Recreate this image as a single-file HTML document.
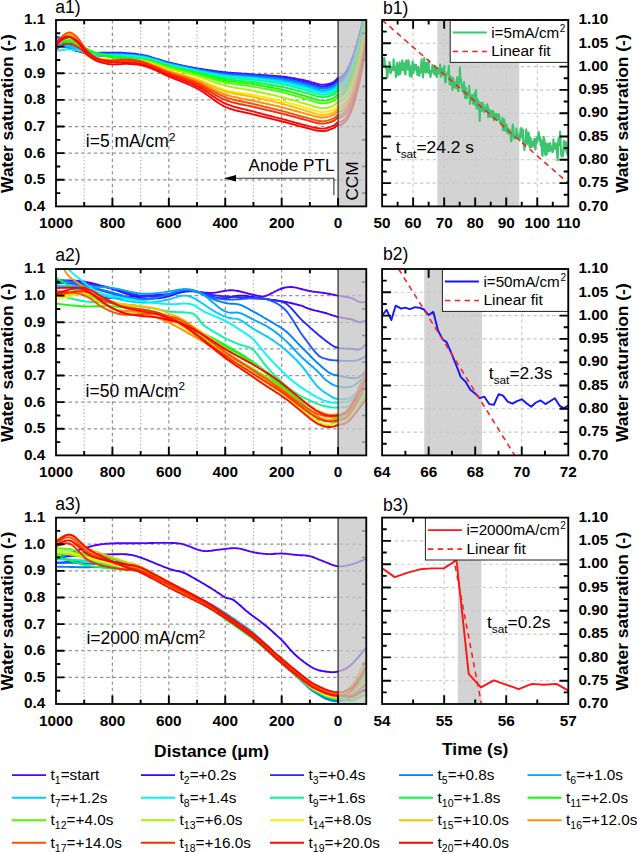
<!DOCTYPE html>
<html><head><meta charset="utf-8"><style>
html,body{margin:0;padding:0;background:#fff;width:637px;height:852px;overflow:hidden}
svg{display:block;font-family:"Liberation Sans",sans-serif}
</style></head><body>
<svg width="637" height="852" viewBox="0 0 637 852" font-family="Liberation Sans, sans-serif">
<defs>
<clipPath id="clipA0"><rect x="56.0" y="20.0" width="310.3" height="186.4"/></clipPath>
<clipPath id="clipB0"><rect x="382.1" y="20.0" width="186.19999999999993" height="186.4"/></clipPath>
<clipPath id="clipA1"><rect x="56.0" y="269.0" width="310.3" height="186.4"/></clipPath>
<clipPath id="clipB1"><rect x="382.1" y="269.0" width="186.19999999999993" height="186.4"/></clipPath>
<clipPath id="clipA2"><rect x="56.0" y="517.6" width="310.3" height="186.4"/></clipPath>
<clipPath id="clipB2"><rect x="382.1" y="517.6" width="186.19999999999993" height="186.4"/></clipPath>
</defs>
<rect width="637" height="852" fill="#fff"/>
<g>
<line x1="56.0" y1="46.63" x2="366.3" y2="46.63" stroke="#959595" stroke-width="1.25" stroke-dasharray="3.4 2.9"/>
<line x1="56.0" y1="73.26" x2="366.3" y2="73.26" stroke="#959595" stroke-width="1.25" stroke-dasharray="3.4 2.9"/>
<line x1="56.0" y1="99.89" x2="366.3" y2="99.89" stroke="#959595" stroke-width="1.25" stroke-dasharray="3.4 2.9"/>
<line x1="56.0" y1="126.51" x2="366.3" y2="126.51" stroke="#959595" stroke-width="1.25" stroke-dasharray="3.4 2.9"/>
<line x1="56.0" y1="153.14" x2="366.3" y2="153.14" stroke="#959595" stroke-width="1.25" stroke-dasharray="3.4 2.9"/>
<line x1="56.0" y1="179.77" x2="366.3" y2="179.77" stroke="#959595" stroke-width="1.25" stroke-dasharray="3.4 2.9"/>
<line x1="112.42" y1="20.0" x2="112.42" y2="206.4" stroke="#959595" stroke-width="1.25" stroke-dasharray="3.4 2.9"/>
<line x1="168.84" y1="20.0" x2="168.84" y2="206.4" stroke="#959595" stroke-width="1.25" stroke-dasharray="3.4 2.9"/>
<line x1="225.25" y1="20.0" x2="225.25" y2="206.4" stroke="#959595" stroke-width="1.25" stroke-dasharray="3.4 2.9"/>
<line x1="281.67" y1="20.0" x2="281.67" y2="206.4" stroke="#959595" stroke-width="1.25" stroke-dasharray="3.4 2.9"/>
<line x1="84.21" y1="20.0" x2="84.21" y2="206.4" stroke="#b4b4b4" stroke-width="1.25" stroke-dasharray="1.2 2.3"/>
<line x1="140.63" y1="20.0" x2="140.63" y2="206.4" stroke="#b4b4b4" stroke-width="1.25" stroke-dasharray="1.2 2.3"/>
<line x1="197.05" y1="20.0" x2="197.05" y2="206.4" stroke="#b4b4b4" stroke-width="1.25" stroke-dasharray="1.2 2.3"/>
<line x1="253.46" y1="20.0" x2="253.46" y2="206.4" stroke="#b4b4b4" stroke-width="1.25" stroke-dasharray="1.2 2.3"/>
<line x1="309.88" y1="20.0" x2="309.88" y2="206.4" stroke="#b4b4b4" stroke-width="1.25" stroke-dasharray="1.2 2.3"/>
<g clip-path="url(#clipA0)" fill="none" stroke-width="1.9" stroke-linejoin="round">
<path d="M366.3 4.0L364.9 10.9L363.5 17.5L362.1 23.7L360.7 29.6L359.2 35.2L357.8 40.5L356.4 45.4L355.0 50.0L353.6 54.3L352.2 58.2L350.8 61.8L349.4 65.1L348.0 68.0L346.6 70.5L345.1 72.7L343.7 74.6L342.3 76.0L340.9 77.1L339.5 77.8L338.1 77.8L336.7 79.2L335.3 80.7L333.9 81.8L332.4 82.5L331.0 83.1L329.6 83.6L328.2 84.0L326.8 84.3L325.4 84.5L324.0 84.6L322.6 84.6L321.2 84.6L319.8 84.4L318.3 84.1L316.9 83.8L315.5 83.4L314.1 83.0L312.7 82.6L311.3 82.2L309.9 81.7L308.5 81.3L307.1 81.0L305.7 80.6L304.2 80.3L302.8 80.0L301.4 79.7L300.0 79.4L298.6 79.1L297.2 78.9L295.8 78.6L294.4 78.3L293.0 78.1L291.5 77.9L290.1 77.6L288.7 77.4L287.3 77.2L285.9 77.0L284.5 76.8L283.1 76.6L281.7 76.5L280.3 76.3L278.9 76.2L277.4 76.1L276.0 76.0L274.6 75.9L273.2 75.8L271.8 75.7L270.4 75.6L269.0 75.5L267.6 75.5L266.2 75.4L264.7 75.3L263.3 75.3L261.9 75.2L260.5 75.1L259.1 75.1L257.7 75.0L256.3 74.9L254.9 74.9L253.5 74.8L252.1 74.7L250.6 74.6L249.2 74.6L247.8 74.5L246.4 74.4L245.0 74.4L243.6 74.3L242.2 74.3L240.8 74.2L239.4 74.2L237.9 74.1L236.5 74.0L235.1 74.0L233.7 73.9L232.3 73.8L230.9 73.7L229.5 73.6L228.1 73.5L226.7 73.3L225.3 73.2L223.8 73.0L222.4 72.9L221.0 72.7L219.6 72.5L218.2 72.4L216.8 72.2L215.4 72.0L214.0 71.8L212.6 71.5L211.2 71.3L209.7 71.1L208.3 70.9L206.9 70.6L205.5 70.4L204.1 70.2L202.7 69.9L201.3 69.7L199.9 69.4L198.5 69.1L197.0 68.9L195.6 68.6L194.2 68.3L192.8 68.1L191.4 67.8L190.0 67.5L188.6 67.2L187.2 66.9L185.8 66.6L184.4 66.3L182.9 66.0L181.5 65.7L180.1 65.4L178.7 65.0L177.3 64.7L175.9 64.4L174.5 64.1L173.1 63.7L171.7 63.4L170.2 63.1L168.8 62.7L167.4 62.4L166.0 62.0L164.6 61.6L163.2 61.2L161.8 60.7L160.4 60.3L159.0 59.8L157.6 59.4L156.1 59.0L154.7 58.6L153.3 58.3L151.9 57.9L150.5 57.6L149.1 57.3L147.7 57.0L146.3 56.7L144.9 56.5L143.4 56.3L142.0 56.2L140.6 56.0L139.2 55.9L137.8 55.9L136.4 55.8L135.0 55.7L133.6 55.7L132.2 55.6L130.8 55.6L129.3 55.6L127.9 55.5L126.5 55.5L125.1 55.5L123.7 55.5L122.3 55.5L120.9 55.5L119.5 55.5L118.1 55.5L116.6 55.5L115.2 55.5L113.8 55.5L112.4 55.5L111.0 55.4L109.6 55.4L108.2 55.4L106.8 55.4L105.4 55.4L104.0 55.4L102.5 55.4L101.1 55.4L99.7 55.4L98.3 55.3L96.9 55.2L95.5 55.1L94.1 55.0L92.7 54.8L91.3 54.5L89.9 54.3L88.4 54.0L87.0 53.7L85.6 53.3L84.2 53.0L82.8 52.6L81.4 52.2L80.0 51.8L78.6 51.4L77.2 51.0L75.7 50.5L74.3 50.0L72.9 49.4L71.5 48.9L70.1 48.4L68.7 47.9L67.3 47.4L65.9 47.0L64.5 46.6L63.1 46.2L61.6 45.9L60.2 45.5L58.8 45.1L57.4 44.8L56.0 44.4" stroke="#5500ff"/>
<path d="M366.3 4.9L364.9 11.8L363.5 18.4L362.1 24.7L360.7 30.7L359.2 36.3L357.8 41.6L356.4 46.5L355.0 51.1L353.6 55.4L352.2 59.4L350.8 63.0L349.4 66.2L348.0 69.1L346.6 71.7L345.1 73.9L343.7 75.7L342.3 77.1L340.9 78.2L339.5 78.9L338.1 79.3L336.7 80.7L335.3 82.2L333.9 83.4L332.4 84.1L331.0 84.7L329.6 85.2L328.2 85.6L326.8 86.0L325.4 86.2L324.0 86.4L322.6 86.4L321.2 86.4L319.8 86.2L318.3 85.9L316.9 85.6L315.5 85.2L314.1 84.8L312.7 84.4L311.3 84.0L309.9 83.5L308.5 83.1L307.1 82.7L305.7 82.4L304.2 82.0L302.8 81.7L301.4 81.4L300.0 81.1L298.6 80.8L297.2 80.4L295.8 80.1L294.4 79.8L293.0 79.5L291.5 79.3L290.1 79.0L288.7 78.7L287.3 78.4L285.9 78.2L284.5 77.9L283.1 77.7L281.7 77.5L280.3 77.3L278.9 77.1L277.4 76.9L276.0 76.7L274.6 76.6L273.2 76.4L271.8 76.3L270.4 76.1L269.0 76.0L267.6 75.8L266.2 75.7L264.7 75.6L263.3 75.4L261.9 75.3L260.5 75.2L259.1 75.0L257.7 74.9L256.3 74.8L254.9 74.6L253.5 74.5L252.1 74.4L250.6 74.3L249.2 74.1L247.8 74.0L246.4 73.9L245.0 73.8L243.6 73.7L242.2 73.6L240.8 73.5L239.4 73.4L237.9 73.3L236.5 73.2L235.1 73.1L233.7 73.0L232.3 72.9L230.9 72.8L229.5 72.7L228.1 72.6L226.7 72.4L225.3 72.3L223.8 72.1L222.4 72.0L221.0 71.8L219.6 71.6L218.2 71.5L216.8 71.3L215.4 71.1L214.0 70.9L212.6 70.7L211.2 70.5L209.7 70.3L208.3 70.1L206.9 69.9L205.5 69.7L204.1 69.5L202.7 69.3L201.3 69.0L199.9 68.8L198.5 68.6L197.0 68.4L195.6 68.2L194.2 67.9L192.8 67.7L191.4 67.5L190.0 67.2L188.6 67.0L187.2 66.7L185.8 66.5L184.4 66.2L182.9 66.0L181.5 65.7L180.1 65.5L178.7 65.2L177.3 64.9L175.9 64.7L174.5 64.4L173.1 64.1L171.7 63.8L170.2 63.5L168.8 63.2L167.4 62.9L166.0 62.6L164.6 62.2L163.2 61.8L161.8 61.4L160.4 61.0L159.0 60.5L157.6 60.1L156.1 59.8L154.7 59.4L153.3 59.2L151.9 59.0L150.5 58.8L149.1 58.6L147.7 58.4L146.3 58.3L144.9 58.2L143.4 58.1L142.0 58.1L140.6 58.0L139.2 58.0L137.8 58.0L136.4 58.0L135.0 58.0L133.6 58.1L132.2 58.1L130.8 58.1L129.3 58.0L127.9 58.0L126.5 58.0L125.1 57.9L123.7 57.9L122.3 57.8L120.9 57.7L119.5 57.6L118.1 57.5L116.6 57.4L115.2 57.3L113.8 57.1L112.4 56.9L111.0 56.7L109.6 56.5L108.2 56.2L106.8 56.0L105.4 55.7L104.0 55.4L102.5 55.1L101.1 54.8L99.7 54.4L98.3 54.0L96.9 53.6L95.5 53.2L94.1 52.7L92.7 52.1L91.3 51.5L89.9 50.8L88.4 50.2L87.0 49.5L85.6 48.8L84.2 48.1L82.8 47.3L81.4 46.6L80.0 45.8L78.6 45.1L77.2 44.3L75.7 43.6L74.3 42.8L72.9 42.0L71.5 41.3L70.1 40.5L68.7 40.0L67.3 39.5L65.9 39.1L64.5 38.7L63.1 38.4L61.6 38.1L60.2 37.9L58.8 37.7L57.4 37.5L56.0 37.3" stroke="#4000ff"/>
<path d="M366.3 5.6L364.9 12.6L363.5 19.2L362.1 25.5L360.7 31.5L359.2 37.1L357.8 42.4L356.4 47.4L355.0 52.0L353.6 56.3L352.2 60.2L350.8 63.8L349.4 67.1L348.0 70.0L346.6 72.5L345.1 74.7L343.7 76.5L342.3 78.0L340.9 79.0L339.5 79.7L338.1 80.7L336.7 82.0L335.3 83.5L333.9 84.6L332.4 85.3L331.0 85.9L329.6 86.3L328.2 86.7L326.8 87.0L325.4 87.2L324.0 87.3L322.6 87.3L321.2 87.2L319.8 87.0L318.3 86.7L316.9 86.4L315.5 86.0L314.1 85.5L312.7 85.1L311.3 84.6L309.9 84.1L308.5 83.7L307.1 83.3L305.7 82.9L304.2 82.5L302.8 82.1L301.4 81.8L300.0 81.5L298.6 81.1L297.2 80.8L295.8 80.5L294.4 80.2L293.0 79.8L291.5 79.5L290.1 79.3L288.7 79.0L287.3 78.7L285.9 78.4L284.5 78.2L283.1 78.0L281.7 77.7L280.3 77.5L278.9 77.4L277.4 77.2L276.0 77.0L274.6 76.9L273.2 76.7L271.8 76.6L270.4 76.4L269.0 76.3L267.6 76.2L266.2 76.1L264.7 75.9L263.3 75.8L261.9 75.7L260.5 75.6L259.1 75.5L257.7 75.4L256.3 75.3L254.9 75.2L253.5 75.1L252.1 75.0L250.6 74.8L249.2 74.8L247.8 74.7L246.4 74.6L245.0 74.5L243.6 74.4L242.2 74.3L240.8 74.3L239.4 74.2L237.9 74.1L236.5 74.0L235.1 73.9L233.7 73.8L232.3 73.7L230.9 73.6L229.5 73.5L228.1 73.4L226.7 73.2L225.3 73.1L223.8 72.9L222.4 72.8L221.0 72.6L219.6 72.4L218.2 72.2L216.8 72.0L215.4 71.8L214.0 71.6L212.6 71.4L211.2 71.2L209.7 70.9L208.3 70.7L206.9 70.5L205.5 70.2L204.1 70.0L202.7 69.7L201.3 69.5L199.9 69.2L198.5 68.9L197.0 68.7L195.6 68.4L194.2 68.1L192.8 67.8L191.4 67.6L190.0 67.3L188.6 67.0L187.2 66.7L185.8 66.4L184.4 66.1L182.9 65.8L181.5 65.5L180.1 65.1L178.7 64.8L177.3 64.5L175.9 64.2L174.5 63.8L173.1 63.5L171.7 63.2L170.2 62.8L168.8 62.5L167.4 62.1L166.0 61.7L164.6 61.3L163.2 60.9L161.8 60.5L160.4 60.0L159.0 59.5L157.6 59.1L156.1 58.7L154.7 58.3L153.3 57.8L151.9 57.4L150.5 56.9L149.1 56.5L147.7 56.1L146.3 55.7L144.9 55.4L143.4 55.1L142.0 54.8L140.6 54.6L139.2 54.4L137.8 54.2L136.4 54.0L135.0 53.8L133.6 53.7L132.2 53.5L130.8 53.4L129.3 53.3L127.9 53.2L126.5 53.1L125.1 53.0L123.7 52.9L122.3 52.8L120.9 52.8L119.5 52.7L118.1 52.7L116.6 52.6L115.2 52.6L113.8 52.6L112.4 52.6L111.0 52.6L109.6 52.6L108.2 52.6L106.8 52.6L105.4 52.6L104.0 52.7L102.5 52.7L101.1 52.8L99.7 52.8L98.3 52.9L96.9 52.9L95.5 52.9L94.1 52.9L92.7 52.8L91.3 52.7L89.9 52.6L88.4 52.5L87.0 52.3L85.6 52.1L84.2 52.0L82.8 51.8L81.4 51.6L80.0 51.4L78.6 51.1L77.2 50.8L75.7 50.5L74.3 50.0L72.9 49.5L71.5 48.9L70.1 48.2L68.7 47.3L67.3 46.4L65.9 45.4L64.5 44.4L63.1 43.3L61.6 42.3L60.2 41.5L58.8 40.8L57.4 40.4L56.0 40.1" stroke="#2828ff"/>
<path d="M366.3 6.7L364.9 13.7L363.5 20.4L362.1 26.8L360.7 32.8L359.2 38.4L357.8 43.8L356.4 48.8L355.0 53.4L353.6 57.7L352.2 61.7L350.8 65.3L349.4 68.5L348.0 71.4L346.6 73.9L345.1 76.1L343.7 77.9L342.3 79.3L340.9 80.4L339.5 81.0L338.1 81.3L336.7 82.7L335.3 84.2L333.9 85.3L332.4 86.0L331.0 86.5L329.6 87.0L328.2 87.4L326.8 87.7L325.4 87.9L324.0 88.0L322.6 88.0L321.2 87.9L319.8 87.7L318.3 87.4L316.9 87.0L315.5 86.6L314.1 86.2L312.7 85.7L311.3 85.3L309.9 84.8L308.5 84.4L307.1 83.9L305.7 83.5L304.2 83.2L302.8 82.8L301.4 82.5L300.0 82.1L298.6 81.8L297.2 81.5L295.8 81.1L294.4 80.8L293.0 80.5L291.5 80.2L290.1 79.9L288.7 79.6L287.3 79.3L285.9 79.1L284.5 78.8L283.1 78.6L281.7 78.3L280.3 78.1L278.9 77.9L277.4 77.7L276.0 77.6L274.6 77.4L273.2 77.2L271.8 77.1L270.4 76.9L269.0 76.8L267.6 76.6L266.2 76.5L264.7 76.4L263.3 76.3L261.9 76.1L260.5 76.0L259.1 75.9L257.7 75.8L256.3 75.7L254.9 75.5L253.5 75.4L252.1 75.3L250.6 75.2L249.2 75.1L247.8 75.0L246.4 74.9L245.0 74.8L243.6 74.7L242.2 74.7L240.8 74.6L239.4 74.5L237.9 74.4L236.5 74.3L235.1 74.2L233.7 74.1L232.3 74.0L230.9 73.9L229.5 73.8L228.1 73.7L226.7 73.6L225.3 73.4L223.8 73.2L222.4 73.1L221.0 72.9L219.6 72.7L218.2 72.5L216.8 72.3L215.4 72.1L214.0 71.9L212.6 71.7L211.2 71.5L209.7 71.3L208.3 71.1L206.9 70.8L205.5 70.6L204.1 70.3L202.7 70.1L201.3 69.9L199.9 69.6L198.5 69.4L197.0 69.1L195.6 68.9L194.2 68.6L192.8 68.3L191.4 68.1L190.0 67.8L188.6 67.5L187.2 67.3L185.8 67.0L184.4 66.7L182.9 66.4L181.5 66.1L180.1 65.8L178.7 65.5L177.3 65.2L175.9 64.9L174.5 64.6L173.1 64.3L171.7 64.0L170.2 63.7L168.8 63.4L167.4 63.0L166.0 62.6L164.6 62.3L163.2 61.8L161.8 61.4L160.4 60.9L159.0 60.5L157.6 60.1L156.1 59.7L154.7 59.3L153.3 59.0L151.9 58.7L150.5 58.3L149.1 58.0L147.7 57.7L146.3 57.5L144.9 57.3L143.4 57.1L142.0 57.0L140.6 56.9L139.2 56.8L137.8 56.7L136.4 56.6L135.0 56.6L133.6 56.5L132.2 56.5L130.8 56.5L129.3 56.4L127.9 56.4L126.5 56.4L125.1 56.3L123.7 56.3L122.3 56.3L120.9 56.3L119.5 56.3L118.1 56.2L116.6 56.2L115.2 56.2L113.8 56.2L112.4 56.1L111.0 56.1L109.6 56.0L108.2 56.0L106.8 55.9L105.4 55.9L104.0 55.8L102.5 55.7L101.1 55.7L99.7 55.6L98.3 55.5L96.9 55.3L95.5 55.2L94.1 55.0L92.7 54.7L91.3 54.4L89.9 54.1L88.4 53.7L87.0 53.3L85.6 52.9L84.2 52.5L82.8 52.0L81.4 51.5L80.0 51.1L78.6 50.6L77.2 50.0L75.7 49.4L74.3 48.7L72.9 47.9L71.5 47.0L70.1 46.1L68.7 45.0L67.3 43.9L65.9 42.7L64.5 41.5L63.1 40.4L61.6 39.2L60.2 38.3L58.8 37.5L57.4 37.0L56.0 36.7" stroke="#1a55ff"/>
<path d="M366.3 7.9L364.9 14.9L363.5 21.7L362.1 28.1L360.7 34.1L359.2 39.8L357.8 45.2L356.4 50.2L355.0 54.8L353.6 59.1L352.2 63.1L350.8 66.7L349.4 69.9L348.0 72.8L346.6 75.3L345.1 77.5L343.7 79.3L342.3 80.7L340.9 81.7L339.5 82.4L338.1 81.9L336.7 83.3L335.3 84.7L333.9 85.8L332.4 86.5L331.0 87.0L329.6 87.4L328.2 87.8L326.8 88.1L325.4 88.3L324.0 88.4L322.6 88.4L321.2 88.3L319.8 88.1L318.3 87.8L316.9 87.5L315.5 87.1L314.1 86.6L312.7 86.2L311.3 85.7L309.9 85.3L308.5 84.8L307.1 84.4L305.7 84.0L304.2 83.7L302.8 83.3L301.4 83.0L300.0 82.7L298.6 82.4L297.2 82.1L295.8 81.7L294.4 81.4L293.0 81.1L291.5 80.9L290.1 80.6L288.7 80.3L287.3 80.1L285.9 79.8L284.5 79.6L283.1 79.4L281.7 79.2L280.3 79.0L278.9 78.8L277.4 78.7L276.0 78.5L274.6 78.4L273.2 78.2L271.8 78.1L270.4 78.0L269.0 77.9L267.6 77.8L266.2 77.6L264.7 77.5L263.3 77.4L261.9 77.3L260.5 77.3L259.1 77.2L257.7 77.1L256.3 77.0L254.9 76.9L253.5 76.8L252.1 76.7L250.6 76.6L249.2 76.5L247.8 76.4L246.4 76.3L245.0 76.2L243.6 76.2L242.2 76.1L240.8 76.0L239.4 75.9L237.9 75.9L236.5 75.8L235.1 75.7L233.7 75.6L232.3 75.5L230.9 75.4L229.5 75.3L228.1 75.1L226.7 75.0L225.3 74.8L223.8 74.7L222.4 74.5L221.0 74.3L219.6 74.1L218.2 73.9L216.8 73.6L215.4 73.4L214.0 73.2L212.6 72.9L211.2 72.7L209.7 72.4L208.3 72.2L206.9 71.9L205.5 71.6L204.1 71.3L202.7 71.1L201.3 70.8L199.9 70.5L198.5 70.2L197.0 69.9L195.6 69.6L194.2 69.3L192.8 69.0L191.4 68.7L190.0 68.4L188.6 68.1L187.2 67.8L185.8 67.5L184.4 67.2L182.9 66.8L181.5 66.5L180.1 66.2L178.7 65.9L177.3 65.5L175.9 65.2L174.5 64.8L173.1 64.5L171.7 64.2L170.2 63.8L168.8 63.4L167.4 63.1L166.0 62.7L164.6 62.3L163.2 61.8L161.8 61.3L160.4 60.9L159.0 60.4L157.6 59.9L156.1 59.5L154.7 59.1L153.3 58.7L151.9 58.3L150.5 57.9L149.1 57.5L147.7 57.1L146.3 56.7L144.9 56.4L143.4 56.2L142.0 55.9L140.6 55.7L139.2 55.5L137.8 55.4L136.4 55.2L135.0 55.1L133.6 54.9L132.2 54.8L130.8 54.7L129.3 54.6L127.9 54.5L126.5 54.5L125.1 54.4L123.7 54.3L122.3 54.3L120.9 54.2L119.5 54.2L118.1 54.2L116.6 54.2L115.2 54.1L113.8 54.1L112.4 54.1L111.0 54.1L109.6 54.0L108.2 54.0L106.8 54.0L105.4 54.0L104.0 54.0L102.5 54.0L101.1 53.9L99.7 53.9L98.3 53.9L96.9 53.8L95.5 53.7L94.1 53.5L92.7 53.3L91.3 53.1L89.9 52.8L88.4 52.5L87.0 52.2L85.6 51.9L84.2 51.5L82.8 51.1L81.4 50.7L80.0 50.3L78.6 49.9L77.2 49.5L75.7 49.1L74.3 48.7L72.9 48.3L71.5 47.9L70.1 47.5L68.7 47.2L67.3 46.9L65.9 46.7L64.5 46.5L63.1 46.4L61.6 46.3L60.2 46.2L58.8 46.2L57.4 46.1L56.0 46.0" stroke="#0080ff"/>
<path d="M366.3 9.0L364.9 16.1L363.5 22.9L362.1 29.3L360.7 35.4L359.2 41.2L357.8 46.5L356.4 51.6L355.0 56.2L353.6 60.6L352.2 64.5L350.8 68.1L349.4 71.4L348.0 74.2L346.6 76.7L345.1 78.9L343.7 80.7L342.3 82.1L340.9 83.1L339.5 83.7L338.1 83.8L336.7 85.1L335.3 86.6L333.9 87.6L332.4 88.3L331.0 88.8L329.6 89.3L328.2 89.6L326.8 89.9L325.4 90.1L324.0 90.2L322.6 90.2L321.2 90.1L319.8 89.9L318.3 89.6L316.9 89.2L315.5 88.8L314.1 88.4L312.7 87.9L311.3 87.4L309.9 86.9L308.5 86.5L307.1 86.1L305.7 85.7L304.2 85.3L302.8 84.9L301.4 84.6L300.0 84.2L298.6 83.9L297.2 83.5L295.8 83.2L294.4 82.9L293.0 82.5L291.5 82.2L290.1 81.9L288.7 81.6L287.3 81.4L285.9 81.1L284.5 80.8L283.1 80.6L281.7 80.3L280.3 80.1L278.9 79.9L277.4 79.7L276.0 79.5L274.6 79.4L273.2 79.2L271.8 79.1L270.4 78.9L269.0 78.8L267.6 78.6L266.2 78.5L264.7 78.3L263.3 78.2L261.9 78.1L260.5 78.0L259.1 77.8L257.7 77.7L256.3 77.6L254.9 77.5L253.5 77.3L252.1 77.2L250.6 77.1L249.2 77.0L247.8 76.9L246.4 76.8L245.0 76.7L243.6 76.6L242.2 76.5L240.8 76.4L239.4 76.3L237.9 76.2L236.5 76.1L235.1 76.0L233.7 75.9L232.3 75.8L230.9 75.7L229.5 75.6L228.1 75.4L226.7 75.3L225.3 75.1L223.8 74.9L222.4 74.7L221.0 74.5L219.6 74.3L218.2 74.1L216.8 73.8L215.4 73.6L214.0 73.3L212.6 73.1L211.2 72.8L209.7 72.6L208.3 72.3L206.9 72.0L205.5 71.7L204.1 71.4L202.7 71.2L201.3 70.9L199.9 70.6L198.5 70.3L197.0 70.0L195.6 69.7L194.2 69.4L192.8 69.1L191.4 68.8L190.0 68.5L188.6 68.2L187.2 67.9L185.8 67.6L184.4 67.3L182.9 67.0L181.5 66.7L180.1 66.3L178.7 66.0L177.3 65.7L175.9 65.4L174.5 65.0L173.1 64.7L171.7 64.4L170.2 64.0L168.8 63.7L167.4 63.3L166.0 62.9L164.6 62.5L163.2 62.0L161.8 61.6L160.4 61.1L159.0 60.6L157.6 60.2L156.1 59.8L154.7 59.4L153.3 59.0L151.9 58.6L150.5 58.1L149.1 57.7L147.7 57.4L146.3 57.1L144.9 56.8L143.4 56.5L142.0 56.3L140.6 56.1L139.2 55.9L137.8 55.7L136.4 55.6L135.0 55.5L133.6 55.4L132.2 55.3L130.8 55.2L129.3 55.1L127.9 55.0L126.5 54.9L125.1 54.9L123.7 54.8L122.3 54.7L120.9 54.7L119.5 54.6L118.1 54.6L116.6 54.5L115.2 54.5L113.8 54.4L112.4 54.4L111.0 54.3L109.6 54.2L108.2 54.1L106.8 54.1L105.4 54.0L104.0 53.9L102.5 53.8L101.1 53.6L99.7 53.5L98.3 53.3L96.9 53.2L95.5 52.9L94.1 52.7L92.7 52.3L91.3 51.9L89.9 51.5L88.4 51.1L87.0 50.6L85.6 50.1L84.2 49.6L82.8 49.1L81.4 48.5L80.0 48.0L78.6 47.5L77.2 47.1L75.7 46.6L74.3 46.1L72.9 45.7L71.5 45.3L70.1 45.0L68.7 44.8L67.3 44.6L65.9 44.5L64.5 44.5L63.1 44.5L61.6 44.5L60.2 44.5L58.8 44.5L57.4 44.5L56.0 44.4" stroke="#00a5ff"/>
<path d="M366.3 10.1L364.9 17.3L363.5 24.1L362.1 30.6L360.7 36.7L359.2 42.5L357.8 47.9L356.4 53.0L355.0 57.7L353.6 62.0L352.2 65.9L350.8 69.5L349.4 72.8L348.0 75.7L346.6 78.2L345.1 80.3L343.7 82.0L342.3 83.4L340.9 84.4L339.5 85.0L338.1 84.9L336.7 86.3L335.3 87.7L333.9 88.8L332.4 89.5L331.0 90.0L329.6 90.4L328.2 90.8L326.8 91.1L325.4 91.3L324.0 91.4L322.6 91.4L321.2 91.3L319.8 91.1L318.3 90.8L316.9 90.4L315.5 90.0L314.1 89.6L312.7 89.1L311.3 88.6L309.9 88.2L308.5 87.7L307.1 87.3L305.7 86.9L304.2 86.5L302.8 86.1L301.4 85.8L300.0 85.4L298.6 85.0L297.2 84.7L295.8 84.3L294.4 84.0L293.0 83.6L291.5 83.3L290.1 83.0L288.7 82.7L287.3 82.4L285.9 82.1L284.5 81.8L283.1 81.5L281.7 81.3L280.3 81.0L278.9 80.8L277.4 80.6L276.0 80.4L274.6 80.2L273.2 80.0L271.8 79.8L270.4 79.6L269.0 79.5L267.6 79.3L266.2 79.1L264.7 79.0L263.3 78.8L261.9 78.7L260.5 78.5L259.1 78.4L257.7 78.2L256.3 78.1L254.9 78.0L253.5 77.8L252.1 77.7L250.6 77.5L249.2 77.4L247.8 77.3L246.4 77.2L245.0 77.1L243.6 77.0L242.2 76.9L240.8 76.8L239.4 76.7L237.9 76.6L236.5 76.5L235.1 76.3L233.7 76.2L232.3 76.1L230.9 76.0L229.5 75.8L228.1 75.7L226.7 75.5L225.3 75.4L223.8 75.2L222.4 75.0L221.0 74.8L219.6 74.6L218.2 74.3L216.8 74.1L215.4 73.9L214.0 73.6L212.6 73.3L211.2 73.1L209.7 72.8L208.3 72.5L206.9 72.3L205.5 72.0L204.1 71.7L202.7 71.4L201.3 71.2L199.9 70.9L198.5 70.6L197.0 70.3L195.6 70.0L194.2 69.8L192.8 69.5L191.4 69.2L190.0 68.9L188.6 68.6L187.2 68.3L185.8 68.0L184.4 67.7L182.9 67.4L181.5 67.1L180.1 66.8L178.7 66.5L177.3 66.2L175.9 65.9L174.5 65.6L173.1 65.2L171.7 64.9L170.2 64.6L168.8 64.2L167.4 63.9L166.0 63.5L164.6 63.1L163.2 62.7L161.8 62.2L160.4 61.7L159.0 61.3L157.6 60.8L156.1 60.4L154.7 60.0L153.3 59.7L151.9 59.3L150.5 59.0L149.1 58.6L147.7 58.3L146.3 58.1L144.9 57.8L143.4 57.6L142.0 57.5L140.6 57.3L139.2 57.2L137.8 57.1L136.4 57.0L135.0 57.0L133.6 56.9L132.2 56.9L130.8 56.8L129.3 56.8L127.9 56.7L126.5 56.7L125.1 56.7L123.7 56.6L122.3 56.6L120.9 56.6L119.5 56.6L118.1 56.6L116.6 56.5L115.2 56.5L113.8 56.5L112.4 56.4L111.0 56.4L109.6 56.3L108.2 56.2L106.8 56.1L105.4 56.0L104.0 55.9L102.5 55.8L101.1 55.7L99.7 55.5L98.3 55.4L96.9 55.2L95.5 54.9L94.1 54.6L92.7 54.3L91.3 53.9L89.9 53.4L88.4 53.0L87.0 52.5L85.6 51.9L84.2 51.4L82.8 50.8L81.4 50.2L80.0 49.7L78.6 49.2L77.2 48.7L75.7 48.2L74.3 47.8L72.9 47.4L71.5 47.0L70.1 46.7L68.7 46.4L67.3 46.3L65.9 46.2L64.5 46.2L63.1 46.2L61.6 46.3L60.2 46.3L58.8 46.4L57.4 46.4L56.0 46.3" stroke="#00ccff"/>
<path d="M366.3 11.2L364.9 18.5L363.5 25.4L362.1 31.9L360.7 38.1L359.2 43.9L357.8 49.3L356.4 54.4L355.0 59.1L353.6 63.4L352.2 67.4L350.8 71.0L349.4 74.2L348.0 77.1L346.6 79.6L345.1 81.7L343.7 83.4L342.3 84.8L340.9 85.8L339.5 86.4L338.1 86.4L336.7 87.7L335.3 89.2L333.9 90.2L332.4 90.9L331.0 91.4L329.6 91.9L328.2 92.3L326.8 92.5L325.4 92.7L324.0 92.8L322.6 92.8L321.2 92.7L319.8 92.5L318.3 92.2L316.9 91.8L315.5 91.4L314.1 91.0L312.7 90.5L311.3 90.0L309.9 89.5L308.5 89.0L307.1 88.6L305.7 88.2L304.2 87.8L302.8 87.4L301.4 87.0L300.0 86.7L298.6 86.3L297.2 85.9L295.8 85.5L294.4 85.2L293.0 84.8L291.5 84.5L290.1 84.1L288.7 83.8L287.3 83.5L285.9 83.2L284.5 82.9L283.1 82.6L281.7 82.4L280.3 82.1L278.9 81.9L277.4 81.6L276.0 81.4L274.6 81.2L273.2 81.0L271.8 80.8L270.4 80.6L269.0 80.5L267.6 80.3L266.2 80.1L264.7 79.9L263.3 79.8L261.9 79.6L260.5 79.5L259.1 79.3L257.7 79.2L256.3 79.0L254.9 78.9L253.5 78.7L252.1 78.6L250.6 78.5L249.2 78.3L247.8 78.2L246.4 78.1L245.0 78.0L243.6 77.9L242.2 77.8L240.8 77.7L239.4 77.6L237.9 77.5L236.5 77.4L235.1 77.3L233.7 77.2L232.3 77.1L230.9 76.9L229.5 76.8L228.1 76.6L226.7 76.5L225.3 76.3L223.8 76.1L222.4 75.9L221.0 75.7L219.6 75.5L218.2 75.2L216.8 75.0L215.4 74.7L214.0 74.5L212.6 74.2L211.2 73.9L209.7 73.6L208.3 73.4L206.9 73.1L205.5 72.8L204.1 72.5L202.7 72.2L201.3 71.9L199.9 71.6L198.5 71.3L197.0 71.0L195.6 70.7L194.2 70.4L192.8 70.1L191.4 69.8L190.0 69.5L188.6 69.2L187.2 68.9L185.8 68.5L184.4 68.2L182.9 67.9L181.5 67.6L180.1 67.3L178.7 66.9L177.3 66.6L175.9 66.3L174.5 65.9L173.1 65.6L171.7 65.2L170.2 64.9L168.8 64.5L167.4 64.1L166.0 63.7L164.6 63.3L163.2 62.9L161.8 62.4L160.4 61.9L159.0 61.4L157.6 60.9L156.1 60.5L154.7 60.1L153.3 59.7L151.9 59.3L150.5 58.9L149.1 58.5L147.7 58.1L146.3 57.7L144.9 57.4L143.4 57.2L142.0 56.9L140.6 56.7L139.2 56.5L137.8 56.3L136.4 56.2L135.0 56.0L133.6 55.9L132.2 55.8L130.8 55.7L129.3 55.6L127.9 55.5L126.5 55.4L125.1 55.4L123.7 55.3L122.3 55.3L120.9 55.2L119.5 55.2L118.1 55.2L116.6 55.1L115.2 55.1L113.8 55.1L112.4 55.1L111.0 55.0L109.6 55.0L108.2 55.0L106.8 54.9L105.4 54.9L104.0 54.9L102.5 54.8L101.1 54.8L99.7 54.8L98.3 54.7L96.9 54.6L95.5 54.5L94.1 54.3L92.7 54.1L91.3 53.9L89.9 53.6L88.4 53.3L87.0 52.9L85.6 52.6L84.2 52.2L82.8 51.8L81.4 51.4L80.0 51.0L78.6 50.7L77.2 50.4L75.7 50.1L74.3 49.9L72.9 49.7L71.5 49.5L70.1 49.4L68.7 49.4L67.3 49.4L65.9 49.5L64.5 49.7L63.1 49.8L61.6 50.0L60.2 50.2L58.8 50.4L57.4 50.6L56.0 50.7" stroke="#00f5ff"/>
<path d="M366.3 12.8L364.9 20.2L363.5 27.1L362.1 33.7L360.7 39.9L359.2 45.8L357.8 51.2L356.4 56.3L355.0 61.0L353.6 65.4L352.2 69.4L350.8 73.0L349.4 76.2L348.0 79.1L346.6 81.5L345.1 83.6L343.7 85.4L342.3 86.7L340.9 87.7L339.5 88.2L338.1 88.3L336.7 89.6L335.3 91.0L333.9 92.1L332.4 92.8L331.0 93.3L329.6 93.7L328.2 94.1L326.8 94.4L325.4 94.6L324.0 94.7L322.6 94.7L321.2 94.6L319.8 94.4L318.3 94.1L316.9 93.7L315.5 93.3L314.1 92.9L312.7 92.4L311.3 91.9L309.9 91.4L308.5 91.0L307.1 90.5L305.7 90.1L304.2 89.7L302.8 89.3L301.4 88.9L300.0 88.5L298.6 88.1L297.2 87.7L295.8 87.4L294.4 87.0L293.0 86.6L291.5 86.3L290.1 85.9L288.7 85.6L287.3 85.2L285.9 84.9L284.5 84.6L283.1 84.3L281.7 84.0L280.3 83.7L278.9 83.4L277.4 83.2L276.0 82.9L274.6 82.7L273.2 82.5L271.8 82.3L270.4 82.0L269.0 81.8L267.6 81.6L266.2 81.4L264.7 81.3L263.3 81.1L261.9 80.9L260.5 80.7L259.1 80.5L257.7 80.4L256.3 80.2L254.9 80.0L253.5 79.8L252.1 79.7L250.6 79.5L249.2 79.4L247.8 79.2L246.4 79.1L245.0 79.0L243.6 78.9L242.2 78.7L240.8 78.6L239.4 78.5L237.9 78.4L236.5 78.3L235.1 78.2L233.7 78.0L232.3 77.9L230.9 77.8L229.5 77.6L228.1 77.4L226.7 77.3L225.3 77.1L223.8 76.9L222.4 76.7L221.0 76.4L219.6 76.2L218.2 76.0L216.8 75.7L215.4 75.4L214.0 75.2L212.6 74.9L211.2 74.6L209.7 74.3L208.3 74.0L206.9 73.7L205.5 73.4L204.1 73.1L202.7 72.8L201.3 72.5L199.9 72.2L198.5 71.9L197.0 71.6L195.6 71.3L194.2 71.0L192.8 70.7L191.4 70.4L190.0 70.1L188.6 69.8L187.2 69.6L185.8 69.3L184.4 68.9L182.9 68.6L181.5 68.3L180.1 68.0L178.7 67.7L177.3 67.4L175.9 67.1L174.5 66.7L173.1 66.4L171.7 66.1L170.2 65.7L168.8 65.4L167.4 65.0L166.0 64.6L164.6 64.2L163.2 63.7L161.8 63.3L160.4 62.8L159.0 62.3L157.6 61.8L156.1 61.4L154.7 61.0L153.3 60.6L151.9 60.3L150.5 59.9L149.1 59.6L147.7 59.3L146.3 59.0L144.9 58.8L143.4 58.6L142.0 58.4L140.6 58.2L139.2 58.0L137.8 57.9L136.4 57.8L135.0 57.7L133.6 57.6L132.2 57.5L130.8 57.4L129.3 57.3L127.9 57.2L126.5 57.0L125.1 56.9L123.7 56.8L122.3 56.7L120.9 56.6L119.5 56.5L118.1 56.4L116.6 56.3L115.2 56.2L113.8 56.0L112.4 55.9L111.0 55.7L109.6 55.5L108.2 55.3L106.8 55.1L105.4 54.9L104.0 54.6L102.5 54.4L101.1 54.1L99.7 53.8L98.3 53.5L96.9 53.2L95.5 52.8L94.1 52.3L92.7 51.8L91.3 51.2L89.9 50.6L88.4 50.0L87.0 49.3L85.6 48.6L84.2 47.9L82.8 47.1L81.4 46.3L80.0 45.5L78.6 44.8L77.2 44.1L75.7 43.5L74.3 42.8L72.9 42.2L71.5 41.6L70.1 41.1L68.7 40.8L67.3 40.6L65.9 40.5L64.5 40.4L63.1 40.4L61.6 40.5L60.2 40.7L58.8 40.9L57.4 41.0L56.0 41.2" stroke="#00faa0"/>
<path d="M366.3 15.3L364.9 22.8L363.5 29.8L362.1 36.5L360.7 42.8L359.2 48.7L357.8 54.3L356.4 59.4L355.0 64.2L353.6 68.5L352.2 72.5L350.8 76.1L349.4 79.3L348.0 82.2L346.6 84.6L345.1 86.7L343.7 88.4L342.3 89.7L340.9 90.6L339.5 91.2L338.1 90.4L336.7 91.8L335.3 93.2L333.9 94.3L332.4 95.0L331.0 95.5L329.6 96.0L328.2 96.4L326.8 96.7L325.4 96.9L324.0 97.1L322.6 97.1L321.2 97.0L319.8 96.9L318.3 96.6L316.9 96.3L315.5 95.9L314.1 95.4L312.7 95.0L311.3 94.6L309.9 94.1L308.5 93.7L307.1 93.2L305.7 92.8L304.2 92.4L302.8 92.1L301.4 91.7L300.0 91.3L298.6 91.0L297.2 90.6L295.8 90.2L294.4 89.9L293.0 89.5L291.5 89.1L290.1 88.8L288.7 88.4L287.3 88.1L285.9 87.8L284.5 87.4L283.1 87.1L281.7 86.8L280.3 86.5L278.9 86.2L277.4 86.0L276.0 85.7L274.6 85.5L273.2 85.2L271.8 85.0L270.4 84.7L269.0 84.5L267.6 84.3L266.2 84.1L264.7 83.8L263.3 83.6L261.9 83.4L260.5 83.2L259.1 83.0L257.7 82.8L256.3 82.6L254.9 82.4L253.5 82.2L252.1 82.0L250.6 81.8L249.2 81.6L247.8 81.4L246.4 81.3L245.0 81.1L243.6 81.0L242.2 80.8L240.8 80.7L239.4 80.6L237.9 80.4L236.5 80.3L235.1 80.1L233.7 80.0L232.3 79.8L230.9 79.6L229.5 79.5L228.1 79.3L226.7 79.1L225.3 78.8L223.8 78.6L222.4 78.4L221.0 78.1L219.6 77.8L218.2 77.5L216.8 77.2L215.4 76.9L214.0 76.6L212.6 76.3L211.2 76.0L209.7 75.7L208.3 75.3L206.9 75.0L205.5 74.7L204.1 74.3L202.7 74.0L201.3 73.7L199.9 73.3L198.5 73.0L197.0 72.7L195.6 72.4L194.2 72.1L192.8 71.8L191.4 71.5L190.0 71.2L188.6 70.9L187.2 70.6L185.8 70.3L184.4 70.0L182.9 69.7L181.5 69.4L180.1 69.1L178.7 68.7L177.3 68.4L175.9 68.1L174.5 67.8L173.1 67.4L171.7 67.1L170.2 66.7L168.8 66.3L167.4 66.0L166.0 65.5L164.6 65.1L163.2 64.6L161.8 64.2L160.4 63.7L159.0 63.2L157.6 62.7L156.1 62.2L154.7 61.8L153.3 61.5L151.9 61.1L150.5 60.8L149.1 60.4L147.7 60.1L146.3 59.8L144.9 59.6L143.4 59.3L142.0 59.1L140.6 58.9L139.2 58.8L137.8 58.6L136.4 58.5L135.0 58.3L133.6 58.2L132.2 58.1L130.8 57.9L129.3 57.8L127.9 57.7L126.5 57.5L125.1 57.4L123.7 57.3L122.3 57.1L120.9 57.0L119.5 56.9L118.1 56.7L116.6 56.6L115.2 56.4L113.8 56.3L112.4 56.1L111.0 55.9L109.6 55.7L108.2 55.4L106.8 55.2L105.4 55.0L104.0 54.7L102.5 54.4L101.1 54.2L99.7 53.9L98.3 53.6L96.9 53.2L95.5 52.8L94.1 52.4L92.7 51.9L91.3 51.3L89.9 50.8L88.4 50.1L87.0 49.5L85.6 48.8L84.2 48.0L82.8 47.3L81.4 46.5L80.0 45.8L78.6 45.1L77.2 44.5L75.7 43.9L74.3 43.4L72.9 42.8L71.5 42.4L70.1 42.0L68.7 41.8L67.3 41.7L65.9 41.7L64.5 41.8L63.1 41.9L61.6 42.2L60.2 42.4L58.8 42.8L57.4 43.1L56.0 43.4" stroke="#00ff40"/>
<path d="M366.3 18.0L364.9 25.6L363.5 32.8L362.1 39.6L360.7 46.0L359.2 52.0L357.8 57.6L356.4 62.8L355.0 67.6L353.6 72.0L352.2 75.9L350.8 79.5L349.4 82.8L348.0 85.6L346.6 88.0L345.1 90.0L343.7 91.7L342.3 93.0L340.9 93.9L339.5 94.4L338.1 94.1L336.7 95.5L335.3 96.8L333.9 97.9L332.4 98.6L331.0 99.1L329.6 99.6L328.2 100.0L326.8 100.3L325.4 100.5L324.0 100.6L322.6 100.6L321.2 100.6L319.8 100.4L318.3 100.1L316.9 99.7L315.5 99.3L314.1 98.9L312.7 98.5L311.3 98.0L309.9 97.5L308.5 97.1L307.1 96.6L305.7 96.2L304.2 95.8L302.8 95.4L301.4 95.0L300.0 94.6L298.6 94.2L297.2 93.8L295.8 93.4L294.4 93.0L293.0 92.6L291.5 92.2L290.1 91.8L288.7 91.4L287.3 91.0L285.9 90.6L284.5 90.3L283.1 89.9L281.7 89.6L280.3 89.3L278.9 89.0L277.4 88.6L276.0 88.4L274.6 88.1L273.2 87.8L271.8 87.5L270.4 87.2L269.0 87.0L267.6 86.7L266.2 86.4L264.7 86.2L263.3 85.9L261.9 85.7L260.5 85.4L259.1 85.2L257.7 85.0L256.3 84.7L254.9 84.5L253.5 84.3L252.1 84.0L250.6 83.8L249.2 83.6L247.8 83.4L246.4 83.2L245.0 83.1L243.6 82.9L242.2 82.7L240.8 82.6L239.4 82.4L237.9 82.2L236.5 82.1L235.1 81.9L233.7 81.7L232.3 81.6L230.9 81.4L229.5 81.2L228.1 81.0L226.7 80.7L225.3 80.5L223.8 80.2L222.4 80.0L221.0 79.7L219.6 79.4L218.2 79.0L216.8 78.7L215.4 78.4L214.0 78.0L212.6 77.7L211.2 77.3L209.7 76.9L208.3 76.6L206.9 76.2L205.5 75.8L204.1 75.5L202.7 75.1L201.3 74.7L199.9 74.4L198.5 74.1L197.0 73.7L195.6 73.4L194.2 73.1L192.8 72.8L191.4 72.5L190.0 72.2L188.6 71.9L187.2 71.6L185.8 71.3L184.4 70.9L182.9 70.6L181.5 70.3L180.1 70.0L178.7 69.7L177.3 69.4L175.9 69.1L174.5 68.7L173.1 68.4L171.7 68.0L170.2 67.7L168.8 67.3L167.4 66.9L166.0 66.5L164.6 66.1L163.2 65.6L161.8 65.1L160.4 64.6L159.0 64.1L157.6 63.6L156.1 63.2L154.7 62.7L153.3 62.4L151.9 62.1L150.5 61.8L149.1 61.5L147.7 61.2L146.3 61.0L144.9 60.7L143.4 60.5L142.0 60.3L140.6 60.2L139.2 60.0L137.8 59.9L136.4 59.8L135.0 59.7L133.6 59.6L132.2 59.5L130.8 59.4L129.3 59.3L127.9 59.2L126.5 59.0L125.1 58.9L123.7 58.8L122.3 58.7L120.9 58.5L119.5 58.4L118.1 58.3L116.6 58.1L115.2 57.9L113.8 57.7L112.4 57.5L111.0 57.3L109.6 57.0L108.2 56.7L106.8 56.4L105.4 56.1L104.0 55.7L102.5 55.4L101.1 55.0L99.7 54.6L98.3 54.2L96.9 53.8L95.5 53.3L94.1 52.7L92.7 52.0L91.3 51.3L89.9 50.6L88.4 49.8L87.0 49.0L85.6 48.2L84.2 47.3L82.8 46.3L81.4 45.4L80.0 44.5L78.6 43.7L77.2 43.0L75.7 42.3L74.3 41.7L72.9 41.1L71.5 40.6L70.1 40.2L68.7 40.0L67.3 40.0L65.9 40.1L64.5 40.3L63.1 40.6L61.6 40.9L60.2 41.4L58.8 41.9L57.4 42.4L56.0 42.9" stroke="#10ff00"/>
<path d="M366.3 20.3L364.9 28.0L363.5 35.3L362.1 42.2L360.7 48.7L359.2 54.7L357.8 60.4L356.4 65.6L355.0 70.4L353.6 74.8L352.2 78.8L350.8 82.4L349.4 85.6L348.0 88.4L346.6 90.8L345.1 92.8L343.7 94.4L342.3 95.7L340.9 96.6L339.5 97.1L338.1 97.1L336.7 98.4L335.3 99.7L333.9 100.8L332.4 101.4L331.0 101.9L329.6 102.4L328.2 102.8L326.8 103.1L325.4 103.3L324.0 103.4L322.6 103.4L321.2 103.3L319.8 103.1L318.3 102.8L316.9 102.5L315.5 102.1L314.1 101.6L312.7 101.2L311.3 100.7L309.9 100.2L308.5 99.7L307.1 99.3L305.7 98.8L304.2 98.4L302.8 98.0L301.4 97.6L300.0 97.2L298.6 96.8L297.2 96.4L295.8 96.0L294.4 95.6L293.0 95.2L291.5 94.8L290.1 94.4L288.7 94.0L287.3 93.6L285.9 93.2L284.5 92.8L283.1 92.5L281.7 92.1L280.3 91.8L278.9 91.5L277.4 91.2L276.0 90.9L274.6 90.6L273.2 90.3L271.8 90.0L270.4 89.7L269.0 89.4L267.6 89.2L266.2 88.9L264.7 88.6L263.3 88.4L261.9 88.1L260.5 87.9L259.1 87.6L257.7 87.4L256.3 87.1L254.9 86.9L253.5 86.6L252.1 86.4L250.6 86.2L249.2 85.9L247.8 85.7L246.4 85.5L245.0 85.3L243.6 85.2L242.2 85.0L240.8 84.8L239.4 84.6L237.9 84.4L236.5 84.2L235.1 84.1L233.7 83.9L232.3 83.6L230.9 83.4L229.5 83.2L228.1 82.9L226.7 82.7L225.3 82.4L223.8 82.1L222.4 81.8L221.0 81.4L219.6 81.0L218.2 80.7L216.8 80.3L215.4 79.9L214.0 79.4L212.6 79.0L211.2 78.6L209.7 78.2L208.3 77.7L206.9 77.3L205.5 76.8L204.1 76.4L202.7 76.0L201.3 75.6L199.9 75.2L198.5 74.8L197.0 74.4L195.6 74.0L194.2 73.7L192.8 73.3L191.4 73.0L190.0 72.6L188.6 72.3L187.2 71.9L185.8 71.6L184.4 71.2L182.9 70.9L181.5 70.6L180.1 70.2L178.7 69.9L177.3 69.5L175.9 69.2L174.5 68.9L173.1 68.5L171.7 68.1L170.2 67.8L168.8 67.4L167.4 67.0L166.0 66.6L164.6 66.1L163.2 65.7L161.8 65.2L160.4 64.7L159.0 64.2L157.6 63.7L156.1 63.2L154.7 62.8L153.3 62.4L151.9 62.1L150.5 61.7L149.1 61.4L147.7 61.0L146.3 60.8L144.9 60.5L143.4 60.4L142.0 60.2L140.6 60.1L139.2 60.0L137.8 60.0L136.4 60.0L135.0 60.0L133.6 60.0L132.2 60.0L130.8 60.1L129.3 60.2L127.9 60.3L126.5 60.3L125.1 60.4L123.7 60.5L122.3 60.7L120.9 60.8L119.5 60.9L118.1 61.0L116.6 61.2L115.2 61.3L113.8 61.4L112.4 61.5L111.0 61.5L109.6 61.5L108.2 61.5L106.8 61.5L105.4 61.4L104.0 61.3L102.5 61.2L101.1 61.1L99.7 60.9L98.3 60.7L96.9 60.4L95.5 60.0L94.1 59.5L92.7 58.9L91.3 58.1L89.9 57.3L88.4 56.3L87.0 55.1L85.6 53.9L84.2 52.4L82.8 50.8L81.4 49.2L80.0 47.6L78.6 46.1L77.2 44.6L75.7 43.3L74.3 42.1L72.9 41.0L71.5 40.2L70.1 39.6L68.7 39.3L67.3 39.2L65.9 39.4L64.5 39.7L63.1 40.2L61.6 40.7L60.2 41.3L58.8 42.0L57.4 42.6L56.0 43.1" stroke="#50fa00"/>
<path d="M366.3 24.1L364.9 32.0L363.5 39.5L362.1 46.6L360.7 53.2L359.2 59.3L357.8 65.1L356.4 70.3L355.0 75.2L353.6 79.6L352.2 83.7L350.8 87.2L349.4 90.4L348.0 93.2L346.6 95.6L345.1 97.5L343.7 99.1L342.3 100.3L340.9 101.1L339.5 101.6L338.1 101.7L336.7 103.0L335.3 104.4L333.9 105.4L332.4 106.1L331.0 106.6L329.6 107.0L328.2 107.5L326.8 107.8L325.4 108.0L324.0 108.1L322.6 108.1L321.2 108.1L319.8 107.9L318.3 107.6L316.9 107.3L315.5 106.9L314.1 106.5L312.7 106.1L311.3 105.6L309.9 105.2L308.5 104.7L307.1 104.3L305.7 103.9L304.2 103.5L302.8 103.1L301.4 102.7L300.0 102.3L298.6 101.8L297.2 101.4L295.8 101.0L294.4 100.6L293.0 100.2L291.5 99.8L290.1 99.4L288.7 99.0L287.3 98.6L285.9 98.2L284.5 97.8L283.1 97.5L281.7 97.1L280.3 96.8L278.9 96.4L277.4 96.1L276.0 95.7L274.6 95.4L273.2 95.1L271.8 94.8L270.4 94.5L269.0 94.2L267.6 93.9L266.2 93.6L264.7 93.3L263.3 93.0L261.9 92.7L260.5 92.4L259.1 92.1L257.7 91.8L256.3 91.5L254.9 91.2L253.5 90.9L252.1 90.6L250.6 90.3L249.2 90.1L247.8 89.8L246.4 89.6L245.0 89.3L243.6 89.1L242.2 88.9L240.8 88.6L239.4 88.4L237.9 88.2L236.5 87.9L235.1 87.7L233.7 87.4L232.3 87.2L230.9 86.9L229.5 86.6L228.1 86.3L226.7 86.0L225.3 85.6L223.8 85.2L222.4 84.8L221.0 84.4L219.6 84.0L218.2 83.5L216.8 83.0L215.4 82.5L214.0 82.0L212.6 81.5L211.2 81.0L209.7 80.5L208.3 79.9L206.9 79.4L205.5 78.9L204.1 78.4L202.7 77.9L201.3 77.4L199.9 76.9L198.5 76.5L197.0 76.0L195.6 75.6L194.2 75.2L192.8 74.8L191.4 74.4L190.0 74.0L188.6 73.7L187.2 73.3L185.8 72.9L184.4 72.6L182.9 72.2L181.5 71.8L180.1 71.5L178.7 71.1L177.3 70.8L175.9 70.4L174.5 70.0L173.1 69.7L171.7 69.3L170.2 68.9L168.8 68.5L167.4 68.1L166.0 67.6L164.6 67.1L163.2 66.6L161.8 66.1L160.4 65.6L159.0 65.1L157.6 64.6L156.1 64.1L154.7 63.6L153.3 63.2L151.9 62.8L150.5 62.4L149.1 62.0L147.7 61.6L146.3 61.2L144.9 60.9L143.4 60.7L142.0 60.4L140.6 60.2L139.2 60.1L137.8 59.9L136.4 59.9L135.0 59.8L133.6 59.7L132.2 59.7L130.8 59.7L129.3 59.6L127.9 59.6L126.5 59.6L125.1 59.6L123.7 59.6L122.3 59.6L120.9 59.7L119.5 59.7L118.1 59.7L116.6 59.8L115.2 59.8L113.8 59.8L112.4 59.7L111.0 59.7L109.6 59.6L108.2 59.4L106.8 59.3L105.4 59.1L104.0 58.9L102.5 58.7L101.1 58.5L99.7 58.2L98.3 57.9L96.9 57.5L95.5 57.0L94.1 56.4L92.7 55.7L91.3 54.9L89.9 53.9L88.4 52.8L87.0 51.7L85.6 50.3L84.2 48.8L82.8 47.1L81.4 45.5L80.0 43.8L78.6 42.3L77.2 41.0L75.7 39.7L74.3 38.6L72.9 37.7L71.5 37.0L70.1 36.6L68.7 36.6L67.3 36.8L65.9 37.3L64.5 38.1L63.1 38.9L61.6 39.8L60.2 40.9L58.8 41.9L57.4 43.0L56.0 43.9" stroke="#a5f500"/>
<path d="M366.3 28.2L364.9 36.3L363.5 44.0L362.1 51.2L360.7 57.9L359.2 64.2L357.8 70.0L356.4 75.4L355.0 80.3L353.6 84.8L352.2 88.8L350.8 92.4L349.4 95.5L348.0 98.3L346.6 100.6L345.1 102.5L343.7 104.0L342.3 105.2L340.9 106.0L339.5 106.4L338.1 105.9L336.7 107.1L335.3 108.4L333.9 109.4L332.4 110.1L331.0 110.6L329.6 111.0L328.2 111.4L326.8 111.7L325.4 111.9L324.0 112.1L322.6 112.1L321.2 112.0L319.8 111.8L318.3 111.5L316.9 111.2L315.5 110.8L314.1 110.4L312.7 110.0L311.3 109.5L309.9 109.1L308.5 108.6L307.1 108.2L305.7 107.7L304.2 107.3L302.8 106.9L301.4 106.5L300.0 106.1L298.6 105.7L297.2 105.3L295.8 104.9L294.4 104.5L293.0 104.1L291.5 103.7L290.1 103.3L288.7 102.9L287.3 102.5L285.9 102.1L284.5 101.7L283.1 101.4L281.7 101.0L280.3 100.7L278.9 100.3L277.4 100.0L276.0 99.7L274.6 99.3L273.2 99.0L271.8 98.7L270.4 98.4L269.0 98.1L267.6 97.8L266.2 97.6L264.7 97.3L263.3 97.0L261.9 96.7L260.5 96.4L259.1 96.2L257.7 95.9L256.3 95.6L254.9 95.3L253.5 95.1L252.1 94.8L250.6 94.5L249.2 94.3L247.8 94.1L246.4 93.9L245.0 93.7L243.6 93.4L242.2 93.2L240.8 93.0L239.4 92.8L237.9 92.6L236.5 92.4L235.1 92.2L233.7 91.9L232.3 91.7L230.9 91.4L229.5 91.1L228.1 90.8L226.7 90.4L225.3 90.1L223.8 89.6L222.4 89.2L221.0 88.7L219.6 88.2L218.2 87.7L216.8 87.2L215.4 86.6L214.0 86.0L212.6 85.5L211.2 84.9L209.7 84.3L208.3 83.7L206.9 83.0L205.5 82.4L204.1 81.9L202.7 81.3L201.3 80.7L199.9 80.2L198.5 79.6L197.0 79.1L195.6 78.7L194.2 78.2L192.8 77.7L191.4 77.3L190.0 76.9L188.6 76.4L187.2 76.0L185.8 75.6L184.4 75.2L182.9 74.8L181.5 74.3L180.1 73.9L178.7 73.5L177.3 73.1L175.9 72.7L174.5 72.3L173.1 71.8L171.7 71.4L170.2 71.0L168.8 70.5L167.4 70.0L166.0 69.5L164.6 69.0L163.2 68.4L161.8 67.8L160.4 67.3L159.0 66.7L157.6 66.1L156.1 65.6L154.7 65.1L153.3 64.6L151.9 64.2L150.5 63.7L149.1 63.3L147.7 62.9L146.3 62.5L144.9 62.1L143.4 61.8L142.0 61.5L140.6 61.2L139.2 61.0L137.8 60.8L136.4 60.7L135.0 60.6L133.6 60.5L132.2 60.4L130.8 60.3L129.3 60.2L127.9 60.2L126.5 60.1L125.1 60.1L123.7 60.1L122.3 60.1L120.9 60.1L119.5 60.1L118.1 60.1L116.6 60.2L115.2 60.2L113.8 60.2L112.4 60.1L111.0 60.1L109.6 60.0L108.2 59.8L106.8 59.7L105.4 59.5L104.0 59.3L102.5 59.1L101.1 58.8L99.7 58.6L98.3 58.3L96.9 57.9L95.5 57.4L94.1 56.7L92.7 56.0L91.3 55.1L89.9 54.1L88.4 53.0L87.0 51.8L85.6 50.4L84.2 48.8L82.8 47.0L81.4 45.3L80.0 43.6L78.6 42.0L77.2 40.6L75.7 39.3L74.3 38.2L72.9 37.2L71.5 36.6L70.1 36.2L68.7 36.2L67.3 36.5L65.9 37.1L64.5 37.9L63.1 38.9L61.6 39.9L60.2 41.1L58.8 42.4L57.4 43.6L56.0 44.6" stroke="#ffeb00"/>
<path d="M366.3 30.0L364.9 38.2L363.5 46.0L362.1 53.3L360.7 60.1L359.2 66.4L357.8 72.2L356.4 77.6L355.0 82.6L353.6 87.0L352.2 91.1L350.8 94.6L349.4 97.8L348.0 100.5L346.6 102.8L345.1 104.7L343.7 106.2L342.3 107.4L340.9 108.1L339.5 108.6L338.1 108.6L336.7 109.8L335.3 111.1L333.9 112.1L332.4 112.8L331.0 113.3L329.6 113.8L328.2 114.2L326.8 114.5L325.4 114.7L324.0 114.9L322.6 114.9L321.2 114.8L319.8 114.7L318.3 114.4L316.9 114.1L315.5 113.7L314.1 113.3L312.7 112.9L311.3 112.4L309.9 112.0L308.5 111.5L307.1 111.1L305.7 110.6L304.2 110.2L302.8 109.8L301.4 109.4L300.0 109.0L298.6 108.6L297.2 108.1L295.8 107.7L294.4 107.3L293.0 106.9L291.5 106.5L290.1 106.0L288.7 105.6L287.3 105.2L285.9 104.8L284.5 104.4L283.1 104.0L281.7 103.6L280.3 103.3L278.9 102.9L277.4 102.5L276.0 102.2L274.6 101.8L273.2 101.5L271.8 101.2L270.4 100.8L269.0 100.5L267.6 100.2L266.2 99.9L264.7 99.6L263.3 99.2L261.9 98.9L260.5 98.6L259.1 98.3L257.7 98.0L256.3 97.7L254.9 97.4L253.5 97.1L252.1 96.8L250.6 96.5L249.2 96.2L247.8 96.0L246.4 95.7L245.0 95.5L243.6 95.2L242.2 95.0L240.8 94.7L239.4 94.5L237.9 94.3L236.5 94.0L235.1 93.7L233.7 93.5L232.3 93.2L230.9 92.9L229.5 92.5L228.1 92.2L226.7 91.8L225.3 91.4L223.8 90.9L222.4 90.5L221.0 90.0L219.6 89.4L218.2 88.8L216.8 88.3L215.4 87.6L214.0 87.0L212.6 86.4L211.2 85.7L209.7 85.1L208.3 84.5L206.9 83.8L205.5 83.2L204.1 82.5L202.7 81.9L201.3 81.3L199.9 80.7L198.5 80.2L197.0 79.7L195.6 79.2L194.2 78.7L192.8 78.2L191.4 77.8L190.0 77.3L188.6 76.9L187.2 76.4L185.8 76.0L184.4 75.6L182.9 75.2L181.5 74.8L180.1 74.4L178.7 73.9L177.3 73.5L175.9 73.1L174.5 72.7L173.1 72.3L171.7 71.8L170.2 71.4L168.8 70.9L167.4 70.4L166.0 69.9L164.6 69.4L163.2 68.8L161.8 68.3L160.4 67.7L159.0 67.1L157.6 66.5L156.1 66.0L154.7 65.5L153.3 65.1L151.9 64.6L150.5 64.2L149.1 63.7L147.7 63.3L146.3 62.9L144.9 62.6L143.4 62.3L142.0 62.0L140.6 61.8L139.2 61.6L137.8 61.5L136.4 61.3L135.0 61.3L133.6 61.2L132.2 61.1L130.8 61.1L129.3 61.1L127.9 61.1L126.5 61.1L125.1 61.1L123.7 61.1L122.3 61.2L120.9 61.2L119.5 61.3L118.1 61.3L116.6 61.4L115.2 61.4L113.8 61.4L112.4 61.4L111.0 61.4L109.6 61.3L108.2 61.1L106.8 61.0L105.4 60.8L104.0 60.5L102.5 60.3L101.1 60.0L99.7 59.7L98.3 59.4L96.9 58.9L95.5 58.3L94.1 57.6L92.7 56.8L91.3 55.8L89.9 54.7L88.4 53.5L87.0 52.1L85.6 50.5L84.2 48.7L82.8 46.8L81.4 44.9L80.0 43.0L78.6 41.3L77.2 39.7L75.7 38.2L74.3 36.9L72.9 35.8L71.5 35.0L70.1 34.5L68.7 34.4L67.3 34.5L65.9 35.0L64.5 35.7L63.1 36.6L61.6 37.6L60.2 38.7L58.8 39.8L57.4 41.0L56.0 42.0" stroke="#ffbe00"/>
<path d="M366.3 32.7L364.9 41.1L363.5 49.0L362.1 56.4L360.7 63.3L359.2 69.7L357.8 75.6L356.4 81.0L355.0 86.0L353.6 90.4L352.2 94.5L350.8 98.1L349.4 101.2L348.0 103.9L346.6 106.2L345.1 108.0L343.7 109.5L342.3 110.6L340.9 111.4L339.5 111.8L338.1 111.1L336.7 112.3L335.3 113.6L333.9 114.6L332.4 115.3L331.0 115.8L329.6 116.3L328.2 116.7L326.8 117.1L325.4 117.3L324.0 117.5L322.6 117.5L321.2 117.5L319.8 117.3L318.3 117.1L316.9 116.8L315.5 116.5L314.1 116.1L312.7 115.7L311.3 115.3L309.9 114.9L308.5 114.5L307.1 114.1L305.7 113.7L304.2 113.3L302.8 112.9L301.4 112.6L300.0 112.2L298.6 111.8L297.2 111.4L295.8 111.0L294.4 110.6L293.0 110.2L291.5 109.8L290.1 109.5L288.7 109.1L287.3 108.7L285.9 108.3L284.5 107.9L283.1 107.6L281.7 107.2L280.3 106.9L278.9 106.5L277.4 106.2L276.0 105.9L274.6 105.6L273.2 105.2L271.8 104.9L270.4 104.6L269.0 104.3L267.6 104.0L266.2 103.7L264.7 103.3L263.3 103.0L261.9 102.7L260.5 102.4L259.1 102.1L257.7 101.8L256.3 101.5L254.9 101.1L253.5 100.8L252.1 100.5L250.6 100.2L249.2 99.9L247.8 99.7L246.4 99.4L245.0 99.1L243.6 98.9L242.2 98.6L240.8 98.4L239.4 98.1L237.9 97.8L236.5 97.5L235.1 97.2L233.7 96.9L232.3 96.6L230.9 96.2L229.5 95.8L228.1 95.4L226.7 95.0L225.3 94.5L223.8 94.0L222.4 93.5L221.0 92.9L219.6 92.2L218.2 91.6L216.8 90.9L215.4 90.2L214.0 89.5L212.6 88.8L211.2 88.0L209.7 87.3L208.3 86.6L206.9 85.8L205.5 85.1L204.1 84.4L202.7 83.7L201.3 83.0L199.9 82.3L198.5 81.7L197.0 81.1L195.6 80.5L194.2 80.0L192.8 79.5L191.4 78.9L190.0 78.4L188.6 78.0L187.2 77.5L185.8 77.0L184.4 76.5L182.9 76.1L181.5 75.6L180.1 75.2L178.7 74.7L177.3 74.3L175.9 73.8L174.5 73.4L173.1 72.9L171.7 72.5L170.2 72.0L168.8 71.5L167.4 71.0L166.0 70.5L164.6 69.9L163.2 69.3L161.8 68.7L160.4 68.1L159.0 67.5L157.6 67.0L156.1 66.4L154.7 65.9L153.3 65.4L151.9 64.9L150.5 64.4L149.1 63.9L147.7 63.4L146.3 63.0L144.9 62.6L143.4 62.2L142.0 61.9L140.6 61.7L139.2 61.5L137.8 61.3L136.4 61.2L135.0 61.1L133.6 61.1L132.2 61.1L130.8 61.1L129.3 61.1L127.9 61.1L126.5 61.1L125.1 61.2L123.7 61.3L122.3 61.4L120.9 61.6L119.5 61.7L118.1 61.8L116.6 62.0L115.2 62.1L113.8 62.2L112.4 62.3L111.0 62.3L109.6 62.3L108.2 62.3L106.8 62.2L105.4 62.1L104.0 61.9L102.5 61.7L101.1 61.5L99.7 61.3L98.3 61.0L96.9 60.6L95.5 60.1L94.1 59.4L92.7 58.6L91.3 57.6L89.9 56.5L88.4 55.3L87.0 53.9L85.6 52.3L84.2 50.5L82.8 48.5L81.4 46.5L80.0 44.5L78.6 42.7L77.2 41.1L75.7 39.5L74.3 38.2L72.9 37.0L71.5 36.2L70.1 35.6L68.7 35.4L67.3 35.5L65.9 36.0L64.5 36.6L63.1 37.5L61.6 38.4L60.2 39.5L58.8 40.7L57.4 41.8L56.0 42.8" stroke="#ff9000"/>
<path d="M366.3 35.4L364.9 43.9L363.5 52.0L362.1 59.5L360.7 66.5L359.2 72.9L357.8 78.9L356.4 84.4L355.0 89.4L353.6 93.9L352.2 97.9L350.8 101.5L349.4 104.6L348.0 107.3L346.6 109.5L345.1 111.4L343.7 112.8L342.3 113.9L340.9 114.6L339.5 115.0L338.1 114.7L336.7 115.9L335.3 117.2L333.9 118.2L332.4 118.9L331.0 119.4L329.6 119.9L328.2 120.3L326.8 120.7L325.4 121.0L324.0 121.1L322.6 121.2L321.2 121.2L319.8 121.0L318.3 120.8L316.9 120.5L315.5 120.2L314.1 119.9L312.7 119.5L311.3 119.1L309.9 118.7L308.5 118.3L307.1 117.9L305.7 117.5L304.2 117.1L302.8 116.7L301.4 116.4L300.0 116.0L298.6 115.6L297.2 115.2L295.8 114.8L294.4 114.4L293.0 114.0L291.5 113.6L290.1 113.2L288.7 112.8L287.3 112.4L285.9 112.0L284.5 111.6L283.1 111.3L281.7 110.9L280.3 110.5L278.9 110.2L277.4 109.8L276.0 109.4L274.6 109.1L273.2 108.7L271.8 108.4L270.4 108.1L269.0 107.7L267.6 107.4L266.2 107.0L264.7 106.7L263.3 106.4L261.9 106.0L260.5 105.7L259.1 105.3L257.7 105.0L256.3 104.6L254.9 104.3L253.5 104.0L252.1 103.6L250.6 103.3L249.2 103.0L247.8 102.7L246.4 102.4L245.0 102.1L243.6 101.8L242.2 101.5L240.8 101.3L239.4 101.0L237.9 100.7L236.5 100.3L235.1 100.0L233.7 99.7L232.3 99.3L230.9 98.9L229.5 98.5L228.1 98.1L226.7 97.6L225.3 97.1L223.8 96.5L222.4 95.9L221.0 95.3L219.6 94.6L218.2 93.9L216.8 93.2L215.4 92.4L214.0 91.6L212.6 90.9L211.2 90.1L209.7 89.3L208.3 88.5L206.9 87.7L205.5 86.9L204.1 86.1L202.7 85.3L201.3 84.6L199.9 83.9L198.5 83.3L197.0 82.6L195.6 82.0L194.2 81.5L192.8 80.9L191.4 80.4L190.0 79.9L188.6 79.3L187.2 78.9L185.8 78.4L184.4 77.9L182.9 77.4L181.5 77.0L180.1 76.5L178.7 76.0L177.3 75.6L175.9 75.1L174.5 74.7L173.1 74.2L171.7 73.7L170.2 73.2L168.8 72.7L167.4 72.2L166.0 71.6L164.6 71.0L163.2 70.4L161.8 69.8L160.4 69.2L159.0 68.6L157.6 68.0L156.1 67.4L154.7 66.9L153.3 66.3L151.9 65.8L150.5 65.3L149.1 64.8L147.7 64.3L146.3 63.8L144.9 63.4L143.4 63.0L142.0 62.7L140.6 62.4L139.2 62.1L137.8 61.9L136.4 61.8L135.0 61.6L133.6 61.5L132.2 61.4L130.8 61.4L129.3 61.3L127.9 61.2L126.5 61.2L125.1 61.2L123.7 61.2L122.3 61.2L120.9 61.2L119.5 61.2L118.1 61.3L116.6 61.3L115.2 61.3L113.8 61.3L112.4 61.2L111.0 61.1L109.6 61.0L108.2 60.8L106.8 60.6L105.4 60.3L104.0 60.0L102.5 59.7L101.1 59.4L99.7 59.1L98.3 58.6L96.9 58.1L95.5 57.4L94.1 56.6L92.7 55.7L91.3 54.7L89.9 53.5L88.4 52.1L87.0 50.6L85.6 49.0L84.2 47.0L82.8 45.0L81.4 42.9L80.0 40.9L78.6 39.1L77.2 37.5L75.7 36.0L74.3 34.7L72.9 33.7L71.5 32.9L70.1 32.5L68.7 32.5L67.3 32.9L65.9 33.6L64.5 34.6L63.1 35.7L61.6 37.0L60.2 38.4L58.8 39.9L57.4 41.4L56.0 42.8" stroke="#ff5000"/>
<path d="M366.3 37.6L364.9 46.3L363.5 54.5L362.1 62.1L360.7 69.1L359.2 75.6L357.8 81.7L356.4 87.2L355.0 92.2L353.6 96.7L352.2 100.7L350.8 104.3L349.4 107.4L348.0 110.1L346.6 112.3L345.1 114.1L343.7 115.5L342.3 116.6L340.9 117.3L339.5 117.6L338.1 117.3L336.7 118.5L335.3 119.7L333.9 120.7L332.4 121.4L331.0 121.9L329.6 122.4L328.2 122.8L326.8 123.1L325.4 123.4L324.0 123.6L322.6 123.6L321.2 123.6L319.8 123.5L318.3 123.2L316.9 123.0L315.5 122.6L314.1 122.3L312.7 121.9L311.3 121.5L309.9 121.1L308.5 120.7L307.1 120.3L305.7 119.9L304.2 119.6L302.8 119.2L301.4 118.8L300.0 118.5L298.6 118.1L297.2 117.7L295.8 117.3L294.4 116.9L293.0 116.5L291.5 116.1L290.1 115.7L288.7 115.4L287.3 115.0L285.9 114.6L284.5 114.2L283.1 113.9L281.7 113.5L280.3 113.2L278.9 112.8L277.4 112.5L276.0 112.1L274.6 111.8L273.2 111.5L271.8 111.1L270.4 110.8L269.0 110.5L267.6 110.2L266.2 109.8L264.7 109.5L263.3 109.2L261.9 108.9L260.5 108.5L259.1 108.2L257.7 107.9L256.3 107.5L254.9 107.2L253.5 106.9L252.1 106.5L250.6 106.2L249.2 105.9L247.8 105.6L246.4 105.4L245.0 105.1L243.6 104.8L242.2 104.5L240.8 104.2L239.4 104.0L237.9 103.6L236.5 103.3L235.1 103.0L233.7 102.6L232.3 102.3L230.9 101.9L229.5 101.4L228.1 101.0L226.7 100.5L225.3 99.9L223.8 99.3L222.4 98.7L221.0 98.0L219.6 97.3L218.2 96.5L216.8 95.7L215.4 94.9L214.0 94.0L212.6 93.2L211.2 92.3L209.7 91.4L208.3 90.5L206.9 89.7L205.5 88.8L204.1 88.0L202.7 87.1L201.3 86.3L199.9 85.6L198.5 84.8L197.0 84.1L195.6 83.5L194.2 82.8L192.8 82.2L191.4 81.6L190.0 81.1L188.6 80.5L187.2 80.0L185.8 79.4L184.4 78.9L182.9 78.4L181.5 77.8L180.1 77.3L178.7 76.8L177.3 76.3L175.9 75.8L174.5 75.3L173.1 74.8L171.7 74.3L170.2 73.7L168.8 73.2L167.4 72.6L166.0 72.0L164.6 71.4L163.2 70.7L161.8 70.1L160.4 69.4L159.0 68.8L157.6 68.1L156.1 67.5L154.7 66.9L153.3 66.3L151.9 65.7L150.5 65.0L149.1 64.4L147.7 63.8L146.3 63.2L144.9 62.7L143.4 62.2L142.0 61.7L140.6 61.3L139.2 61.0L137.8 60.7L136.4 60.4L135.0 60.2L133.6 60.1L132.2 59.9L130.8 59.8L129.3 59.7L127.9 59.7L126.5 59.6L125.1 59.6L123.7 59.6L122.3 59.7L120.9 59.8L119.5 59.9L118.1 60.0L116.6 60.1L115.2 60.2L113.8 60.3L112.4 60.4L111.0 60.4L109.6 60.5L108.2 60.4L106.8 60.4L105.4 60.3L104.0 60.2L102.5 60.1L101.1 60.0L99.7 59.8L98.3 59.6L96.9 59.4L95.5 59.0L94.1 58.5L92.7 57.9L91.3 57.2L89.9 56.5L88.4 55.6L87.0 54.7L85.6 53.7L84.2 52.4L82.8 51.1L81.4 49.8L80.0 48.6L78.6 47.5L77.2 46.6L75.7 45.8L74.3 45.1L72.9 44.5L71.5 44.0L70.1 43.6L68.7 43.5L67.3 43.6L65.9 43.9L64.5 44.4L63.1 45.0L61.6 45.7L60.2 46.6L58.8 47.6L57.4 48.6L56.0 49.6" stroke="#ff2800"/>
<path d="M366.3 41.5L364.9 50.4L363.5 58.7L362.1 66.4L360.7 73.6L359.2 80.3L357.8 86.4L356.4 91.9L355.0 97.0L353.6 101.5L352.2 105.6L350.8 109.1L349.4 112.2L348.0 114.8L346.6 117.0L345.1 118.8L343.7 120.2L342.3 121.2L340.9 121.8L339.5 122.2L338.1 122.1L336.7 123.3L335.3 124.5L333.9 125.5L332.4 126.2L331.0 126.7L329.6 127.2L328.2 127.7L326.8 128.1L325.4 128.3L324.0 128.5L322.6 128.6L321.2 128.6L319.8 128.5L318.3 128.3L316.9 128.1L315.5 127.8L314.1 127.5L312.7 127.2L311.3 126.8L309.9 126.4L308.5 126.1L307.1 125.7L305.7 125.3L304.2 125.0L302.8 124.6L301.4 124.3L300.0 123.9L298.6 123.5L297.2 123.1L295.8 122.8L294.4 122.4L293.0 122.0L291.5 121.6L290.1 121.2L288.7 120.8L287.3 120.4L285.9 120.0L284.5 119.6L283.1 119.3L281.7 118.9L280.3 118.5L278.9 118.2L277.4 117.8L276.0 117.4L274.6 117.1L273.2 116.7L271.8 116.3L270.4 116.0L269.0 115.6L267.6 115.3L266.2 114.9L264.7 114.5L263.3 114.2L261.9 113.8L260.5 113.4L259.1 113.0L257.7 112.7L256.3 112.3L254.9 111.9L253.5 111.5L252.1 111.1L250.6 110.8L249.2 110.4L247.8 110.1L246.4 109.8L245.0 109.4L243.6 109.1L242.2 108.8L240.8 108.5L239.4 108.1L237.9 107.8L236.5 107.4L235.1 107.0L233.7 106.6L232.3 106.2L230.9 105.7L229.5 105.2L228.1 104.7L226.7 104.1L225.3 103.5L223.8 102.8L222.4 102.1L221.0 101.3L219.6 100.5L218.2 99.6L216.8 98.7L215.4 97.8L214.0 96.9L212.6 95.9L211.2 94.9L209.7 94.0L208.3 93.0L206.9 92.0L205.5 91.1L204.1 90.2L202.7 89.3L201.3 88.4L199.9 87.6L198.5 86.8L197.0 86.1L195.6 85.4L194.2 84.7L192.8 84.1L191.4 83.5L190.0 82.9L188.6 82.3L187.2 81.7L185.8 81.2L184.4 80.7L182.9 80.1L181.5 79.6L180.1 79.1L178.7 78.6L177.3 78.1L175.9 77.6L174.5 77.1L173.1 76.6L171.7 76.1L170.2 75.5L168.8 75.0L167.4 74.4L166.0 73.8L164.6 73.2L163.2 72.5L161.8 71.9L160.4 71.2L159.0 70.5L157.6 69.9L156.1 69.3L154.7 68.7L153.3 68.1L151.9 67.6L150.5 67.0L149.1 66.5L147.7 66.0L146.3 65.5L144.9 65.0L143.4 64.6L142.0 64.2L140.6 63.9L139.2 63.6L137.8 63.4L136.4 63.2L135.0 63.0L133.6 62.9L132.2 62.8L130.8 62.7L129.3 62.6L127.9 62.5L126.5 62.5L125.1 62.4L123.7 62.4L122.3 62.4L120.9 62.4L119.5 62.4L118.1 62.4L116.6 62.5L115.2 62.4L113.8 62.4L112.4 62.3L111.0 62.2L109.6 62.0L108.2 61.7L106.8 61.4L105.4 61.1L104.0 60.7L102.5 60.3L101.1 59.9L99.7 59.5L98.3 59.0L96.9 58.4L95.5 57.7L94.1 56.9L92.7 56.0L91.3 54.9L89.9 53.8L88.4 52.6L87.0 51.4L85.6 49.9L84.2 48.3L82.8 46.6L81.4 45.0L80.0 43.4L78.6 42.1L77.2 41.0L75.7 39.9L74.3 39.0L72.9 38.2L71.5 37.6L70.1 37.1L68.7 37.1L67.3 37.3L65.9 37.7L64.5 38.4L63.1 39.2L61.6 40.2L60.2 41.3L58.8 42.7L57.4 44.0L56.0 45.3" stroke="#ff0a00"/>
<path d="M366.3 44.0L364.9 53.0L363.5 61.4L362.1 69.3L360.7 76.6L359.2 83.3L357.8 89.4L356.4 95.0L355.0 100.1L353.6 104.6L352.2 108.7L350.8 112.2L349.4 115.3L348.0 117.9L346.6 120.1L345.1 121.8L343.7 123.2L342.3 124.1L340.9 124.8L339.5 125.1L338.1 124.7L336.7 125.9L335.3 127.1L333.9 128.0L332.4 128.7L331.0 129.2L329.6 129.7L328.2 130.2L326.8 130.5L325.4 130.8L324.0 131.0L322.6 131.1L321.2 131.0L319.8 130.9L318.3 130.7L316.9 130.5L315.5 130.2L314.1 129.9L312.7 129.5L311.3 129.2L309.9 128.8L308.5 128.4L307.1 128.0L305.7 127.7L304.2 127.3L302.8 127.0L301.4 126.6L300.0 126.2L298.6 125.9L297.2 125.5L295.8 125.1L294.4 124.7L293.0 124.3L291.5 123.9L290.1 123.5L288.7 123.2L287.3 122.8L285.9 122.4L284.5 122.0L283.1 121.7L281.7 121.3L280.3 121.0L278.9 120.6L277.4 120.3L276.0 119.9L274.6 119.6L273.2 119.2L271.8 118.9L270.4 118.5L269.0 118.2L267.6 117.9L266.2 117.5L264.7 117.2L263.3 116.9L261.9 116.5L260.5 116.2L259.1 115.8L257.7 115.5L256.3 115.1L254.9 114.8L253.5 114.4L252.1 114.1L250.6 113.7L249.2 113.4L247.8 113.1L246.4 112.8L245.0 112.5L243.6 112.2L242.2 111.9L240.8 111.6L239.4 111.3L237.9 111.0L236.5 110.6L235.1 110.2L233.7 109.9L232.3 109.4L230.9 109.0L229.5 108.5L228.1 107.9L226.7 107.4L225.3 106.8L223.8 106.1L222.4 105.3L221.0 104.5L219.6 103.7L218.2 102.8L216.8 101.8L215.4 100.9L214.0 99.9L212.6 98.9L211.2 97.8L209.7 96.8L208.3 95.8L206.9 94.8L205.5 93.8L204.1 92.8L202.7 91.8L201.3 90.9L199.9 90.0L198.5 89.2L197.0 88.4L195.6 87.7L194.2 86.9L192.8 86.3L191.4 85.6L190.0 85.0L188.6 84.4L187.2 83.8L185.8 83.2L184.4 82.6L182.9 82.1L181.5 81.5L180.1 81.0L178.7 80.4L177.3 79.9L175.9 79.3L174.5 78.8L173.1 78.2L171.7 77.7L170.2 77.1L168.8 76.5L167.4 75.9L166.0 75.2L164.6 74.6L163.2 73.9L161.8 73.2L160.4 72.5L159.0 71.8L157.6 71.1L156.1 70.4L154.7 69.8L153.3 69.3L151.9 68.7L150.5 68.2L149.1 67.7L147.7 67.1L146.3 66.6L144.9 66.2L143.4 65.8L142.0 65.4L140.6 65.1L139.2 64.8L137.8 64.6L136.4 64.4L135.0 64.3L133.6 64.2L132.2 64.1L130.8 64.0L129.3 64.0L127.9 63.9L126.5 63.9L125.1 63.9L123.7 63.9L122.3 64.0L120.9 64.1L119.5 64.1L118.1 64.2L116.6 64.3L115.2 64.4L113.8 64.4L112.4 64.4L111.0 64.3L109.6 64.1L108.2 64.0L106.8 63.7L105.4 63.4L104.0 63.1L102.5 62.8L101.1 62.4L99.7 62.0L98.3 61.6L96.9 61.0L95.5 60.3L94.1 59.5L92.7 58.5L91.3 57.4L89.9 56.3L88.4 55.0L87.0 53.7L85.6 52.1L84.2 50.4L82.8 48.5L81.4 46.7L80.0 44.9L78.6 43.4L77.2 42.1L75.7 40.8L74.3 39.7L72.9 38.7L71.5 37.8L70.1 37.1L68.7 36.8L67.3 36.7L65.9 37.0L64.5 37.4L63.1 37.9L61.6 38.6L60.2 39.5L58.8 40.6L57.4 41.7L56.0 42.8" stroke="#ff0000"/>
</g>
<path d="M366.30 193.09h-4.3M366.30 166.46h-4.3M366.30 139.83h-4.3M366.30 113.20h-4.3M366.30 86.57h-4.3M366.30 59.94h-4.3M366.30 33.31h-4.3" stroke="#000" stroke-width="1.6"/>
<rect x="338.09" y="20.0" width="28.21" height="186.4" fill="#c4c4c4" fill-opacity="0.75"/>
<line x1="338.09" y1="20.0" x2="338.09" y2="206.4" stroke="#2a2a2a" stroke-width="1.25"/>
<path d="M56.00 193.09L60.30 193.09M56.00 179.77L64.50 179.77M56.00 166.46L60.30 166.46M56.00 153.14L64.50 153.14M56.00 139.83L60.30 139.83M56.00 126.51L64.50 126.51M56.00 113.20L60.30 113.20M56.00 99.89L64.50 99.89M56.00 86.57L60.30 86.57M56.00 73.26L64.50 73.26M56.00 59.94L60.30 59.94M56.00 46.63L64.50 46.63M56.00 33.31L60.30 33.31M84.21 206.40L84.21 202.10M84.21 20.00L84.21 24.30M112.42 206.40L112.42 197.90M140.63 206.40L140.63 202.10M140.63 20.00L140.63 24.30M168.84 206.40L168.84 197.90M197.05 206.40L197.05 202.10M197.05 20.00L197.05 24.30M225.25 206.40L225.25 197.90M253.46 206.40L253.46 202.10M253.46 20.00L253.46 24.30M281.67 206.40L281.67 197.90M309.88 206.40L309.88 202.10M309.88 20.00L309.88 24.30M338.09 206.40L338.09 197.90" stroke="#000" stroke-width="1.9" fill="none"/>
<rect x="56.0" y="20.0" width="310.30" height="186.4" fill="none" stroke="#000" stroke-width="1.8"/>
</g>
<text x="45.30" y="24.40" font-size="15.3" text-anchor="end" font-weight="bold" >1.1</text>
<text x="45.30" y="51.03" font-size="15.3" text-anchor="end" font-weight="bold" >1.0</text>
<text x="45.30" y="77.66" font-size="15.3" text-anchor="end" font-weight="bold" >0.9</text>
<text x="45.30" y="104.29" font-size="15.3" text-anchor="end" font-weight="bold" >0.8</text>
<text x="45.30" y="130.91" font-size="15.3" text-anchor="end" font-weight="bold" >0.7</text>
<text x="45.30" y="157.54" font-size="15.3" text-anchor="end" font-weight="bold" >0.6</text>
<text x="45.30" y="184.17" font-size="15.3" text-anchor="end" font-weight="bold" >0.5</text>
<text x="45.30" y="210.80" font-size="15.3" text-anchor="end" font-weight="bold" >0.4</text>
<text x="56.00" y="228.40" font-size="15.3" text-anchor="middle" font-weight="bold" >1000</text>
<text x="112.42" y="228.40" font-size="15.3" text-anchor="middle" font-weight="bold" >800</text>
<text x="168.84" y="228.40" font-size="15.3" text-anchor="middle" font-weight="bold" >600</text>
<text x="225.25" y="228.40" font-size="15.3" text-anchor="middle" font-weight="bold" >400</text>
<text x="281.67" y="228.40" font-size="15.3" text-anchor="middle" font-weight="bold" >200</text>
<text x="338.09" y="228.40" font-size="15.3" text-anchor="middle" font-weight="bold" >0</text>
<text x="55.30" y="12.60" font-size="17.6" text-anchor="start" font-weight="normal" >a1)</text>
<text transform="translate(12.9,113.5) rotate(-90)" font-size="17.4" font-weight="bold" text-anchor="middle">Water saturation (-)</text>
<text x="85.8" y="147.4" font-size="17.5">i=5 mA/cm<tspan dy="-6.6" font-size="11.7">2</tspan></text>
<g>
<line x1="56.0" y1="295.63" x2="366.3" y2="295.63" stroke="#959595" stroke-width="1.25" stroke-dasharray="3.4 2.9"/>
<line x1="56.0" y1="322.26" x2="366.3" y2="322.26" stroke="#959595" stroke-width="1.25" stroke-dasharray="3.4 2.9"/>
<line x1="56.0" y1="348.89" x2="366.3" y2="348.89" stroke="#959595" stroke-width="1.25" stroke-dasharray="3.4 2.9"/>
<line x1="56.0" y1="375.51" x2="366.3" y2="375.51" stroke="#959595" stroke-width="1.25" stroke-dasharray="3.4 2.9"/>
<line x1="56.0" y1="402.14" x2="366.3" y2="402.14" stroke="#959595" stroke-width="1.25" stroke-dasharray="3.4 2.9"/>
<line x1="56.0" y1="428.77" x2="366.3" y2="428.77" stroke="#959595" stroke-width="1.25" stroke-dasharray="3.4 2.9"/>
<line x1="112.42" y1="269.0" x2="112.42" y2="455.4" stroke="#959595" stroke-width="1.25" stroke-dasharray="3.4 2.9"/>
<line x1="168.84" y1="269.0" x2="168.84" y2="455.4" stroke="#959595" stroke-width="1.25" stroke-dasharray="3.4 2.9"/>
<line x1="225.25" y1="269.0" x2="225.25" y2="455.4" stroke="#959595" stroke-width="1.25" stroke-dasharray="3.4 2.9"/>
<line x1="281.67" y1="269.0" x2="281.67" y2="455.4" stroke="#959595" stroke-width="1.25" stroke-dasharray="3.4 2.9"/>
<line x1="84.21" y1="269.0" x2="84.21" y2="455.4" stroke="#b4b4b4" stroke-width="1.25" stroke-dasharray="1.2 2.3"/>
<line x1="140.63" y1="269.0" x2="140.63" y2="455.4" stroke="#b4b4b4" stroke-width="1.25" stroke-dasharray="1.2 2.3"/>
<line x1="197.05" y1="269.0" x2="197.05" y2="455.4" stroke="#b4b4b4" stroke-width="1.25" stroke-dasharray="1.2 2.3"/>
<line x1="253.46" y1="269.0" x2="253.46" y2="455.4" stroke="#b4b4b4" stroke-width="1.25" stroke-dasharray="1.2 2.3"/>
<line x1="309.88" y1="269.0" x2="309.88" y2="455.4" stroke="#b4b4b4" stroke-width="1.25" stroke-dasharray="1.2 2.3"/>
<g clip-path="url(#clipA1)" fill="none" stroke-width="1.9" stroke-linejoin="round">
<path d="M366.3 301.8L364.9 301.9L363.5 302.1L362.1 302.2L360.7 302.2L359.2 301.9L357.8 301.3L356.4 300.5L355.0 299.7L353.6 298.9L352.2 298.3L350.8 297.9L349.4 297.5L348.0 297.2L346.6 297.0L345.1 296.8L343.7 296.5L342.3 296.3L340.9 296.1L339.5 295.9L338.1 295.6L336.7 295.4L335.3 295.1L333.9 294.8L332.4 294.5L331.0 294.3L329.6 294.0L328.2 293.7L326.8 293.4L325.4 293.2L324.0 293.0L322.6 292.8L321.2 292.6L319.8 292.4L318.3 292.2L316.9 292.1L315.5 291.9L314.1 291.8L312.7 291.6L311.3 291.3L309.9 291.1L308.5 290.8L307.1 290.5L305.7 290.1L304.2 289.8L302.8 289.4L301.4 289.0L300.0 288.7L298.6 288.3L297.2 287.9L295.8 287.6L294.4 287.4L293.0 287.2L291.5 287.0L290.1 287.0L288.7 287.1L287.3 287.2L285.9 287.4L284.5 287.7L283.1 288.0L281.7 288.5L280.3 289.0L278.9 289.6L277.4 290.3L276.0 291.0L274.6 291.7L273.2 292.5L271.8 293.2L270.4 293.9L269.0 294.6L267.6 295.2L266.2 295.8L264.7 296.2L263.3 296.4L261.9 296.5L260.5 296.4L259.1 296.1L257.7 295.8L256.3 295.4L254.9 295.1L253.5 294.8L252.1 294.5L250.6 294.2L249.2 293.8L247.8 293.5L246.4 293.1L245.0 292.7L243.6 292.3L242.2 292.0L240.8 291.6L239.4 291.3L237.9 291.0L236.5 290.8L235.1 290.6L233.7 290.4L232.3 290.3L230.9 290.3L229.5 290.3L228.1 290.5L226.7 290.6L225.3 290.8L223.8 291.1L222.4 291.3L221.0 291.6L219.6 291.9L218.2 292.1L216.8 292.4L215.4 292.6L214.0 292.8L212.6 292.9L211.2 293.0L209.7 293.0L208.3 292.9L206.9 292.8L205.5 292.7L204.1 292.6L202.7 292.4L201.3 292.2L199.9 292.1L198.5 291.9L197.0 291.7L195.6 291.6L194.2 291.4L192.8 291.4L191.4 291.3L190.0 291.3L188.6 291.4L187.2 291.5L185.8 291.6L184.4 291.8L182.9 292.0L181.5 292.3L180.1 292.5L178.7 292.8L177.3 293.0L175.9 293.3L174.5 293.5L173.1 293.7L171.7 293.9L170.2 294.1L168.8 294.2L167.4 294.3L166.0 294.4L164.6 294.5L163.2 294.6L161.8 294.7L160.4 294.8L159.0 294.9L157.6 294.9L156.1 295.0L154.7 295.1L153.3 295.2L151.9 295.2L150.5 295.3L149.1 295.4L147.7 295.5L146.3 295.5L144.9 295.6L143.4 295.7L142.0 295.8L140.6 295.9L139.2 296.0L137.8 296.1L136.4 296.3L135.0 296.4L133.6 296.5L132.2 296.7L130.8 296.8L129.3 297.0L127.9 297.2L126.5 297.3L125.1 297.4L123.7 297.6L122.3 297.7L120.9 297.8L119.5 297.9L118.1 298.0L116.6 298.1L115.2 298.1L113.8 298.1L112.4 298.1L111.0 298.1L109.6 298.0L108.2 297.9L106.8 297.8L105.4 297.6L104.0 297.5L102.5 297.3L101.1 297.1L99.7 296.9L98.3 296.7L96.9 296.4L95.5 296.2L94.1 296.0L92.7 295.8L91.3 295.5L89.9 295.3L88.4 295.1L87.0 294.9L85.6 294.7L84.2 294.5L82.8 294.3L81.4 294.2L80.0 294.0L78.6 293.9L77.2 293.7L75.7 293.6L74.3 293.4L72.9 293.3L71.5 293.1L70.1 293.0L68.7 292.8L67.3 292.7L65.9 292.5L64.5 292.3L63.1 292.2L61.6 292.0L60.2 291.9L58.8 291.7L57.4 291.5L56.0 291.3" stroke="#5500ff"/>
<path d="M366.3 320.4L364.9 320.9L363.5 321.4L362.1 321.9L360.7 322.2L359.2 322.2L357.8 321.9L356.4 321.3L355.0 320.6L353.6 320.0L352.2 319.6L350.8 319.3L349.4 319.0L348.0 318.8L346.6 318.5L345.1 318.3L343.7 318.1L342.3 317.8L340.9 317.5L339.5 317.3L338.1 316.9L336.7 316.6L335.3 316.2L333.9 315.7L332.4 315.3L331.0 314.8L329.6 314.3L328.2 313.9L326.8 313.4L325.4 313.0L324.0 312.6L322.6 312.3L321.2 311.9L319.8 311.6L318.3 311.2L316.9 310.9L315.5 310.6L314.1 310.2L312.7 309.9L311.3 309.5L309.9 309.1L308.5 308.7L307.1 308.1L305.7 307.5L304.2 306.8L302.8 306.2L301.4 305.7L300.0 305.3L298.6 305.0L297.2 304.6L295.8 304.2L294.4 303.9L293.0 303.5L291.5 303.2L290.1 302.9L288.7 302.6L287.3 302.3L285.9 302.0L284.5 301.8L283.1 301.5L281.7 301.3L280.3 301.1L278.9 300.9L277.4 300.7L276.0 300.5L274.6 300.3L273.2 300.1L271.8 299.9L270.4 299.7L269.0 299.4L267.6 299.2L266.2 299.0L264.7 298.7L263.3 298.5L261.9 298.3L260.5 298.0L259.1 297.8L257.7 297.6L256.3 297.4L254.9 297.2L253.5 297.0L252.1 296.8L250.6 296.6L249.2 296.4L247.8 296.2L246.4 296.0L245.0 295.8L243.6 295.7L242.2 295.6L240.8 295.6L239.4 295.6L237.9 295.7L236.5 295.9L235.1 296.2L233.7 296.5L232.3 296.8L230.9 297.2L229.5 297.5L228.1 297.8L226.7 298.0L225.3 298.1L223.8 298.2L222.4 298.2L221.0 298.2L219.6 298.1L218.2 298.0L216.8 297.8L215.4 297.6L214.0 297.3L212.6 297.0L211.2 296.7L209.7 296.3L208.3 295.9L206.9 295.4L205.5 294.9L204.1 294.4L202.7 293.9L201.3 293.3L199.9 292.8L198.5 292.3L197.0 291.8L195.6 291.5L194.2 291.2L192.8 290.9L191.4 290.7L190.0 290.7L188.6 290.7L187.2 290.8L185.8 291.0L184.4 291.2L182.9 291.6L181.5 292.0L180.1 292.4L178.7 292.9L177.3 293.4L175.9 293.9L174.5 294.4L173.1 294.9L171.7 295.4L170.2 295.8L168.8 296.2L167.4 296.6L166.0 296.9L164.6 297.2L163.2 297.5L161.8 297.8L160.4 298.0L159.0 298.2L157.6 298.3L156.1 298.4L154.7 298.5L153.3 298.6L151.9 298.6L150.5 298.6L149.1 298.6L147.7 298.5L146.3 298.4L144.9 298.3L143.4 298.1L142.0 297.9L140.6 297.6L139.2 297.4L137.8 297.1L136.4 296.7L135.0 296.4L133.6 296.0L132.2 295.6L130.8 295.2L129.3 294.7L127.9 294.3L126.5 293.8L125.1 293.3L123.7 292.8L122.3 292.3L120.9 291.9L119.5 291.4L118.1 290.9L116.6 290.4L115.2 289.9L113.8 289.5L112.4 289.0L111.0 288.6L109.6 288.2L108.2 287.8L106.8 287.4L105.4 287.0L104.0 286.5L102.5 286.1L101.1 285.7L99.7 285.3L98.3 284.9L96.9 284.5L95.5 284.1L94.1 283.7L92.7 283.4L91.3 283.0L89.9 282.7L88.4 282.4L87.0 282.1L85.6 281.9L84.2 281.6L82.8 281.4L81.4 281.3L80.0 281.1L78.6 281.0L77.2 280.8L75.7 280.8L74.3 280.7L72.9 280.6L71.5 280.6L70.1 280.5L68.7 280.5L67.3 280.5L65.9 280.5L64.5 280.5L63.1 280.5L61.6 280.6L60.2 280.6L58.8 280.6L57.4 280.7L56.0 280.7" stroke="#4000ff"/>
<path d="M366.3 344.1L364.9 345.3L363.5 346.6L362.1 347.9L360.7 348.9L359.2 349.5L357.8 349.7L356.4 349.6L355.0 349.3L353.6 349.0L352.2 348.9L350.8 348.8L349.4 348.7L348.0 348.7L346.6 348.6L345.1 348.6L343.7 348.5L342.3 348.4L340.9 348.3L339.5 348.1L338.1 347.8L336.7 347.4L335.3 347.0L333.9 346.3L332.4 345.5L331.0 344.5L329.6 343.6L328.2 342.6L326.8 341.5L325.4 340.4L324.0 339.3L322.6 338.2L321.2 337.0L319.8 335.9L318.3 334.7L316.9 333.5L315.5 332.3L314.1 331.1L312.7 329.8L311.3 328.6L309.9 327.4L308.5 326.1L307.1 324.8L305.7 323.6L304.2 322.3L302.8 320.9L301.4 319.6L300.0 318.2L298.6 316.7L297.2 315.1L295.8 313.4L294.4 311.8L293.0 310.2L291.5 308.6L290.1 307.2L288.7 305.8L287.3 304.6L285.9 303.6L284.5 302.8L283.1 302.1L281.7 301.6L280.3 301.2L278.9 300.9L277.4 300.6L276.0 300.4L274.6 300.2L273.2 300.0L271.8 299.9L270.4 299.7L269.0 299.4L267.6 299.3L266.2 299.1L264.7 299.0L263.3 298.9L261.9 298.8L260.5 298.7L259.1 298.6L257.7 298.6L256.3 298.5L254.9 298.4L253.5 298.3L252.1 298.2L250.6 298.1L249.2 298.0L247.8 297.9L246.4 297.7L245.0 297.6L243.6 297.5L242.2 297.4L240.8 297.3L239.4 297.2L237.9 297.1L236.5 297.0L235.1 296.9L233.7 296.8L232.3 296.7L230.9 296.6L229.5 296.5L228.1 296.4L226.7 296.3L225.3 296.2L223.8 296.2L222.4 296.1L221.0 296.0L219.6 295.8L218.2 295.7L216.8 295.6L215.4 295.4L214.0 295.2L212.6 295.0L211.2 294.7L209.7 294.5L208.3 294.2L206.9 293.9L205.5 293.6L204.1 293.2L202.7 292.9L201.3 292.5L199.9 292.2L198.5 291.9L197.0 291.6L195.6 291.3L194.2 291.1L192.8 290.9L191.4 290.8L190.0 290.8L188.6 290.8L187.2 290.8L185.8 290.9L184.4 291.1L182.9 291.3L181.5 291.6L180.1 291.9L178.7 292.2L177.3 292.5L175.9 292.9L174.5 293.3L173.1 293.6L171.7 294.0L170.2 294.3L168.8 294.6L167.4 294.9L166.0 295.2L164.6 295.5L163.2 295.7L161.8 295.9L160.4 296.0L159.0 296.2L157.6 296.3L156.1 296.4L154.7 296.4L153.3 296.5L151.9 296.5L150.5 296.5L149.1 296.4L147.7 296.4L146.3 296.3L144.9 296.2L143.4 296.0L142.0 295.8L140.6 295.6L139.2 295.4L137.8 295.1L136.4 294.8L135.0 294.5L133.6 294.2L132.2 293.8L130.8 293.4L129.3 293.1L127.9 292.7L126.5 292.2L125.1 291.8L123.7 291.4L122.3 291.0L120.9 290.6L119.5 290.2L118.1 289.8L116.6 289.5L115.2 289.1L113.8 288.7L112.4 288.4L111.0 288.1L109.6 287.8L108.2 287.5L106.8 287.2L105.4 287.0L104.0 286.7L102.5 286.5L101.1 286.2L99.7 286.0L98.3 285.8L96.9 285.5L95.5 285.3L94.1 285.1L92.7 284.9L91.3 284.6L89.9 284.4L88.4 284.2L87.0 284.0L85.6 283.8L84.2 283.6L82.8 283.3L81.4 283.1L80.0 282.9L78.6 282.7L77.2 282.5L75.7 282.4L74.3 282.2L72.9 282.0L71.5 281.8L70.1 281.7L68.7 281.5L67.3 281.4L65.9 281.2L64.5 281.1L63.1 281.0L61.6 280.9L60.2 280.8L58.8 280.7L57.4 280.6L56.0 280.5" stroke="#2828ff"/>
<path d="M366.3 355.8L364.9 356.6L363.5 357.5L362.1 358.3L360.7 359.1L359.2 359.6L357.8 360.1L356.4 360.4L355.0 360.6L353.6 360.8L352.2 360.9L350.8 360.9L349.4 360.9L348.0 360.9L346.6 360.9L345.1 360.9L343.7 360.9L342.3 360.8L340.9 360.8L339.5 360.7L338.1 360.6L336.7 360.5L335.3 360.4L333.9 360.3L332.4 360.1L331.0 360.0L329.6 359.7L328.2 359.5L326.8 359.1L325.4 358.7L324.0 358.3L322.6 357.9L321.2 357.3L319.8 356.4L318.3 355.3L316.9 353.9L315.5 352.4L314.1 350.7L312.7 349.0L311.3 347.2L309.9 345.3L308.5 343.5L307.1 341.5L305.7 339.6L304.2 337.6L302.8 335.7L301.4 333.7L300.0 331.7L298.6 329.5L297.2 327.2L295.8 324.9L294.4 322.6L293.0 320.3L291.5 318.1L290.1 316.0L288.7 314.0L287.3 312.2L285.9 310.5L284.5 309.1L283.1 307.8L281.7 306.7L280.3 305.6L278.9 304.7L277.4 303.8L276.0 303.0L274.6 302.3L273.2 301.7L271.8 301.1L270.4 300.5L269.0 300.0L267.6 299.6L266.2 299.2L264.7 298.9L263.3 298.7L261.9 298.6L260.5 298.5L259.1 298.4L257.7 298.4L256.3 298.3L254.9 298.3L253.5 298.3L252.1 298.3L250.6 298.3L249.2 298.4L247.8 298.5L246.4 298.6L245.0 298.7L243.6 298.8L242.2 298.9L240.8 299.0L239.4 299.2L237.9 299.3L236.5 299.4L235.1 299.4L233.7 299.5L232.3 299.6L230.9 299.6L229.5 299.6L228.1 299.6L226.7 299.5L225.3 299.4L223.8 299.3L222.4 299.1L221.0 298.9L219.6 298.7L218.2 298.5L216.8 298.2L215.4 297.8L214.0 297.5L212.6 297.1L211.2 296.7L209.7 296.2L208.3 295.7L206.9 295.2L205.5 294.7L204.1 294.1L202.7 293.6L201.3 293.0L199.9 292.5L198.5 292.0L197.0 291.5L195.6 291.0L194.2 290.6L192.8 290.3L191.4 290.0L190.0 289.8L188.6 289.7L187.2 289.7L185.8 289.7L184.4 289.8L182.9 290.0L181.5 290.2L180.1 290.5L178.7 290.9L177.3 291.3L175.9 291.7L174.5 292.2L173.1 292.7L171.7 293.1L170.2 293.6L168.8 294.1L167.4 294.5L166.0 294.9L164.6 295.4L163.2 295.8L161.8 296.2L160.4 296.6L159.0 297.0L157.6 297.3L156.1 297.7L154.7 298.0L153.3 298.3L151.9 298.5L150.5 298.8L149.1 299.0L147.7 299.2L146.3 299.3L144.9 299.4L143.4 299.5L142.0 299.5L140.6 299.5L139.2 299.4L137.8 299.3L136.4 299.2L135.0 299.0L133.6 298.8L132.2 298.6L130.8 298.3L129.3 298.1L127.9 297.8L126.5 297.5L125.1 297.1L123.7 296.8L122.3 296.4L120.9 296.1L119.5 295.7L118.1 295.3L116.6 294.9L115.2 294.6L113.8 294.2L112.4 293.8L111.0 293.4L109.6 293.1L108.2 292.7L106.8 292.3L105.4 291.9L104.0 291.4L102.5 291.0L101.1 290.6L99.7 290.2L98.3 289.7L96.9 289.3L95.5 288.9L94.1 288.5L92.7 288.0L91.3 287.6L89.9 287.2L88.4 286.9L87.0 286.5L85.6 286.2L84.2 285.8L82.8 285.5L81.4 285.2L80.0 285.0L78.6 284.7L77.2 284.5L75.7 284.3L74.3 284.1L72.9 283.9L71.5 283.7L70.1 283.6L68.7 283.5L67.3 283.4L65.9 283.3L64.5 283.2L63.1 283.1L61.6 283.1L60.2 283.1L58.8 283.1L57.4 283.1L56.0 283.1" stroke="#1a55ff"/>
<path d="M366.3 370.2L364.9 371.7L363.5 373.3L362.1 374.8L360.7 376.1L359.2 377.0L357.8 377.7L356.4 378.1L355.0 378.2L353.6 378.2L352.2 378.2L350.8 378.0L349.4 377.8L348.0 377.6L346.6 377.4L345.1 377.1L343.7 376.8L342.3 376.5L340.9 376.2L339.5 375.8L338.1 375.5L336.7 375.2L335.3 375.0L333.9 374.7L332.4 374.3L331.0 373.6L329.6 372.9L328.2 371.9L326.8 370.9L325.4 369.8L324.0 368.7L322.6 367.5L321.2 366.3L319.8 365.0L318.3 363.8L316.9 362.5L315.5 361.1L314.1 359.8L312.7 358.4L311.3 357.0L309.9 355.6L308.5 354.2L307.1 352.7L305.7 351.3L304.2 349.9L302.8 348.4L301.4 347.0L300.0 345.6L298.6 344.1L297.2 342.6L295.8 341.1L294.4 339.6L293.0 338.1L291.5 336.6L290.1 335.2L288.7 333.8L287.3 332.5L285.9 331.3L284.5 330.2L283.1 329.1L281.7 328.2L280.3 327.2L278.9 326.3L277.4 325.5L276.0 324.7L274.6 323.8L273.2 323.0L271.8 322.2L270.4 321.4L269.0 320.5L267.6 319.7L266.2 318.8L264.7 318.0L263.3 317.2L261.9 316.3L260.5 315.5L259.1 314.7L257.7 313.9L256.3 313.1L254.9 312.4L253.5 311.6L252.1 310.8L250.6 310.1L249.2 309.3L247.8 308.5L246.4 307.7L245.0 307.0L243.6 306.3L242.2 305.7L240.8 305.2L239.4 304.7L237.9 304.3L236.5 304.1L235.1 303.9L233.7 303.9L232.3 303.8L230.9 303.8L229.5 303.6L228.1 303.4L226.7 303.2L225.3 302.9L223.8 302.6L222.4 302.2L221.0 301.8L219.6 301.4L218.2 301.0L216.8 300.5L215.4 300.0L214.0 299.5L212.6 299.0L211.2 298.4L209.7 297.8L208.3 297.2L206.9 296.5L205.5 295.9L204.1 295.2L202.7 294.5L201.3 293.9L199.9 293.2L198.5 292.6L197.0 292.0L195.6 291.4L194.2 290.9L192.8 290.5L191.4 290.1L190.0 289.8L188.6 289.7L187.2 289.6L185.8 289.6L184.4 289.7L182.9 289.9L181.5 290.2L180.1 290.5L178.7 291.0L177.3 291.4L175.9 292.0L174.5 292.5L173.1 293.0L171.7 293.5L170.2 294.0L168.8 294.5L167.4 294.9L166.0 295.3L164.6 295.7L163.2 296.1L161.8 296.5L160.4 296.9L159.0 297.2L157.6 297.6L156.1 297.9L154.7 298.2L153.3 298.4L151.9 298.6L150.5 298.8L149.1 299.0L147.7 299.1L146.3 299.2L144.9 299.3L143.4 299.3L142.0 299.3L140.6 299.2L139.2 299.1L137.8 299.0L136.4 298.8L135.0 298.6L133.6 298.3L132.2 298.0L130.8 297.7L129.3 297.3L127.9 297.0L126.5 296.6L125.1 296.2L123.7 295.8L122.3 295.3L120.9 294.9L119.5 294.5L118.1 294.1L116.6 293.7L115.2 293.3L113.8 292.9L112.4 292.5L111.0 292.1L109.6 291.8L108.2 291.4L106.8 291.0L105.4 290.7L104.0 290.3L102.5 289.9L101.1 289.6L99.7 289.2L98.3 288.8L96.9 288.5L95.5 288.1L94.1 287.8L92.7 287.4L91.3 287.0L89.9 286.7L88.4 286.3L87.0 285.9L85.6 285.6L84.2 285.2L82.8 284.8L81.4 284.5L80.0 284.1L78.6 283.8L77.2 283.4L75.7 283.1L74.3 282.8L72.9 282.4L71.5 282.1L70.1 281.8L68.7 281.5L67.3 281.3L65.9 281.0L64.5 280.8L63.1 280.5L61.6 280.3L60.2 280.1L58.8 279.9L57.4 279.8L56.0 279.6" stroke="#0080ff"/>
<path d="M366.3 375.5L364.9 376.6L363.5 377.8L362.1 379.0L360.7 380.3L359.2 381.5L357.8 382.6L356.4 383.7L355.0 384.7L353.6 385.5L352.2 386.2L350.8 386.6L349.4 387.0L348.0 387.2L346.6 387.3L345.1 387.3L343.7 387.3L342.3 387.1L340.9 386.9L339.5 386.7L338.1 386.4L336.7 386.1L335.3 385.6L333.9 385.1L332.4 384.4L331.0 383.6L329.6 382.8L328.2 381.8L326.8 380.8L325.4 379.7L324.0 378.3L322.6 376.8L321.2 375.2L319.8 373.6L318.3 372.1L316.9 370.7L315.5 369.4L314.1 368.2L312.7 366.9L311.3 365.7L309.9 364.5L308.5 363.3L307.1 362.0L305.7 360.8L304.2 359.5L302.8 358.2L301.4 356.9L300.0 355.5L298.6 354.0L297.2 352.6L295.8 351.1L294.4 349.5L293.0 348.0L291.5 346.5L290.1 345.0L288.7 343.6L287.3 342.2L285.9 340.9L284.5 339.6L283.1 338.4L281.7 337.2L280.3 336.0L278.9 334.8L277.4 333.7L276.0 332.6L274.6 331.5L273.2 330.5L271.8 329.5L270.4 328.6L269.0 327.7L267.6 326.8L266.2 326.0L264.7 325.2L263.3 324.5L261.9 323.7L260.5 323.0L259.1 322.4L257.7 321.7L256.3 321.0L254.9 320.3L253.5 319.6L252.1 318.9L250.6 318.1L249.2 317.4L247.8 316.6L246.4 315.9L245.0 315.2L243.6 314.5L242.2 313.9L240.8 313.4L239.4 312.9L237.9 312.6L236.5 312.5L235.1 312.5L233.7 312.6L232.3 312.7L230.9 312.7L229.5 312.6L228.1 312.4L226.7 312.0L225.3 311.4L223.8 310.7L222.4 309.9L221.0 308.9L219.6 307.9L218.2 306.9L216.8 305.8L215.4 304.6L214.0 303.4L212.6 302.2L211.2 301.0L209.7 299.8L208.3 298.5L206.9 297.3L205.5 296.2L204.1 295.1L202.7 294.2L201.3 293.3L199.9 292.6L198.5 291.9L197.0 291.4L195.6 291.0L194.2 290.7L192.8 290.4L191.4 290.1L190.0 289.8L188.6 289.6L187.2 289.4L185.8 289.3L184.4 289.3L182.9 289.3L181.5 289.4L180.1 289.5L178.7 289.7L177.3 289.9L175.9 290.1L174.5 290.4L173.1 290.6L171.7 290.9L170.2 291.1L168.8 291.4L167.4 291.7L166.0 291.9L164.6 292.1L163.2 292.4L161.8 292.6L160.4 292.8L159.0 292.9L157.6 293.1L156.1 293.2L154.7 293.4L153.3 293.5L151.9 293.6L150.5 293.7L149.1 293.7L147.7 293.7L146.3 293.8L144.9 293.7L143.4 293.7L142.0 293.6L140.6 293.5L139.2 293.4L137.8 293.2L136.4 293.0L135.0 292.8L133.6 292.5L132.2 292.2L130.8 291.9L129.3 291.6L127.9 291.2L126.5 290.9L125.1 290.6L123.7 290.2L122.3 289.9L120.9 289.6L119.5 289.3L118.1 289.0L116.6 288.7L115.2 288.5L113.8 288.3L112.4 288.1L111.0 287.9L109.6 287.7L108.2 287.6L106.8 287.4L105.4 287.3L104.0 287.2L102.5 287.1L101.1 287.0L99.7 287.0L98.3 286.9L96.9 286.8L95.5 286.8L94.1 286.7L92.7 286.7L91.3 286.6L89.9 286.5L88.4 286.5L87.0 286.4L85.6 286.4L84.2 286.3L82.8 286.2L81.4 286.2L80.0 286.1L78.6 286.1L77.2 286.1L75.7 286.1L74.3 286.1L72.9 286.1L71.5 286.1L70.1 286.2L68.7 286.2L67.3 286.3L65.9 286.4L64.5 286.5L63.1 286.6L61.6 286.7L60.2 286.8L58.8 287.0L57.4 287.1L56.0 287.3" stroke="#00a5ff"/>
<path d="M366.3 380.8L364.9 382.5L363.5 384.3L362.1 386.1L360.7 387.9L359.2 389.7L357.8 391.4L356.4 393.0L355.0 394.5L353.6 395.8L352.2 396.8L350.8 397.6L349.4 398.2L348.0 398.6L346.6 398.9L345.1 399.1L343.7 399.1L342.3 399.2L340.9 399.1L339.5 399.0L338.1 398.9L336.7 398.8L335.3 398.5L333.9 398.0L332.4 397.2L331.0 396.4L329.6 395.5L328.2 394.6L326.8 393.8L325.4 392.9L324.0 392.0L322.6 390.9L321.2 389.8L319.8 388.6L318.3 387.3L316.9 385.9L315.5 384.2L314.1 382.5L312.7 380.7L311.3 378.7L309.9 376.8L308.5 374.9L307.1 372.9L305.7 371.0L304.2 369.1L302.8 367.3L301.4 365.7L300.0 364.1L298.6 362.5L297.2 361.0L295.8 359.5L294.4 358.1L293.0 356.7L291.5 355.3L290.1 354.0L288.7 352.7L287.3 351.5L285.9 350.2L284.5 349.0L283.1 347.9L281.7 346.7L280.3 345.6L278.9 344.6L277.4 343.5L276.0 342.5L274.6 341.5L273.2 340.6L271.8 339.6L270.4 338.7L269.0 337.8L267.6 336.9L266.2 336.1L264.7 335.3L263.3 334.5L261.9 333.7L260.5 332.9L259.1 332.1L257.7 331.4L256.3 330.6L254.9 329.8L253.5 328.9L252.1 328.0L250.6 327.0L249.2 326.0L247.8 325.0L246.4 323.9L245.0 322.9L243.6 321.9L242.2 321.1L240.8 320.3L239.4 319.6L237.9 319.1L236.5 318.8L235.1 318.6L233.7 318.6L232.3 318.5L230.9 318.3L229.5 318.0L228.1 317.7L226.7 317.2L225.3 316.7L223.8 316.2L222.4 315.5L221.0 314.9L219.6 314.2L218.2 313.4L216.8 312.7L215.4 311.9L214.0 311.1L212.6 310.2L211.2 309.3L209.7 308.4L208.3 307.5L206.9 306.5L205.5 305.6L204.1 304.6L202.7 303.6L201.3 302.7L199.9 301.7L198.5 300.8L197.0 299.9L195.6 299.1L194.2 298.3L192.8 297.6L191.4 297.0L190.0 296.5L188.6 296.1L187.2 295.8L185.8 295.6L184.4 295.6L182.9 295.6L181.5 295.8L180.1 296.0L178.7 296.4L177.3 296.8L175.9 297.3L174.5 297.7L173.1 298.2L171.7 298.6L170.2 299.0L168.8 299.4L167.4 299.7L166.0 300.0L164.6 300.3L163.2 300.6L161.8 300.9L160.4 301.1L159.0 301.4L157.6 301.6L156.1 301.8L154.7 302.0L153.3 302.1L151.9 302.3L150.5 302.4L149.1 302.5L147.7 302.6L146.3 302.6L144.9 302.7L143.4 302.7L142.0 302.6L140.6 302.6L139.2 302.5L137.8 302.4L136.4 302.3L135.0 302.1L133.6 301.9L132.2 301.7L130.8 301.5L129.3 301.3L127.9 301.1L126.5 300.8L125.1 300.5L123.7 300.3L122.3 300.0L120.9 299.7L119.5 299.4L118.1 299.1L116.6 298.9L115.2 298.6L113.8 298.3L112.4 298.0L111.0 297.7L109.6 297.4L108.2 297.1L106.8 296.7L105.4 296.4L104.0 296.1L102.5 295.8L101.1 295.4L99.7 295.1L98.3 294.8L96.9 294.4L95.5 294.1L94.1 293.7L92.7 293.3L91.3 293.0L89.9 292.6L88.4 292.2L87.0 291.9L85.6 291.5L84.2 291.1L82.8 290.8L81.4 290.4L80.0 290.0L78.6 289.7L77.2 289.3L75.7 289.0L74.3 288.6L72.9 288.3L71.5 288.0L70.1 287.7L68.7 287.3L67.3 287.0L65.9 286.8L64.5 286.5L63.1 286.2L61.6 286.0L60.2 285.8L58.8 285.5L57.4 285.3L56.0 285.2" stroke="#00ccff"/>
<path d="M366.3 386.2L364.9 387.5L363.5 389.0L362.1 390.5L360.7 392.0L359.2 393.5L357.8 394.9L356.4 396.2L355.0 397.5L353.6 398.5L352.2 399.5L350.8 400.2L349.4 400.8L348.0 401.2L346.6 401.6L345.1 401.9L343.7 402.1L342.3 402.3L340.9 402.4L339.5 402.5L338.1 402.7L336.7 402.8L335.3 402.9L333.9 402.9L332.4 402.8L331.0 402.5L329.6 402.1L328.2 401.8L326.8 401.4L325.4 401.0L324.0 400.6L322.6 400.0L321.2 399.4L319.8 398.7L318.3 398.0L316.9 397.2L315.5 396.4L314.1 395.6L312.7 394.7L311.3 393.9L309.9 393.0L308.5 392.1L307.1 391.2L305.7 390.3L304.2 389.4L302.8 388.5L301.4 387.5L300.0 386.5L298.6 385.5L297.2 384.5L295.8 383.4L294.4 382.3L293.0 381.2L291.5 380.0L290.1 378.8L288.7 377.5L287.3 376.2L285.9 374.9L284.5 373.6L283.1 372.2L281.7 370.8L280.3 369.4L278.9 368.0L277.4 366.6L276.0 365.2L274.6 363.7L273.2 362.3L271.8 360.8L270.4 359.3L269.0 357.8L267.6 356.2L266.2 354.6L264.7 352.9L263.3 351.2L261.9 349.5L260.5 347.8L259.1 346.0L257.7 344.3L256.3 342.6L254.9 341.0L253.5 339.6L252.1 338.2L250.6 337.0L249.2 335.9L247.8 334.9L246.4 334.0L245.0 333.1L243.6 332.2L242.2 331.3L240.8 330.4L239.4 329.4L237.9 328.5L236.5 327.6L235.1 326.7L233.7 325.8L232.3 324.9L230.9 324.1L229.5 323.3L228.1 322.4L226.7 321.7L225.3 320.9L223.8 320.2L222.4 319.6L221.0 318.9L219.6 318.3L218.2 317.7L216.8 317.1L215.4 316.5L214.0 315.9L212.6 315.3L211.2 314.7L209.7 314.1L208.3 313.5L206.9 312.9L205.5 312.3L204.1 311.6L202.7 310.9L201.3 310.0L199.9 309.1L198.5 308.1L197.0 307.0L195.6 306.1L194.2 305.4L192.8 304.7L191.4 304.3L190.0 303.9L188.6 303.7L187.2 303.6L185.8 303.6L184.4 303.6L182.9 303.6L181.5 303.7L180.1 303.8L178.7 303.9L177.3 304.0L175.9 304.1L174.5 304.2L173.1 304.2L171.7 304.2L170.2 304.2L168.8 304.2L167.4 304.1L166.0 304.0L164.6 303.9L163.2 303.8L161.8 303.7L160.4 303.6L159.0 303.4L157.6 303.3L156.1 303.1L154.7 303.0L153.3 302.8L151.9 302.7L150.5 302.5L149.1 302.3L147.7 302.1L146.3 301.9L144.9 301.7L143.4 301.4L142.0 301.2L140.6 301.0L139.2 300.8L137.8 300.5L136.4 300.3L135.0 300.0L133.6 299.8L132.2 299.6L130.8 299.3L129.3 299.1L127.9 298.8L126.5 298.6L125.1 298.3L123.7 298.1L122.3 297.8L120.9 297.6L119.5 297.3L118.1 297.1L116.6 296.8L115.2 296.5L113.8 296.3L112.4 296.0L111.0 295.8L109.6 295.5L108.2 295.3L106.8 295.1L105.4 294.8L104.0 294.4L102.5 294.0L101.1 293.5L99.7 292.9L98.3 292.3L96.9 291.5L95.5 290.7L94.1 289.9L92.7 288.9L91.3 287.9L89.9 286.9L88.4 285.8L87.0 284.7L85.6 283.6L84.2 282.5L82.8 281.4L81.4 280.3L80.0 279.2L78.6 278.1L77.2 277.0L75.7 275.8L74.3 274.6L72.9 273.4L71.5 272.1L70.1 270.7L68.7 269.3L67.3 267.8L65.9 266.3L64.5 264.6L63.1 262.9L61.6 261.1L60.2 259.3L58.8 257.5L57.4 255.7L56.0 253.8" stroke="#00f5ff"/>
<path d="M366.3 391.5L364.9 392.9L363.5 394.3L362.1 395.8L360.7 397.3L359.2 398.8L357.8 400.2L356.4 401.6L355.0 402.8L353.6 403.9L352.2 404.8L350.8 405.5L349.4 406.0L348.0 406.4L346.6 406.7L345.1 407.0L343.7 407.1L342.3 407.2L340.9 407.3L339.5 407.4L338.1 407.5L336.7 407.6L335.3 407.6L333.9 407.6L332.4 407.4L331.0 407.2L329.6 406.9L328.2 406.7L326.8 406.5L325.4 406.3L324.0 406.0L322.6 405.6L321.2 405.2L319.8 404.7L318.3 404.2L316.9 403.6L315.5 403.0L314.1 402.4L312.7 401.8L311.3 401.2L309.9 400.5L308.5 399.9L307.1 399.2L305.7 398.5L304.2 397.8L302.8 397.1L301.4 396.3L300.0 395.5L298.6 394.7L297.2 393.9L295.8 393.0L294.4 392.1L293.0 391.1L291.5 390.1L290.1 389.0L288.7 387.9L287.3 386.7L285.9 385.6L284.5 384.4L283.1 383.1L281.7 381.9L280.3 380.6L278.9 379.3L277.4 378.0L276.0 376.6L274.6 375.3L273.2 373.9L271.8 372.4L270.4 371.0L269.0 369.5L267.6 367.9L266.2 366.2L264.7 364.4L263.3 362.5L261.9 360.5L260.5 358.6L259.1 356.7L257.7 354.8L256.3 353.1L254.9 351.6L253.5 350.2L252.1 349.1L250.6 348.2L249.2 347.5L247.8 346.9L246.4 346.4L245.0 346.1L243.6 345.7L242.2 345.3L240.8 344.9L239.4 344.4L237.9 343.8L236.5 343.2L235.1 342.7L233.7 342.1L232.3 341.5L230.9 341.0L229.5 340.3L228.1 339.7L226.7 339.0L225.3 338.2L223.8 337.5L222.4 336.7L221.0 335.9L219.6 335.1L218.2 334.3L216.8 333.5L215.4 332.7L214.0 331.8L212.6 331.0L211.2 330.1L209.7 329.2L208.3 328.4L206.9 327.4L205.5 326.5L204.1 325.5L202.7 324.3L201.3 322.8L199.9 320.9L198.5 318.6L197.0 316.9L195.6 315.6L194.2 314.4L192.8 313.7L191.4 313.2L190.0 312.9L188.6 312.7L187.2 312.6L185.8 312.5L184.4 312.4L182.9 312.3L181.5 312.3L180.1 312.2L178.7 312.2L177.3 312.1L175.9 312.0L174.5 312.0L173.1 311.9L171.7 311.8L170.2 311.7L168.8 311.5L167.4 311.3L166.0 311.1L164.6 310.8L163.2 310.5L161.8 310.2L160.4 309.9L159.0 309.6L157.6 309.3L156.1 309.0L154.7 308.7L153.3 308.4L151.9 308.2L150.5 308.0L149.1 307.8L147.7 307.5L146.3 307.3L144.9 307.1L143.4 306.9L142.0 306.7L140.6 306.5L139.2 306.3L137.8 306.1L136.4 305.9L135.0 305.7L133.6 305.5L132.2 305.3L130.8 305.2L129.3 305.0L127.9 304.8L126.5 304.6L125.1 304.5L123.7 304.3L122.3 304.1L120.9 303.9L119.5 303.8L118.1 303.6L116.6 303.5L115.2 303.3L113.8 303.2L112.4 303.1L111.0 302.9L109.6 302.8L108.2 302.7L106.8 302.6L105.4 302.5L104.0 302.5L102.5 302.4L101.1 302.4L99.7 302.3L98.3 302.3L96.9 302.2L95.5 302.2L94.1 302.1L92.7 302.1L91.3 302.0L89.9 301.9L88.4 301.8L87.0 301.6L85.6 301.5L84.2 301.3L82.8 301.0L81.4 300.8L80.0 300.5L78.6 300.2L77.2 299.9L75.7 299.6L74.3 299.3L72.9 299.0L71.5 298.6L70.1 298.3L68.7 297.9L67.3 297.5L65.9 297.2L64.5 296.8L63.1 296.4L61.6 296.1L60.2 295.7L58.8 295.4L57.4 295.0L56.0 294.7" stroke="#00faa0"/>
<path d="M366.3 394.2L364.9 396.1L363.5 398.1L362.1 400.1L360.7 402.1L359.2 404.1L357.8 406.1L356.4 408.0L355.0 409.7L353.6 411.4L352.2 412.8L350.8 414.0L349.4 415.1L348.0 416.0L346.6 416.8L345.1 417.5L343.7 418.2L342.3 418.8L340.9 419.5L339.5 420.1L338.1 420.8L336.7 421.6L335.3 422.4L333.9 423.2L332.4 423.9L331.0 424.4L329.6 424.8L328.2 425.0L326.8 425.2L325.4 425.2L324.0 424.9L322.6 424.3L321.2 423.4L319.8 422.2L318.3 420.5L316.9 418.5L315.5 416.6L314.1 414.8L312.7 413.1L311.3 411.6L309.9 410.1L308.5 408.8L307.1 407.4L305.7 406.1L304.2 404.8L302.8 403.5L301.4 402.2L300.0 400.9L298.6 399.6L297.2 398.4L295.8 397.1L294.4 395.9L293.0 394.6L291.5 393.4L290.1 392.1L288.7 390.9L287.3 389.7L285.9 388.5L284.5 387.2L283.1 386.0L281.7 384.8L280.3 383.6L278.9 382.4L277.4 381.2L276.0 380.1L274.6 378.9L273.2 377.7L271.8 376.5L270.4 375.3L269.0 374.2L267.6 373.0L266.2 371.9L264.7 370.7L263.3 369.6L261.9 368.5L260.5 367.4L259.1 366.3L257.7 365.3L256.3 364.2L254.9 363.2L253.5 362.2L252.1 361.2L250.6 360.2L249.2 359.3L247.8 358.4L246.4 357.4L245.0 356.5L243.6 355.6L242.2 354.8L240.8 353.9L239.4 353.0L237.9 352.2L236.5 351.4L235.1 350.5L233.7 349.7L232.3 348.9L230.9 348.1L229.5 347.3L228.1 346.5L226.7 345.7L225.3 344.9L223.8 344.1L222.4 343.3L221.0 342.6L219.6 341.8L218.2 341.0L216.8 340.3L215.4 339.6L214.0 338.8L212.6 338.1L211.2 337.4L209.7 336.7L208.3 336.0L206.9 335.3L205.5 334.6L204.1 333.8L202.7 333.1L201.3 332.4L199.9 331.7L198.5 331.0L197.0 330.2L195.6 329.5L194.2 328.8L192.8 328.1L191.4 327.4L190.0 326.6L188.6 325.9L187.2 325.2L185.8 324.4L184.4 323.7L182.9 323.0L181.5 322.2L180.1 321.5L178.7 320.8L177.3 320.2L175.9 319.5L174.5 318.9L173.1 318.3L171.7 317.8L170.2 317.3L168.8 316.8L167.4 316.3L166.0 315.9L164.6 315.5L163.2 315.2L161.8 314.8L160.4 314.5L159.0 314.2L157.6 313.9L156.1 313.7L154.7 313.4L153.3 313.1L151.9 312.9L150.5 312.6L149.1 312.3L147.7 312.0L146.3 311.8L144.9 311.4L143.4 311.1L142.0 310.8L140.6 310.4L139.2 310.1L137.8 309.7L136.4 309.3L135.0 309.0L133.6 308.6L132.2 308.3L130.8 307.9L129.3 307.6L127.9 307.2L126.5 306.9L125.1 306.5L123.7 306.2L122.3 305.8L120.9 305.4L119.5 305.0L118.1 304.6L116.6 304.2L115.2 303.8L113.8 303.4L112.4 302.9L111.0 302.5L109.6 302.1L108.2 301.8L106.8 301.4L105.4 301.0L104.0 300.6L102.5 300.3L101.1 299.9L99.7 299.6L98.3 299.2L96.9 298.9L95.5 298.5L94.1 298.2L92.7 297.8L91.3 297.5L89.9 297.1L88.4 296.7L87.0 296.3L85.6 295.9L84.2 295.4L82.8 294.9L81.4 294.3L80.0 293.6L78.6 292.8L77.2 291.8L75.7 290.8L74.3 289.6L72.9 288.5L71.5 287.4L70.1 286.5L68.7 285.6L67.3 284.8L65.9 283.9L64.5 283.0L63.1 282.2L61.6 281.3L60.2 280.4L58.8 279.5L57.4 278.6L56.0 277.7" stroke="#00ff40"/>
<path d="M366.3 391.5L364.9 393.4L363.5 395.4L362.1 397.5L360.7 399.5L359.2 401.6L357.8 403.5L356.4 405.4L355.0 407.2L353.6 408.7L352.2 410.1L350.8 411.3L349.4 412.3L348.0 413.1L346.6 413.8L345.1 414.4L343.7 414.9L342.3 415.4L340.9 415.8L339.5 416.3L338.1 416.8L336.7 417.4L335.3 418.0L333.9 418.6L332.4 419.3L331.0 419.9L329.6 420.4L328.2 420.7L326.8 420.9L325.4 421.0L324.0 420.8L322.6 420.3L321.2 419.7L319.8 418.8L318.3 417.7L316.9 416.4L315.5 415.1L314.1 413.8L312.7 412.5L311.3 411.3L309.9 410.1L308.5 409.0L307.1 407.8L305.7 406.6L304.2 405.4L302.8 404.2L301.4 403.0L300.0 401.8L298.6 400.6L297.2 399.4L295.8 398.1L294.4 396.9L293.0 395.7L291.5 394.5L290.1 393.3L288.7 392.1L287.3 390.9L285.9 389.7L284.5 388.5L283.1 387.3L281.7 386.2L280.3 385.0L278.9 383.8L277.4 382.6L276.0 381.5L274.6 380.3L273.2 379.1L271.8 377.9L270.4 376.8L269.0 375.6L267.6 374.4L266.2 373.3L264.7 372.1L263.3 371.0L261.9 369.9L260.5 368.8L259.1 367.7L257.7 366.6L256.3 365.6L254.9 364.5L253.5 363.5L252.1 362.5L250.6 361.6L249.2 360.6L247.8 359.7L246.4 358.8L245.0 357.9L243.6 357.0L242.2 356.1L240.8 355.2L239.4 354.4L237.9 353.5L236.5 352.7L235.1 351.9L233.7 351.1L232.3 350.2L230.9 349.4L229.5 348.6L228.1 347.8L226.7 347.0L225.3 346.2L223.8 345.4L222.4 344.7L221.0 343.9L219.6 343.1L218.2 342.4L216.8 341.6L215.4 340.9L214.0 340.2L212.6 339.5L211.2 338.7L209.7 338.0L208.3 337.3L206.9 336.6L205.5 335.9L204.1 335.2L202.7 334.5L201.3 333.7L199.9 333.0L198.5 332.3L197.0 331.6L195.6 330.9L194.2 330.1L192.8 329.4L191.4 328.6L190.0 327.8L188.6 327.0L187.2 326.2L185.8 325.4L184.4 324.6L182.9 323.8L181.5 323.0L180.1 322.3L178.7 321.5L177.3 320.8L175.9 320.0L174.5 319.4L173.1 318.7L171.7 318.1L170.2 317.5L168.8 316.9L167.4 316.4L166.0 316.0L164.6 315.5L163.2 315.1L161.8 314.7L160.4 314.4L159.0 314.1L157.6 313.8L156.1 313.5L154.7 313.2L153.3 313.0L151.9 312.7L150.5 312.5L149.1 312.2L147.7 312.0L146.3 311.7L144.9 311.5L143.4 311.2L142.0 311.0L140.6 310.7L139.2 310.4L137.8 310.2L136.4 309.9L135.0 309.6L133.6 309.3L132.2 309.1L130.8 308.8L129.3 308.6L127.9 308.3L126.5 308.1L125.1 307.9L123.7 307.6L122.3 307.4L120.9 307.2L119.5 307.1L118.1 306.9L116.6 306.7L115.2 306.6L113.8 306.4L112.4 306.3L111.0 306.2L109.6 306.2L108.2 306.1L106.8 306.1L105.4 306.1L104.0 306.1L102.5 306.1L101.1 306.2L99.7 306.2L98.3 306.2L96.9 306.3L95.5 306.3L94.1 306.3L92.7 306.4L91.3 306.4L89.9 306.4L88.4 306.4L87.0 306.4L85.6 306.4L84.2 306.3L82.8 306.3L81.4 306.2L80.0 306.1L78.6 306.0L77.2 305.9L75.7 305.8L74.3 305.7L72.9 305.5L71.5 305.4L70.1 305.3L68.7 305.1L67.3 304.9L65.9 304.8L64.5 304.6L63.1 304.4L61.6 304.3L60.2 304.1L58.8 303.9L57.4 303.8L56.0 303.6" stroke="#10ff00"/>
<path d="M366.3 392.4L364.9 394.4L363.5 396.4L362.1 398.5L360.7 400.6L359.2 402.6L357.8 404.7L356.4 406.7L355.0 408.6L353.6 410.4L352.2 412.2L350.8 413.9L349.4 415.5L348.0 416.8L346.6 417.8L345.1 418.6L343.7 419.0L342.3 419.3L340.9 419.5L339.5 419.6L338.1 419.9L336.7 420.3L335.3 420.7L333.9 421.0L332.4 421.2L331.0 421.3L329.6 421.3L328.2 421.2L326.8 421.0L325.4 420.7L324.0 420.3L322.6 419.7L321.2 419.1L319.8 418.3L318.3 417.6L316.9 416.8L315.5 415.8L314.1 414.8L312.7 413.7L311.3 412.6L309.9 411.5L308.5 410.3L307.1 409.1L305.7 407.9L304.2 406.6L302.8 405.4L301.4 404.1L300.0 402.8L298.6 401.6L297.2 400.3L295.8 399.1L294.4 397.9L293.0 396.6L291.5 395.4L290.1 394.2L288.7 393.0L287.3 391.9L285.9 390.7L284.5 389.6L283.1 388.5L281.7 387.4L280.3 386.4L278.9 385.3L277.4 384.3L276.0 383.3L274.6 382.4L273.2 381.4L271.8 380.5L270.4 379.5L269.0 378.6L267.6 377.7L266.2 376.8L264.7 376.0L263.3 375.1L261.9 374.2L260.5 373.4L259.1 372.5L257.7 371.7L256.3 370.8L254.9 369.9L253.5 369.1L252.1 368.2L250.6 367.3L249.2 366.5L247.8 365.7L246.4 364.8L245.0 364.0L243.6 363.2L242.2 362.4L240.8 361.6L239.4 360.7L237.9 359.9L236.5 359.1L235.1 358.3L233.7 357.4L232.3 356.6L230.9 355.7L229.5 354.8L228.1 354.0L226.7 353.1L225.3 352.2L223.8 351.2L222.4 350.3L221.0 349.3L219.6 348.3L218.2 347.4L216.8 346.4L215.4 345.4L214.0 344.4L212.6 343.3L211.2 342.3L209.7 341.3L208.3 340.3L206.9 339.3L205.5 338.3L204.1 337.3L202.7 336.3L201.3 335.3L199.9 334.3L198.5 333.3L197.0 332.4L195.6 331.4L194.2 330.4L192.8 329.5L191.4 328.5L190.0 327.6L188.6 326.6L187.2 325.7L185.8 324.8L184.4 323.9L182.9 323.0L181.5 322.2L180.1 321.4L178.7 320.7L177.3 320.0L175.9 319.4L174.5 318.9L173.1 318.4L171.7 318.0L170.2 317.5L168.8 317.0L167.4 316.4L166.0 315.7L164.6 315.1L163.2 314.5L161.8 313.9L160.4 313.3L159.0 312.8L157.6 312.4L156.1 312.0L154.7 311.7L153.3 311.4L151.9 311.1L150.5 310.8L149.1 310.5L147.7 310.2L146.3 310.0L144.9 309.7L143.4 309.5L142.0 309.2L140.6 308.9L139.2 308.7L137.8 308.4L136.4 308.2L135.0 307.9L133.6 307.7L132.2 307.5L130.8 307.2L129.3 307.0L127.9 306.8L126.5 306.5L125.1 306.2L123.7 305.9L122.3 305.6L120.9 305.2L119.5 304.8L118.1 304.3L116.6 303.8L115.2 303.3L113.8 302.7L112.4 302.2L111.0 301.7L109.6 301.2L108.2 300.6L106.8 300.1L105.4 299.5L104.0 299.0L102.5 298.4L101.1 297.8L99.7 297.1L98.3 296.4L96.9 295.6L95.5 294.8L94.1 294.1L92.7 293.3L91.3 292.7L89.9 292.2L88.4 291.8L87.0 291.3L85.6 291.0L84.2 290.7L82.8 290.6L81.4 290.6L80.0 290.6L78.6 290.8L77.2 291.0L75.7 291.2L74.3 291.5L72.9 291.8L71.5 292.1L70.1 292.4L68.7 292.7L67.3 293.1L65.9 293.4L64.5 293.8L63.1 294.1L61.6 294.4L60.2 294.8L58.8 295.1L57.4 295.4L56.0 295.7" stroke="#50fa00"/>
<path d="M366.3 377.7L364.9 380.9L363.5 384.0L362.1 387.2L360.7 390.3L359.2 393.3L357.8 396.3L356.4 399.2L355.0 402.0L353.6 404.6L352.2 407.1L350.8 409.5L349.4 411.7L348.0 413.6L346.6 415.2L345.1 416.4L343.7 417.2L342.3 417.8L340.9 418.2L339.5 418.6L338.1 418.9L336.7 419.1L335.3 419.4L333.9 419.6L332.4 419.7L331.0 419.8L329.6 419.7L328.2 419.6L326.8 419.4L325.4 419.1L324.0 418.8L322.6 418.3L321.2 417.8L319.8 417.2L318.3 416.6L316.9 415.9L315.5 415.2L314.1 414.3L312.7 413.5L311.3 412.5L309.9 411.6L308.5 410.7L307.1 409.7L305.7 408.6L304.2 407.6L302.8 406.5L301.4 405.5L300.0 404.4L298.6 403.3L297.2 402.2L295.8 401.1L294.4 400.0L293.0 398.8L291.5 397.7L290.1 396.6L288.7 395.5L287.3 394.4L285.9 393.3L284.5 392.2L283.1 391.1L281.7 390.1L280.3 389.0L278.9 388.0L277.4 387.0L276.0 386.0L274.6 385.1L273.2 384.1L271.8 383.2L270.4 382.2L269.0 381.3L267.6 380.4L266.2 379.4L264.7 378.5L263.3 377.6L261.9 376.6L260.5 375.7L259.1 374.8L257.7 373.9L256.3 372.9L254.9 372.0L253.5 371.1L252.1 370.2L250.6 369.2L249.2 368.3L247.8 367.4L246.4 366.6L245.0 365.7L243.6 364.8L242.2 363.9L240.8 363.1L239.4 362.2L237.9 361.3L236.5 360.5L235.1 359.6L233.7 358.7L232.3 357.8L230.9 356.9L229.5 356.0L228.1 355.1L226.7 354.2L225.3 353.2L223.8 352.3L222.4 351.3L221.0 350.3L219.6 349.3L218.2 348.3L216.8 347.3L215.4 346.3L214.0 345.3L212.6 344.3L211.2 343.2L209.7 342.2L208.3 341.1L206.9 340.0L205.5 338.9L204.1 337.9L202.7 336.8L201.3 335.8L199.9 334.7L198.5 333.7L197.0 332.7L195.6 331.7L194.2 330.7L192.8 329.8L191.4 328.8L190.0 327.9L188.6 326.9L187.2 326.0L185.8 325.1L184.4 324.3L182.9 323.5L181.5 322.7L180.1 321.9L178.7 321.2L177.3 320.6L175.9 320.1L174.5 319.7L173.1 319.3L171.7 318.9L170.2 318.6L168.8 318.1L167.4 317.6L166.0 317.1L164.6 316.6L163.2 316.1L161.8 315.6L160.4 315.2L159.0 314.9L157.6 314.6L156.1 314.3L154.7 314.1L153.3 314.0L151.9 313.8L150.5 313.7L149.1 313.5L147.7 313.4L146.3 313.3L144.9 313.2L143.4 313.1L142.0 313.0L140.6 312.9L139.2 312.7L137.8 312.6L136.4 312.5L135.0 312.4L133.6 312.3L132.2 312.2L130.8 312.1L129.3 312.0L127.9 311.9L126.5 311.7L125.1 311.5L123.7 311.3L122.3 311.0L120.9 310.7L119.5 310.4L118.1 310.0L116.6 309.5L115.2 309.0L113.8 308.5L112.4 308.0L111.0 307.4L109.6 306.9L108.2 306.3L106.8 305.6L105.4 305.0L104.0 304.3L102.5 303.6L101.1 302.9L99.7 302.1L98.3 301.3L96.9 300.4L95.5 299.5L94.1 298.6L92.7 297.8L91.3 297.0L89.9 296.4L88.4 295.8L87.0 295.2L85.6 294.7L84.2 294.3L82.8 294.0L81.4 293.8L80.0 293.7L78.6 293.7L77.2 293.7L75.7 293.7L74.3 293.8L72.9 294.0L71.5 294.1L70.1 294.3L68.7 294.4L67.3 294.6L65.9 294.8L64.5 294.9L63.1 295.1L61.6 295.3L60.2 295.4L58.8 295.6L57.4 295.8L56.0 295.9" stroke="#a5f500"/>
<path d="M366.3 391.5L364.9 393.7L363.5 396.0L362.1 398.4L360.7 400.7L359.2 403.1L357.8 405.4L356.4 407.6L355.0 409.7L353.6 411.8L352.2 413.8L350.8 415.7L349.4 417.4L348.0 418.9L346.6 420.2L345.1 421.1L343.7 421.7L342.3 422.1L340.9 422.3L339.5 422.6L338.1 422.9L336.7 423.4L335.3 423.8L333.9 424.1L332.4 424.4L331.0 424.6L329.6 424.6L328.2 424.6L326.8 424.5L325.4 424.2L324.0 423.9L322.6 423.4L321.2 422.8L319.8 422.2L318.3 421.6L316.9 420.8L315.5 420.0L314.1 419.0L312.7 418.1L311.3 417.0L309.9 416.0L308.5 414.9L307.1 413.8L305.7 412.7L304.2 411.5L302.8 410.3L301.4 409.2L300.0 408.0L298.6 406.8L297.2 405.6L295.8 404.5L294.4 403.3L293.0 402.1L291.5 401.0L290.1 399.8L288.7 398.7L287.3 397.6L285.9 396.5L284.5 395.4L283.1 394.3L281.7 393.3L280.3 392.3L278.9 391.3L277.4 390.3L276.0 389.4L274.6 388.4L273.2 387.5L271.8 386.6L270.4 385.7L269.0 384.8L267.6 384.0L266.2 383.0L264.7 382.1L263.3 381.1L261.9 380.2L260.5 379.3L259.1 378.4L257.7 377.4L256.3 376.5L254.9 375.6L253.5 374.7L252.1 373.8L250.6 372.8L249.2 371.9L247.8 371.1L246.4 370.2L245.0 369.3L243.6 368.4L242.2 367.6L240.8 366.7L239.4 365.8L237.9 365.0L236.5 364.1L235.1 363.3L233.7 362.4L232.3 361.5L230.9 360.6L229.5 359.7L228.1 358.8L226.7 357.8L225.3 356.9L223.8 355.9L222.4 355.0L221.0 354.0L219.6 353.0L218.2 352.0L216.8 350.9L215.4 349.9L214.0 348.9L212.6 347.8L211.2 346.8L209.7 345.7L208.3 344.7L206.9 343.7L205.5 342.6L204.1 341.6L202.7 340.6L201.3 339.6L199.9 338.6L198.5 337.5L197.0 336.5L195.6 335.6L194.2 334.6L192.8 333.6L191.4 332.6L190.0 331.6L188.6 330.6L187.2 329.6L185.8 328.6L184.4 327.7L182.9 326.8L181.5 325.9L180.1 325.0L178.7 324.2L177.3 323.4L175.9 322.8L174.5 322.1L173.1 321.6L171.7 321.0L170.2 320.4L168.8 319.8L167.4 319.0L166.0 318.3L164.6 317.5L163.2 316.7L161.8 316.0L160.4 315.3L159.0 314.7L157.6 314.1L156.1 313.6L154.7 313.1L153.3 312.6L151.9 312.1L150.5 311.7L149.1 311.3L147.7 310.8L146.3 310.4L144.9 310.0L143.4 309.6L142.0 309.2L140.6 308.8L139.2 308.4L137.8 308.1L136.4 307.7L135.0 307.4L133.6 307.1L132.2 306.8L130.8 306.5L129.3 306.2L127.9 305.9L126.5 305.6L125.1 305.3L123.7 305.0L122.3 304.6L120.9 304.3L119.5 303.9L118.1 303.5L116.6 303.0L115.2 302.5L113.8 302.1L112.4 301.7L111.0 301.3L109.6 300.9L108.2 300.5L106.8 300.1L105.4 299.7L104.0 299.3L102.5 298.8L101.1 298.4L99.7 297.9L98.3 297.3L96.9 296.7L95.5 296.2L94.1 295.6L92.7 295.1L91.3 294.7L89.9 294.4L88.4 294.1L87.0 293.9L85.6 293.7L84.2 293.6L82.8 293.6L81.4 293.8L80.0 294.0L78.6 294.2L77.2 294.5L75.7 294.8L74.3 295.2L72.9 295.5L71.5 295.9L70.1 296.2L68.7 296.6L67.3 296.9L65.9 297.2L64.5 297.5L63.1 297.8L61.6 298.1L60.2 298.3L58.8 298.5L57.4 298.7L56.0 298.8" stroke="#ffeb00"/>
<path d="M366.3 371.7L364.9 375.0L363.5 378.3L362.1 381.6L360.7 384.9L359.2 388.1L357.8 391.2L356.4 394.2L355.0 397.0L353.6 399.8L352.2 402.4L350.8 404.8L349.4 407.1L348.0 409.0L346.6 410.6L345.1 411.8L343.7 412.7L342.3 413.2L340.9 413.6L339.5 413.9L338.1 414.1L336.7 414.3L335.3 414.4L333.9 414.5L332.4 414.6L331.0 414.5L329.6 414.4L328.2 414.2L326.8 413.9L325.4 413.6L324.0 413.1L322.6 412.6L321.2 412.0L319.8 411.3L318.3 410.7L316.9 410.0L315.5 409.2L314.1 408.3L312.7 407.4L311.3 406.4L309.9 405.5L308.5 404.5L307.1 403.4L305.7 402.4L304.2 401.3L302.8 400.2L301.4 399.1L300.0 397.9L298.6 396.8L297.2 395.7L295.8 394.5L294.4 393.4L293.0 392.2L291.5 391.0L290.1 389.9L288.7 388.7L287.3 387.5L285.9 386.4L284.5 385.2L283.1 384.1L281.7 383.0L280.3 382.0L278.9 380.9L277.4 379.8L276.0 378.8L274.6 377.8L273.2 376.8L271.8 375.8L270.4 374.8L269.0 373.8L267.6 372.9L266.2 372.0L264.7 371.2L263.3 370.3L261.9 369.5L260.5 368.7L259.1 367.8L257.7 367.0L256.3 366.2L254.9 365.3L253.5 364.5L252.1 363.7L250.6 362.8L249.2 362.0L247.8 361.2L246.4 360.4L245.0 359.6L243.6 358.8L242.2 358.1L240.8 357.3L239.4 356.5L237.9 355.7L236.5 354.9L235.1 354.1L233.7 353.3L232.3 352.5L230.9 351.7L229.5 350.9L228.1 350.0L226.7 349.2L225.3 348.3L223.8 347.4L222.4 346.5L221.0 345.6L219.6 344.6L218.2 343.7L216.8 342.7L215.4 341.8L214.0 340.8L212.6 339.8L211.2 338.8L209.7 337.8L208.3 336.9L206.9 335.9L205.5 334.9L204.1 333.9L202.7 332.9L201.3 331.9L199.9 330.9L198.5 330.0L197.0 329.0L195.6 328.0L194.2 327.1L192.8 326.1L191.4 325.2L190.0 324.2L188.6 323.3L187.2 322.3L185.8 321.4L184.4 320.5L182.9 319.7L181.5 318.8L180.1 318.0L178.7 317.3L177.3 316.6L175.9 316.0L174.5 315.5L173.1 315.0L171.7 314.6L170.2 314.1L168.8 313.6L167.4 313.0L166.0 312.3L164.6 311.7L163.2 311.1L161.8 310.5L160.4 309.9L159.0 309.4L157.6 309.0L156.1 308.7L154.7 308.3L153.3 308.0L151.9 307.8L150.5 307.5L149.1 307.3L147.7 307.0L146.3 306.8L144.9 306.6L143.4 306.4L142.0 306.2L140.6 306.0L139.2 305.8L137.8 305.6L136.4 305.5L135.0 305.3L133.6 305.2L132.2 305.0L130.8 304.9L129.3 304.8L127.9 304.6L126.5 304.5L125.1 304.3L123.7 304.2L122.3 303.9L120.9 303.7L119.5 303.4L118.1 303.1L116.6 302.7L115.2 302.3L113.8 301.9L112.4 301.5L111.0 301.2L109.6 300.8L108.2 300.4L106.8 300.0L105.4 299.6L104.0 299.2L102.5 298.7L101.1 298.2L99.7 297.7L98.3 297.1L96.9 296.4L95.5 295.7L94.1 295.0L92.7 294.3L91.3 293.7L89.9 293.3L88.4 292.9L87.0 292.5L85.6 292.1L84.2 291.9L82.8 291.8L81.4 291.7L80.0 291.8L78.6 291.9L77.2 292.1L75.7 292.3L74.3 292.5L72.9 292.7L71.5 293.0L70.1 293.2L68.7 293.5L67.3 293.8L65.9 294.0L64.5 294.3L63.1 294.5L61.6 294.7L60.2 295.0L58.8 295.2L57.4 295.3L56.0 295.5" stroke="#ffbe00"/>
<path d="M366.3 375.5L364.9 378.8L363.5 382.3L362.1 385.8L360.7 389.3L359.2 392.8L357.8 396.2L356.4 399.4L355.0 402.4L353.6 405.1L352.2 407.5L350.8 409.4L349.4 411.1L348.0 412.5L346.6 413.7L345.1 414.7L343.7 415.5L342.3 416.3L340.9 416.9L339.5 417.5L338.1 418.1L336.7 418.7L335.3 419.1L333.9 419.5L332.4 419.8L331.0 420.0L329.6 420.1L328.2 420.1L326.8 420.0L325.4 419.8L324.0 419.5L322.6 419.0L321.2 418.3L319.8 417.5L318.3 416.6L316.9 415.5L315.5 414.4L314.1 413.3L312.7 412.2L311.3 411.2L309.9 410.1L308.5 409.1L307.1 408.0L305.7 407.0L304.2 405.9L302.8 404.8L301.4 403.7L300.0 402.6L298.6 401.6L297.2 400.5L295.8 399.4L294.4 398.3L293.0 397.2L291.5 396.1L290.1 395.1L288.7 394.0L287.3 392.9L285.9 391.9L284.5 390.9L283.1 389.8L281.7 388.8L280.3 387.8L278.9 386.8L277.4 385.9L276.0 384.9L274.6 383.9L273.2 383.0L271.8 382.0L270.4 381.1L269.0 380.1L267.6 379.2L266.2 378.2L264.7 377.3L263.3 376.4L261.9 375.5L260.5 374.6L259.1 373.7L257.7 372.8L256.3 371.9L254.9 371.1L253.5 370.2L252.1 369.3L250.6 368.5L249.2 367.7L247.8 366.8L246.4 366.0L245.0 365.2L243.6 364.4L242.2 363.6L240.8 362.8L239.4 362.0L237.9 361.3L236.5 360.5L235.1 359.7L233.7 358.9L232.3 358.1L230.9 357.4L229.5 356.6L228.1 355.8L226.7 355.0L225.3 354.2L223.8 353.4L222.4 352.6L221.0 351.8L219.6 351.0L218.2 350.2L216.8 349.4L215.4 348.6L214.0 347.8L212.6 347.0L211.2 346.2L209.7 345.4L208.3 344.6L206.9 343.8L205.5 343.0L204.1 342.2L202.7 341.4L201.3 340.6L199.9 339.8L198.5 339.0L197.0 338.2L195.6 337.4L194.2 336.7L192.8 335.8L191.4 335.0L190.0 334.2L188.6 333.4L187.2 332.6L185.8 331.8L184.4 330.9L182.9 330.1L181.5 329.3L180.1 328.5L178.7 327.8L177.3 327.0L175.9 326.2L174.5 325.5L173.1 324.8L171.7 324.1L170.2 323.4L168.8 322.7L167.4 322.1L166.0 321.4L164.6 320.8L163.2 320.2L161.8 319.6L160.4 319.0L159.0 318.5L157.6 317.9L156.1 317.4L154.7 316.8L153.3 316.3L151.9 315.8L150.5 315.3L149.1 314.9L147.7 314.4L146.3 314.0L144.9 313.6L143.4 313.2L142.0 312.8L140.6 312.4L139.2 312.1L137.8 311.8L136.4 311.6L135.0 311.5L133.6 311.3L132.2 311.2L130.8 311.1L129.3 311.1L127.9 311.0L126.5 311.0L125.1 310.9L123.7 310.8L122.3 310.7L120.9 310.6L119.5 310.4L118.1 310.2L116.6 309.9L115.2 309.6L113.8 309.1L112.4 308.7L111.0 308.0L109.6 307.2L108.2 306.4L106.8 305.5L105.4 304.5L104.0 303.4L102.5 302.3L101.1 301.1L99.7 299.9L98.3 298.7L96.9 297.4L95.5 296.2L94.1 294.9L92.7 293.7L91.3 292.5L89.9 291.4L88.4 290.3L87.0 289.3L85.6 288.4L84.2 287.5L82.8 286.6L81.4 285.6L80.0 284.5L78.6 283.4L77.2 282.3L75.7 281.4L74.3 280.4L72.9 279.5L71.5 278.5L70.1 277.3L68.7 275.9L67.3 274.3L65.9 272.3L64.5 270.1L63.1 267.5L61.6 264.6L60.2 261.5L58.8 258.2L57.4 254.8L56.0 251.3" stroke="#ff9000"/>
<path d="M366.3 369.3L364.9 372.9L363.5 376.5L362.1 380.0L360.7 383.5L359.2 387.0L357.8 390.3L356.4 393.6L355.0 396.6L353.6 399.6L352.2 402.4L350.8 405.1L349.4 407.5L348.0 409.6L346.6 411.4L345.1 412.8L343.7 413.8L342.3 414.6L340.9 415.1L339.5 415.5L338.1 415.9L336.7 416.1L335.3 416.3L333.9 416.5L332.4 416.7L331.0 416.7L329.6 416.7L328.2 416.6L326.8 416.5L325.4 416.3L324.0 415.9L322.6 415.6L321.2 415.1L319.8 414.6L318.3 414.1L316.9 413.6L315.5 412.9L314.1 412.2L312.7 411.5L311.3 410.7L309.9 409.9L308.5 409.1L307.1 408.2L305.7 407.3L304.2 406.4L302.8 405.4L301.4 404.5L300.0 403.5L298.6 402.5L297.2 401.5L295.8 400.4L294.4 399.4L293.0 398.4L291.5 397.3L290.1 396.2L288.7 395.2L287.3 394.1L285.9 393.0L284.5 392.0L283.1 390.9L281.7 389.9L280.3 388.9L278.9 387.9L277.4 386.9L276.0 385.9L274.6 384.9L273.2 383.9L271.8 382.9L270.4 382.0L269.0 381.0L267.6 380.1L266.2 379.1L264.7 378.2L263.3 377.3L261.9 376.3L260.5 375.4L259.1 374.4L257.7 373.5L256.3 372.5L254.9 371.6L253.5 370.6L252.1 369.7L250.6 368.7L249.2 367.8L247.8 366.9L246.4 365.9L245.0 365.0L243.6 364.1L242.2 363.2L240.8 362.3L239.4 361.4L237.9 360.5L236.5 359.6L235.1 358.6L233.7 357.7L232.3 356.8L230.9 355.8L229.5 354.9L228.1 353.9L226.7 353.0L225.3 352.0L223.8 351.0L222.4 350.0L221.0 349.0L219.6 347.9L218.2 346.9L216.8 345.9L215.4 344.8L214.0 343.8L212.6 342.7L211.2 341.7L209.7 340.5L208.3 339.4L206.9 338.3L205.5 337.2L204.1 336.0L202.7 334.9L201.3 333.8L199.9 332.8L198.5 331.7L197.0 330.6L195.6 329.6L194.2 328.6L192.8 327.6L191.4 326.6L190.0 325.6L188.6 324.7L187.2 323.7L185.8 322.8L184.4 322.0L182.9 321.2L181.5 320.4L180.1 319.7L178.7 319.0L177.3 318.5L175.9 318.0L174.5 317.6L173.1 317.3L171.7 317.0L170.2 316.7L168.8 316.3L167.4 315.9L166.0 315.5L164.6 315.1L163.2 314.7L161.8 314.4L160.4 314.1L159.0 313.9L157.6 313.7L156.1 313.7L154.7 313.6L153.3 313.6L151.9 313.6L150.5 313.7L149.1 313.7L147.7 313.8L146.3 313.9L144.9 313.9L143.4 314.0L142.0 314.1L140.6 314.2L139.2 314.2L137.8 314.3L136.4 314.4L135.0 314.5L133.6 314.5L132.2 314.6L130.8 314.7L129.3 314.7L127.9 314.8L126.5 314.8L125.1 314.7L123.7 314.6L122.3 314.5L120.9 314.3L119.5 314.0L118.1 313.7L116.6 313.3L115.2 312.9L113.8 312.5L112.4 312.0L111.0 311.4L109.6 310.8L108.2 310.2L106.8 309.5L105.4 308.8L104.0 308.0L102.5 307.2L101.1 306.4L99.7 305.4L98.3 304.4L96.9 303.4L95.5 302.3L94.1 301.2L92.7 300.2L91.3 299.2L89.9 298.4L88.4 297.5L87.0 296.7L85.6 296.0L84.2 295.3L82.8 294.7L81.4 294.3L80.0 293.9L78.6 293.6L77.2 293.3L75.7 293.1L74.3 292.9L72.9 292.7L71.5 292.6L70.1 292.4L68.7 292.3L67.3 292.1L65.9 292.0L64.5 291.9L63.1 291.8L61.6 291.7L60.2 291.5L58.8 291.4L57.4 291.3L56.0 291.2" stroke="#ff5000"/>
<path d="M366.3 384.5L364.9 387.2L363.5 389.9L362.1 392.6L360.7 395.3L359.2 397.9L357.8 400.5L356.4 403.1L355.0 405.5L353.6 407.8L352.2 410.0L350.8 412.2L349.4 414.1L348.0 415.7L346.6 417.1L345.1 418.1L343.7 418.9L342.3 419.3L340.9 419.7L339.5 419.9L338.1 420.2L336.7 420.6L335.3 420.9L333.9 421.2L332.4 421.4L331.0 421.5L329.6 421.5L328.2 421.4L326.8 421.2L325.4 421.0L324.0 420.6L322.6 420.2L321.2 419.6L319.8 419.0L318.3 418.4L316.9 417.8L315.5 417.0L314.1 416.1L312.7 415.2L311.3 414.3L309.9 413.3L308.5 412.3L307.1 411.3L305.7 410.3L304.2 409.2L302.8 408.1L301.4 407.0L300.0 406.0L298.6 404.9L297.2 403.8L295.8 402.7L294.4 401.6L293.0 400.5L291.5 399.4L290.1 398.3L288.7 397.2L287.3 396.1L285.9 395.1L284.5 394.1L283.1 393.0L281.7 392.0L280.3 391.1L278.9 390.1L277.4 389.2L276.0 388.3L274.6 387.3L273.2 386.5L271.8 385.6L270.4 384.7L269.0 383.8L267.6 383.0L266.2 382.0L264.7 381.1L263.3 380.2L261.9 379.3L260.5 378.4L259.1 377.5L257.7 376.6L256.3 375.7L254.9 374.8L253.5 373.9L252.1 373.0L250.6 372.1L249.2 371.2L247.8 370.3L246.4 369.4L245.0 368.6L243.6 367.7L242.2 366.8L240.8 365.9L239.4 365.1L237.9 364.2L236.5 363.3L235.1 362.4L233.7 361.5L232.3 360.6L230.9 359.7L229.5 358.7L228.1 357.8L226.7 356.8L225.3 355.9L223.8 354.9L222.4 353.9L221.0 352.8L219.6 351.8L218.2 350.7L216.8 349.7L215.4 348.6L214.0 347.5L212.6 346.5L211.2 345.4L209.7 344.3L208.3 343.2L206.9 342.2L205.5 341.1L204.1 340.0L202.7 338.9L201.3 337.8L199.9 336.7L198.5 335.7L197.0 334.6L195.6 333.5L194.2 332.5L192.8 331.4L191.4 330.4L190.0 329.3L188.6 328.3L187.2 327.3L185.8 326.3L184.4 325.3L182.9 324.4L181.5 323.5L180.1 322.6L178.7 321.8L177.3 321.0L175.9 320.4L174.5 319.8L173.1 319.2L171.7 318.7L170.2 318.2L168.8 317.6L167.4 317.0L166.0 316.3L164.6 315.6L163.2 314.9L161.8 314.3L160.4 313.7L159.0 313.2L157.6 312.7L156.1 312.3L154.7 312.0L153.3 311.6L151.9 311.3L150.5 311.1L149.1 310.8L147.7 310.5L146.3 310.3L144.9 310.0L143.4 309.8L142.0 309.6L140.6 309.3L139.2 309.1L137.8 308.9L136.4 308.7L135.0 308.5L133.6 308.3L132.2 308.1L130.8 307.9L129.3 307.7L127.9 307.5L126.5 307.3L125.1 307.1L123.7 306.8L122.3 306.5L120.9 306.2L119.5 305.8L118.1 305.4L116.6 304.9L115.2 304.4L113.8 303.9L112.4 303.4L111.0 302.9L109.6 302.4L108.2 301.9L106.8 301.3L105.4 300.8L104.0 300.2L102.5 299.6L101.1 298.9L99.7 298.2L98.3 297.5L96.9 296.7L95.5 295.9L94.1 295.1L92.7 294.4L91.3 293.7L89.9 293.2L88.4 292.7L87.0 292.2L85.6 291.8L84.2 291.5L82.8 291.3L81.4 291.2L80.0 291.2L78.6 291.3L77.2 291.4L75.7 291.5L74.3 291.7L72.9 291.9L71.5 292.1L70.1 292.4L68.7 292.6L67.3 292.9L65.9 293.1L64.5 293.3L63.1 293.6L61.6 293.8L60.2 294.0L58.8 294.2L57.4 294.5L56.0 294.6" stroke="#ff2800"/>
<path d="M366.3 398.9L364.9 400.7L363.5 402.6L362.1 404.5L360.7 406.4L359.2 408.3L357.8 410.3L356.4 412.1L355.0 413.9L353.6 415.7L352.2 417.4L350.8 419.0L349.4 420.5L348.0 421.8L346.6 422.8L345.1 423.5L343.7 424.0L342.3 424.2L340.9 424.4L339.5 424.6L338.1 425.0L336.7 425.5L335.3 426.0L333.9 426.4L332.4 426.7L331.0 426.9L329.6 427.0L328.2 427.0L326.8 426.9L325.4 426.7L324.0 426.4L322.6 425.9L321.2 425.3L319.8 424.7L318.3 424.1L316.9 423.3L315.5 422.4L314.1 421.5L312.7 420.5L311.3 419.4L309.9 418.4L308.5 417.3L307.1 416.1L305.7 415.0L304.2 413.8L302.8 412.6L301.4 411.4L300.0 410.3L298.6 409.1L297.2 407.9L295.8 406.8L294.4 405.6L293.0 404.5L291.5 403.3L290.1 402.2L288.7 401.1L287.3 400.0L285.9 399.0L284.5 397.9L283.1 396.9L281.7 395.9L280.3 395.0L278.9 394.0L277.4 393.1L276.0 392.2L274.6 391.3L273.2 390.4L271.8 389.5L270.4 388.6L269.0 387.8L267.6 386.9L266.2 385.9L264.7 385.0L263.3 384.0L261.9 383.1L260.5 382.1L259.1 381.2L257.7 380.2L256.3 379.2L254.9 378.3L253.5 377.3L252.1 376.3L250.6 375.4L249.2 374.4L247.8 373.4L246.4 372.5L245.0 371.5L243.6 370.6L242.2 369.7L240.8 368.7L239.4 367.8L237.9 366.8L236.5 365.9L235.1 364.9L233.7 363.9L232.3 363.0L230.9 362.0L229.5 361.0L228.1 360.0L226.7 359.0L225.3 357.9L223.8 356.9L222.4 355.8L221.0 354.7L219.6 353.6L218.2 352.5L216.8 351.4L215.4 350.3L214.0 349.2L212.6 348.1L211.2 347.0L209.7 345.8L208.3 344.7L206.9 343.5L205.5 342.4L204.1 341.2L202.7 340.1L201.3 338.9L199.9 337.8L198.5 336.7L197.0 335.6L195.6 334.5L194.2 333.4L192.8 332.3L191.4 331.3L190.0 330.2L188.6 329.2L187.2 328.2L185.8 327.2L184.4 326.2L182.9 325.3L181.5 324.4L180.1 323.5L178.7 322.7L177.3 322.0L175.9 321.4L174.5 320.8L173.1 320.4L171.7 319.9L170.2 319.4L168.8 318.9L167.4 318.3L166.0 317.6L164.6 317.0L163.2 316.4L161.8 315.8L160.4 315.3L159.0 314.8L157.6 314.4L156.1 314.0L154.7 313.7L153.3 313.4L151.9 313.1L150.5 312.9L149.1 312.6L147.7 312.4L146.3 312.1L144.9 311.9L143.4 311.6L142.0 311.3L140.6 311.1L139.2 310.8L137.8 310.5L136.4 310.2L135.0 309.9L133.6 309.7L132.2 309.4L130.8 309.1L129.3 308.8L127.9 308.4L126.5 308.1L125.1 307.7L123.7 307.3L122.3 306.8L120.9 306.3L119.5 305.7L118.1 305.1L116.6 304.4L115.2 303.7L113.8 303.0L112.4 302.3L111.0 301.6L109.6 300.9L108.2 300.1L106.8 299.4L105.4 298.6L104.0 297.9L102.5 297.1L101.1 296.3L99.7 295.4L98.3 294.5L96.9 293.6L95.5 292.7L94.1 291.8L92.7 291.0L91.3 290.3L89.9 289.7L88.4 289.1L87.0 288.6L85.6 288.2L84.2 287.8L82.8 287.7L81.4 287.6L80.0 287.6L78.6 287.7L77.2 287.9L75.7 288.1L74.3 288.4L72.9 288.7L71.5 289.0L70.1 289.4L68.7 289.8L67.3 290.2L65.9 290.6L64.5 291.0L63.1 291.4L61.6 291.8L60.2 292.2L58.8 292.7L57.4 293.1L56.0 293.5" stroke="#ff0a00"/>
<path d="M366.3 378.2L364.9 381.0L363.5 383.9L362.1 386.7L360.7 389.6L359.2 392.4L357.8 395.1L356.4 397.7L355.0 400.2L353.6 402.6L352.2 404.9L350.8 407.1L349.4 409.1L348.0 410.8L346.6 412.2L345.1 413.2L343.7 413.9L342.3 414.4L340.9 414.7L339.5 414.9L338.1 415.1L336.7 415.3L335.3 415.5L333.9 415.6L332.4 415.7L331.0 415.7L329.6 415.6L328.2 415.4L326.8 415.2L325.4 414.8L324.0 414.4L322.6 413.8L321.2 413.2L319.8 412.5L318.3 411.8L316.9 411.0L315.5 410.2L314.1 409.2L312.7 408.3L311.3 407.2L309.9 406.2L308.5 405.2L307.1 404.1L305.7 402.9L304.2 401.8L302.8 400.6L301.4 399.5L300.0 398.3L298.6 397.1L297.2 395.9L295.8 394.7L294.4 393.6L293.0 392.4L291.5 391.2L290.1 390.0L288.7 388.8L287.3 387.7L285.9 386.5L284.5 385.4L283.1 384.3L281.7 383.2L280.3 382.1L278.9 381.1L277.4 380.0L276.0 379.0L274.6 378.0L273.2 377.0L271.8 376.1L270.4 375.1L269.0 374.1L267.6 373.2L266.2 372.4L264.7 371.5L263.3 370.7L261.9 369.8L260.5 369.0L259.1 368.2L257.7 367.3L256.3 366.5L254.9 365.7L253.5 364.9L252.1 364.0L250.6 363.2L249.2 362.4L247.8 361.6L246.4 360.9L245.0 360.1L243.6 359.3L242.2 358.6L240.8 357.8L239.4 357.0L237.9 356.3L236.5 355.5L235.1 354.7L233.7 354.0L232.3 353.2L230.9 352.4L229.5 351.6L228.1 350.8L226.7 350.0L225.3 349.1L223.8 348.3L222.4 347.4L221.0 346.5L219.6 345.6L218.2 344.7L216.8 343.8L215.4 342.9L214.0 342.0L212.6 341.1L211.2 340.1L209.7 339.2L208.3 338.3L206.9 337.4L205.5 336.5L204.1 335.6L202.7 334.8L201.3 333.9L199.9 333.0L198.5 332.2L197.0 331.4L195.6 330.6L194.2 329.8L192.8 329.0L191.4 328.2L190.0 327.5L188.6 326.7L187.2 326.0L185.8 325.3L184.4 324.6L182.9 324.0L181.5 323.4L180.1 322.8L178.7 322.3L177.3 321.9L175.9 321.5L174.5 321.2L173.1 321.0L171.7 320.7L170.2 320.5L168.8 320.2L167.4 319.8L166.0 319.5L164.6 319.0L163.2 318.6L161.8 318.3L160.4 317.9L159.0 317.7L157.6 317.4L156.1 317.2L154.7 317.1L153.3 317.0L151.9 316.9L150.5 316.7L149.1 316.6L147.7 316.5L146.3 316.4L144.9 316.3L143.4 316.2L142.0 316.0L140.6 315.8L139.2 315.7L137.8 315.5L136.4 315.3L135.0 315.1L133.6 314.9L132.2 314.7L130.8 314.5L129.3 314.2L127.9 314.0L126.5 313.7L125.1 313.3L123.7 313.0L122.3 312.5L120.9 312.0L119.5 311.5L118.1 310.9L116.6 310.2L115.2 309.5L113.8 308.8L112.4 308.1L111.0 307.3L109.6 306.5L108.2 305.6L106.8 304.8L105.4 303.9L104.0 303.0L102.5 302.1L101.1 301.1L99.7 300.1L98.3 299.0L96.9 297.9L95.5 296.7L94.1 295.6L92.7 294.5L91.3 293.5L89.9 292.6L88.4 291.8L87.0 290.9L85.6 290.2L84.2 289.6L82.8 289.0L81.4 288.7L80.0 288.3L78.6 288.1L77.2 287.9L75.7 287.8L74.3 287.7L72.9 287.7L71.5 287.6L70.1 287.6L68.7 287.6L67.3 287.7L65.9 287.7L64.5 287.7L63.1 287.8L61.6 287.9L60.2 287.9L58.8 288.0L57.4 288.0L56.0 288.1" stroke="#ff0000"/>
</g>
<path d="M366.30 442.09h-4.3M366.30 415.46h-4.3M366.30 388.83h-4.3M366.30 362.20h-4.3M366.30 335.57h-4.3M366.30 308.94h-4.3M366.30 282.31h-4.3" stroke="#000" stroke-width="1.6"/>
<rect x="338.09" y="269.0" width="28.21" height="186.4" fill="#c4c4c4" fill-opacity="0.75"/>
<line x1="338.09" y1="269.0" x2="338.09" y2="455.4" stroke="#2a2a2a" stroke-width="1.25"/>
<path d="M56.00 442.09L60.30 442.09M56.00 428.77L64.50 428.77M56.00 415.46L60.30 415.46M56.00 402.14L64.50 402.14M56.00 388.83L60.30 388.83M56.00 375.51L64.50 375.51M56.00 362.20L60.30 362.20M56.00 348.89L64.50 348.89M56.00 335.57L60.30 335.57M56.00 322.26L64.50 322.26M56.00 308.94L60.30 308.94M56.00 295.63L64.50 295.63M56.00 282.31L60.30 282.31M84.21 455.40L84.21 451.10M84.21 269.00L84.21 273.30M112.42 455.40L112.42 446.90M140.63 455.40L140.63 451.10M140.63 269.00L140.63 273.30M168.84 455.40L168.84 446.90M197.05 455.40L197.05 451.10M197.05 269.00L197.05 273.30M225.25 455.40L225.25 446.90M253.46 455.40L253.46 451.10M253.46 269.00L253.46 273.30M281.67 455.40L281.67 446.90M309.88 455.40L309.88 451.10M309.88 269.00L309.88 273.30M338.09 455.40L338.09 446.90" stroke="#000" stroke-width="1.9" fill="none"/>
<rect x="56.0" y="269.0" width="310.30" height="186.4" fill="none" stroke="#000" stroke-width="1.8"/>
</g>
<text x="45.30" y="273.40" font-size="15.3" text-anchor="end" font-weight="bold" >1.1</text>
<text x="45.30" y="300.03" font-size="15.3" text-anchor="end" font-weight="bold" >1.0</text>
<text x="45.30" y="326.66" font-size="15.3" text-anchor="end" font-weight="bold" >0.9</text>
<text x="45.30" y="353.29" font-size="15.3" text-anchor="end" font-weight="bold" >0.8</text>
<text x="45.30" y="379.91" font-size="15.3" text-anchor="end" font-weight="bold" >0.7</text>
<text x="45.30" y="406.54" font-size="15.3" text-anchor="end" font-weight="bold" >0.6</text>
<text x="45.30" y="433.17" font-size="15.3" text-anchor="end" font-weight="bold" >0.5</text>
<text x="45.30" y="459.80" font-size="15.3" text-anchor="end" font-weight="bold" >0.4</text>
<text x="56.00" y="477.40" font-size="15.3" text-anchor="middle" font-weight="bold" >1000</text>
<text x="112.42" y="477.40" font-size="15.3" text-anchor="middle" font-weight="bold" >800</text>
<text x="168.84" y="477.40" font-size="15.3" text-anchor="middle" font-weight="bold" >600</text>
<text x="225.25" y="477.40" font-size="15.3" text-anchor="middle" font-weight="bold" >400</text>
<text x="281.67" y="477.40" font-size="15.3" text-anchor="middle" font-weight="bold" >200</text>
<text x="338.09" y="477.40" font-size="15.3" text-anchor="middle" font-weight="bold" >0</text>
<text x="55.30" y="260.60" font-size="17.6" text-anchor="start" font-weight="normal" >a2)</text>
<text transform="translate(12.9,362.5) rotate(-90)" font-size="17.4" font-weight="bold" text-anchor="middle">Water saturation (-)</text>
<text x="85.6" y="396.7" font-size="17.5">i=50 mA/cm<tspan dy="-6.6" font-size="11.7">2</tspan></text>
<g>
<line x1="56.0" y1="544.23" x2="366.3" y2="544.23" stroke="#959595" stroke-width="1.25" stroke-dasharray="3.4 2.9"/>
<line x1="56.0" y1="570.86" x2="366.3" y2="570.86" stroke="#959595" stroke-width="1.25" stroke-dasharray="3.4 2.9"/>
<line x1="56.0" y1="597.49" x2="366.3" y2="597.49" stroke="#959595" stroke-width="1.25" stroke-dasharray="3.4 2.9"/>
<line x1="56.0" y1="624.11" x2="366.3" y2="624.11" stroke="#959595" stroke-width="1.25" stroke-dasharray="3.4 2.9"/>
<line x1="56.0" y1="650.74" x2="366.3" y2="650.74" stroke="#959595" stroke-width="1.25" stroke-dasharray="3.4 2.9"/>
<line x1="56.0" y1="677.37" x2="366.3" y2="677.37" stroke="#959595" stroke-width="1.25" stroke-dasharray="3.4 2.9"/>
<line x1="112.42" y1="517.6" x2="112.42" y2="704.0" stroke="#959595" stroke-width="1.25" stroke-dasharray="3.4 2.9"/>
<line x1="168.84" y1="517.6" x2="168.84" y2="704.0" stroke="#959595" stroke-width="1.25" stroke-dasharray="3.4 2.9"/>
<line x1="225.25" y1="517.6" x2="225.25" y2="704.0" stroke="#959595" stroke-width="1.25" stroke-dasharray="3.4 2.9"/>
<line x1="281.67" y1="517.6" x2="281.67" y2="704.0" stroke="#959595" stroke-width="1.25" stroke-dasharray="3.4 2.9"/>
<line x1="84.21" y1="517.6" x2="84.21" y2="704.0" stroke="#b4b4b4" stroke-width="1.25" stroke-dasharray="1.2 2.3"/>
<line x1="140.63" y1="517.6" x2="140.63" y2="704.0" stroke="#b4b4b4" stroke-width="1.25" stroke-dasharray="1.2 2.3"/>
<line x1="197.05" y1="517.6" x2="197.05" y2="704.0" stroke="#b4b4b4" stroke-width="1.25" stroke-dasharray="1.2 2.3"/>
<line x1="253.46" y1="517.6" x2="253.46" y2="704.0" stroke="#b4b4b4" stroke-width="1.25" stroke-dasharray="1.2 2.3"/>
<line x1="309.88" y1="517.6" x2="309.88" y2="704.0" stroke="#b4b4b4" stroke-width="1.25" stroke-dasharray="1.2 2.3"/>
<g clip-path="url(#clipA2)" fill="none" stroke-width="1.9" stroke-linejoin="round">
<path d="M366.3 558.9L364.9 559.4L363.5 560.0L362.1 560.6L360.7 561.2L359.2 561.7L357.8 562.3L356.4 562.8L355.0 563.3L353.6 563.8L352.2 564.2L350.8 564.6L349.4 564.9L348.0 565.3L346.6 565.6L345.1 565.9L343.7 566.1L342.3 566.3L340.9 566.4L339.5 566.4L338.1 566.3L336.7 566.1L335.3 565.8L333.9 565.4L332.4 564.9L331.0 564.4L329.6 563.8L328.2 563.2L326.8 562.6L325.4 562.1L324.0 561.5L322.6 561.0L321.2 560.4L319.8 559.9L318.3 559.3L316.9 558.7L315.5 558.1L314.1 557.5L312.7 557.0L311.3 556.6L309.9 556.2L308.5 555.9L307.1 555.7L305.7 555.5L304.2 555.4L302.8 555.3L301.4 555.2L300.0 555.2L298.6 555.1L297.2 555.0L295.8 554.9L294.4 554.7L293.0 554.6L291.5 554.4L290.1 554.3L288.7 554.1L287.3 553.9L285.9 553.8L284.5 553.7L283.1 553.6L281.7 553.5L280.3 553.5L278.9 553.6L277.4 553.6L276.0 553.7L274.6 553.8L273.2 554.0L271.8 554.0L270.4 554.1L269.0 554.1L267.6 554.1L266.2 554.0L264.7 553.9L263.3 553.8L261.9 553.6L260.5 553.4L259.1 553.2L257.7 553.0L256.3 552.7L254.9 552.5L253.5 552.2L252.1 551.9L250.6 551.6L249.2 551.2L247.8 550.8L246.4 550.4L245.0 550.0L243.6 549.6L242.2 549.2L240.8 548.9L239.4 548.6L237.9 548.4L236.5 548.2L235.1 548.1L233.7 548.1L232.3 548.2L230.9 548.3L229.5 548.4L228.1 548.6L226.7 548.7L225.3 548.9L223.8 549.1L222.4 549.3L221.0 549.4L219.6 549.6L218.2 549.7L216.8 549.9L215.4 550.1L214.0 550.3L212.6 550.5L211.2 550.7L209.7 550.9L208.3 551.0L206.9 551.1L205.5 551.1L204.1 551.0L202.7 550.9L201.3 550.6L199.9 550.3L198.5 549.9L197.0 549.4L195.6 548.9L194.2 548.3L192.8 547.8L191.4 547.2L190.0 546.7L188.6 546.1L187.2 545.6L185.8 545.1L184.4 544.6L182.9 544.2L181.5 543.9L180.1 543.6L178.7 543.4L177.3 543.2L175.9 543.1L174.5 543.0L173.1 543.0L171.7 543.0L170.2 542.9L168.8 542.9L167.4 542.9L166.0 542.9L164.6 542.8L163.2 542.9L161.8 542.9L160.4 542.9L159.0 542.9L157.6 542.9L156.1 542.9L154.7 542.9L153.3 543.0L151.9 543.0L150.5 543.0L149.1 543.0L147.7 543.1L146.3 543.1L144.9 543.1L143.4 543.1L142.0 543.1L140.6 543.2L139.2 543.2L137.8 543.2L136.4 543.2L135.0 543.2L133.6 543.2L132.2 543.2L130.8 543.2L129.3 543.2L127.9 543.2L126.5 543.2L125.1 543.2L123.7 543.2L122.3 543.3L120.9 543.3L119.5 543.3L118.1 543.3L116.6 543.3L115.2 543.3L113.8 543.4L112.4 543.4L111.0 543.5L109.6 543.5L108.2 543.6L106.8 543.7L105.4 543.8L104.0 544.0L102.5 544.1L101.1 544.3L99.7 544.5L98.3 544.8L96.9 545.0L95.5 545.3L94.1 545.6L92.7 545.9L91.3 546.2L89.9 546.6L88.4 547.0L87.0 547.4L85.6 547.8L84.2 548.2L82.8 548.7L81.4 549.2L80.0 549.7L78.6 550.2L77.2 550.8L75.7 551.4L74.3 551.9L72.9 552.5L71.5 553.0L70.1 553.5L68.7 554.0L67.3 554.5L65.9 555.0L64.5 555.5L63.1 556.0L61.6 556.4L60.2 556.9L58.8 557.4L57.4 557.9L56.0 558.3" stroke="#5500ff"/>
<path d="M366.3 647.5L364.9 649.2L363.5 650.8L362.1 652.6L360.7 654.3L359.2 656.0L357.8 657.7L356.4 659.3L355.0 660.9L353.6 662.4L352.2 663.8L350.8 665.1L349.4 666.3L348.0 667.3L346.6 668.2L345.1 669.0L343.7 669.7L342.3 670.2L340.9 670.7L339.5 671.1L338.1 671.5L336.7 671.8L335.3 672.0L333.9 672.1L332.4 672.2L331.0 672.1L329.6 672.0L328.2 671.9L326.8 671.7L325.4 671.5L324.0 671.3L322.6 671.1L321.2 670.8L319.8 670.5L318.3 670.2L316.9 669.7L315.5 669.2L314.1 668.5L312.7 667.8L311.3 667.0L309.9 666.1L308.5 665.2L307.1 664.2L305.7 663.2L304.2 662.2L302.8 661.1L301.4 660.0L300.0 658.9L298.6 657.7L297.2 656.5L295.8 655.3L294.4 654.0L293.0 652.5L291.5 651.0L290.1 649.5L288.7 647.8L287.3 646.2L285.9 644.6L284.5 643.0L283.1 641.5L281.7 640.1L280.3 638.7L278.9 637.4L277.4 636.1L276.0 634.8L274.6 633.5L273.2 632.2L271.8 630.9L270.4 629.7L269.0 628.5L267.6 627.3L266.2 626.1L264.7 624.9L263.3 623.8L261.9 622.7L260.5 621.6L259.1 620.5L257.7 619.5L256.3 618.5L254.9 617.4L253.5 616.4L252.1 615.4L250.6 614.3L249.2 613.2L247.8 612.1L246.4 611.0L245.0 609.8L243.6 608.5L242.2 607.3L240.8 606.0L239.4 604.7L237.9 603.5L236.5 602.3L235.1 601.2L233.7 600.1L232.3 599.4L230.9 598.8L229.5 598.6L228.1 598.4L226.7 598.1L225.3 597.5L223.8 596.7L222.4 595.8L221.0 594.8L219.6 593.8L218.2 592.9L216.8 591.9L215.4 590.9L214.0 590.0L212.6 589.2L211.2 588.3L209.7 587.4L208.3 586.6L206.9 585.7L205.5 584.9L204.1 584.0L202.7 583.2L201.3 582.4L199.9 581.5L198.5 580.7L197.0 579.9L195.6 579.1L194.2 578.3L192.8 577.5L191.4 576.7L190.0 575.9L188.6 575.1L187.2 574.4L185.8 573.7L184.4 573.0L182.9 572.5L181.5 571.9L180.1 571.5L178.7 571.2L177.3 570.9L175.9 570.7L174.5 570.4L173.1 570.0L171.7 569.6L170.2 569.2L168.8 568.7L167.4 568.2L166.0 567.7L164.6 567.1L163.2 566.6L161.8 566.0L160.4 565.4L159.0 564.8L157.6 564.3L156.1 563.7L154.7 563.1L153.3 562.5L151.9 561.9L150.5 561.4L149.1 560.8L147.7 560.2L146.3 559.7L144.9 559.1L143.4 558.6L142.0 558.0L140.6 557.5L139.2 557.1L137.8 556.6L136.4 556.2L135.0 555.8L133.6 555.4L132.2 555.1L130.8 554.9L129.3 554.7L127.9 554.5L126.5 554.3L125.1 554.2L123.7 554.1L122.3 554.1L120.9 554.1L119.5 554.1L118.1 554.2L116.6 554.2L115.2 554.3L113.8 554.3L112.4 554.3L111.0 554.4L109.6 554.4L108.2 554.4L106.8 554.4L105.4 554.4L104.0 554.4L102.5 554.4L101.1 554.4L99.7 554.4L98.3 554.5L96.9 554.5L95.5 554.5L94.1 554.5L92.7 554.6L91.3 554.6L89.9 554.6L88.4 554.7L87.0 554.7L85.6 554.8L84.2 554.9L82.8 555.0L81.4 555.1L80.0 555.2L78.6 555.3L77.2 555.4L75.7 555.5L74.3 555.7L72.9 555.8L71.5 555.9L70.1 556.1L68.7 556.2L67.3 556.4L65.9 556.5L64.5 556.7L63.1 556.8L61.6 557.0L60.2 557.1L58.8 557.3L57.4 557.4L56.0 557.5" stroke="#4000ff"/>
<path d="M366.3 659.4L364.9 662.5L363.5 665.7L362.1 669.0L360.7 672.1L359.2 675.3L357.8 678.3L356.4 681.2L355.0 683.9L353.6 686.4L352.2 688.6L350.8 690.6L349.4 692.3L348.0 693.8L346.6 695.1L345.1 696.3L343.7 697.3L342.3 698.1L340.9 698.7L339.5 699.3L338.1 699.6L336.7 699.6L335.3 699.6L333.9 699.4L332.4 699.1L331.0 698.8L329.6 698.4L328.2 697.9L326.8 697.4L325.4 696.8L324.0 696.1L322.6 695.3L321.2 694.4L319.8 693.6L318.3 692.6L316.9 691.7L315.5 690.8L314.1 690.0L312.7 689.0L311.3 687.9L309.9 686.7L308.5 685.4L307.1 684.1L305.7 682.8L304.2 681.5L302.8 680.1L301.4 678.8L300.0 677.4L298.6 676.1L297.2 674.7L295.8 673.4L294.4 672.1L293.0 670.8L291.5 669.5L290.1 668.2L288.7 666.9L287.3 665.6L285.9 664.3L284.5 663.0L283.1 661.7L281.7 660.4L280.3 659.2L278.9 657.9L277.4 656.6L276.0 655.4L274.6 654.1L273.2 652.8L271.8 651.5L270.4 650.2L269.0 648.9L267.6 647.6L266.2 646.3L264.7 645.0L263.3 643.8L261.9 642.5L260.5 641.3L259.1 640.1L257.7 638.9L256.3 637.8L254.9 636.6L253.5 635.5L252.1 634.5L250.6 633.4L249.2 632.4L247.8 631.4L246.4 630.4L245.0 629.4L243.6 628.5L242.2 627.5L240.8 626.5L239.4 625.6L237.9 624.7L236.5 623.7L235.1 622.8L233.7 621.9L232.3 620.9L230.9 620.0L229.5 619.1L228.1 618.2L226.7 617.2L225.3 616.3L223.8 615.3L222.4 614.4L221.0 613.5L219.6 612.5L218.2 611.6L216.8 610.7L215.4 609.8L214.0 608.9L212.6 608.0L211.2 607.2L209.7 606.3L208.3 605.5L206.9 604.7L205.5 603.9L204.1 603.1L202.7 602.3L201.3 601.5L199.9 600.7L198.5 600.0L197.0 599.2L195.6 598.5L194.2 597.7L192.8 596.9L191.4 596.2L190.0 595.4L188.6 594.7L187.2 593.9L185.8 593.2L184.4 592.4L182.9 591.7L181.5 590.9L180.1 590.1L178.7 589.4L177.3 588.6L175.9 587.9L174.5 587.1L173.1 586.3L171.7 585.6L170.2 584.8L168.8 584.0L167.4 583.2L166.0 582.5L164.6 581.7L163.2 580.9L161.8 580.1L160.4 579.3L159.0 578.5L157.6 577.7L156.1 576.9L154.7 576.1L153.3 575.3L151.9 574.5L150.5 573.7L149.1 572.9L147.7 572.1L146.3 571.3L144.9 570.6L143.4 569.8L142.0 569.1L140.6 568.4L139.2 567.8L137.8 567.2L136.4 566.7L135.0 566.2L133.6 565.9L132.2 565.6L130.8 565.3L129.3 565.1L127.9 564.8L126.5 564.5L125.1 564.1L123.7 563.7L122.3 563.4L120.9 563.1L119.5 562.8L118.1 562.5L116.6 562.2L115.2 561.9L113.8 561.7L112.4 561.4L111.0 561.2L109.6 561.0L108.2 560.8L106.8 560.7L105.4 560.5L104.0 560.4L102.5 560.3L101.1 560.3L99.7 560.2L98.3 560.2L96.9 560.1L95.5 560.1L94.1 560.2L92.7 560.2L91.3 560.2L89.9 560.3L88.4 560.4L87.0 560.5L85.6 560.6L84.2 560.7L82.8 560.7L81.4 560.8L80.0 560.9L78.6 561.0L77.2 561.1L75.7 561.2L74.3 561.2L72.9 561.3L71.5 561.5L70.1 561.6L68.7 561.8L67.3 561.9L65.9 562.1L64.5 562.3L63.1 562.5L61.6 562.7L60.2 562.8L58.8 562.9L57.4 563.0L56.0 563.1" stroke="#2828ff"/>
<path d="M366.3 683.3L364.9 684.7L363.5 686.3L362.1 687.9L360.7 689.6L359.2 691.2L357.8 692.8L356.4 694.3L355.0 695.6L353.6 696.8L352.2 697.8L350.8 698.6L349.4 699.2L348.0 699.6L346.6 700.0L345.1 700.2L343.7 700.4L342.3 700.5L340.9 700.5L339.5 700.6L338.1 700.6L336.7 700.7L335.3 700.6L333.9 700.4L332.4 700.1L331.0 699.8L329.6 699.4L328.2 698.9L326.8 698.3L325.4 697.8L324.0 697.1L322.6 696.3L321.2 695.4L319.8 694.6L318.3 693.7L316.9 692.8L315.5 691.9L314.1 691.0L312.7 690.0L311.3 688.9L309.9 687.8L308.5 686.5L307.1 685.2L305.7 683.9L304.2 682.6L302.8 681.3L301.4 679.9L300.0 678.6L298.6 677.3L297.2 676.0L295.8 674.6L294.4 673.3L293.0 672.0L291.5 670.7L290.1 669.4L288.7 668.1L287.3 666.9L285.9 665.6L284.5 664.3L283.1 663.0L281.7 661.7L280.3 660.5L278.9 659.2L277.4 657.9L276.0 656.6L274.6 655.3L273.2 654.0L271.8 652.7L270.4 651.4L269.0 650.1L267.6 648.8L266.2 647.5L264.7 646.2L263.3 644.9L261.9 643.6L260.5 642.4L259.1 641.2L257.7 640.0L256.3 638.8L254.9 637.7L253.5 636.5L252.1 635.4L250.6 634.4L249.2 633.3L247.8 632.3L246.4 631.3L245.0 630.2L243.6 629.2L242.2 628.3L240.8 627.3L239.4 626.3L237.9 625.3L236.5 624.4L235.1 623.4L233.7 622.5L232.3 621.5L230.9 620.6L229.5 619.6L228.1 618.7L226.7 617.7L225.3 616.7L223.8 615.8L222.4 614.8L221.0 613.8L219.6 612.9L218.2 611.9L216.8 611.0L215.4 610.1L214.0 609.2L212.6 608.3L211.2 607.5L209.7 606.6L208.3 605.8L206.9 604.9L205.5 604.1L204.1 603.3L202.7 602.5L201.3 601.8L199.9 601.0L198.5 600.3L197.0 599.5L195.6 598.8L194.2 598.0L192.8 597.3L191.4 596.5L190.0 595.8L188.6 595.1L187.2 594.3L185.8 593.6L184.4 592.9L182.9 592.1L181.5 591.4L180.1 590.7L178.7 590.0L177.3 589.2L175.9 588.5L174.5 587.8L173.1 587.1L171.7 586.3L170.2 585.6L168.8 584.9L167.4 584.1L166.0 583.4L164.6 582.6L163.2 581.9L161.8 581.1L160.4 580.4L159.0 579.6L157.6 578.9L156.1 578.1L154.7 577.4L153.3 576.6L151.9 575.9L150.5 575.2L149.1 574.4L147.7 573.7L146.3 573.0L144.9 572.4L143.4 571.7L142.0 571.1L140.6 570.5L139.2 570.0L137.8 569.5L136.4 569.0L135.0 568.7L133.6 568.4L132.2 568.2L130.8 568.1L129.3 567.9L127.9 567.7L126.5 567.5L125.1 567.2L123.7 567.0L122.3 566.7L120.9 566.5L119.5 566.2L118.1 566.0L116.6 565.8L115.2 565.6L113.8 565.3L112.4 565.2L111.0 565.0L109.6 564.8L108.2 564.7L106.8 564.5L105.4 564.4L104.0 564.3L102.5 564.2L101.1 564.1L99.7 564.0L98.3 563.9L96.9 563.8L95.5 563.8L94.1 563.7L92.7 563.7L91.3 563.6L89.9 563.6L88.4 563.6L87.0 563.5L85.6 563.5L84.2 563.5L82.8 563.4L81.4 563.3L80.0 563.3L78.6 563.2L77.2 563.1L75.7 563.0L74.3 562.9L72.9 562.9L71.5 562.8L70.1 562.7L68.7 562.7L67.3 562.7L65.9 562.7L64.5 562.7L63.1 562.7L61.6 562.6L60.2 562.6L58.8 562.5L57.4 562.5L56.0 562.3" stroke="#1a55ff"/>
<path d="M366.3 665.5L364.9 668.3L363.5 671.2L362.1 674.1L360.7 677.0L359.2 679.9L357.8 682.7L356.4 685.3L355.0 687.7L353.6 690.0L352.2 692.0L350.8 693.7L349.4 695.2L348.0 696.5L346.6 697.6L345.1 698.6L343.7 699.4L342.3 700.1L340.9 700.7L339.5 701.1L338.1 701.4L336.7 701.4L335.3 701.3L333.9 701.2L332.4 700.9L331.0 700.5L329.6 700.1L328.2 699.6L326.8 699.1L325.4 698.6L324.0 697.9L322.6 697.1L321.2 696.3L319.8 695.4L318.3 694.5L316.9 693.6L315.5 692.8L314.1 691.9L312.7 691.0L311.3 689.9L309.9 688.7L308.5 687.5L307.1 686.2L305.7 684.9L304.2 683.6L302.8 682.3L301.4 681.0L300.0 679.6L298.6 678.3L297.2 677.0L295.8 675.7L294.4 674.4L293.0 673.1L291.5 671.8L290.1 670.5L288.7 669.2L287.3 667.9L285.9 666.6L284.5 665.3L283.1 664.0L281.7 662.7L280.3 661.5L278.9 660.2L277.4 658.9L276.0 657.6L274.6 656.3L273.2 655.0L271.8 653.6L270.4 652.3L269.0 651.0L267.6 649.6L266.2 648.3L264.7 647.0L263.3 645.7L261.9 644.4L260.5 643.2L259.1 641.9L257.7 640.7L256.3 639.5L254.9 638.3L253.5 637.2L252.1 636.1L250.6 635.0L249.2 633.9L247.8 632.9L246.4 631.8L245.0 630.8L243.6 629.8L242.2 628.8L240.8 627.8L239.4 626.8L237.9 625.8L236.5 624.8L235.1 623.9L233.7 622.9L232.3 621.9L230.9 621.0L229.5 620.0L228.1 619.0L226.7 618.1L225.3 617.1L223.8 616.1L222.4 615.2L221.0 614.2L219.6 613.2L218.2 612.3L216.8 611.3L215.4 610.4L214.0 609.5L212.6 608.7L211.2 607.8L209.7 606.9L208.3 606.1L206.9 605.3L205.5 604.5L204.1 603.7L202.7 602.9L201.3 602.1L199.9 601.4L198.5 600.6L197.0 599.9L195.6 599.2L194.2 598.4L192.8 597.7L191.4 597.0L190.0 596.3L188.6 595.5L187.2 594.8L185.8 594.1L184.4 593.4L182.9 592.7L181.5 592.0L180.1 591.3L178.7 590.6L177.3 589.9L175.9 589.1L174.5 588.4L173.1 587.7L171.7 587.0L170.2 586.3L168.8 585.6L167.4 584.9L166.0 584.2L164.6 583.5L163.2 582.7L161.8 582.0L160.4 581.3L159.0 580.5L157.6 579.8L156.1 579.1L154.7 578.3L153.3 577.6L151.9 576.9L150.5 576.2L149.1 575.5L147.7 574.8L146.3 574.2L144.9 573.5L143.4 572.9L142.0 572.3L140.6 571.8L139.2 571.3L137.8 570.9L136.4 570.5L135.0 570.2L133.6 570.0L132.2 569.8L130.8 569.7L129.3 569.6L127.9 569.5L126.5 569.4L125.1 569.2L123.7 569.0L122.3 568.8L120.9 568.6L119.5 568.4L118.1 568.3L116.6 568.1L115.2 568.0L113.8 567.8L112.4 567.7L111.0 567.6L109.6 567.5L108.2 567.4L106.8 567.4L105.4 567.3L104.0 567.2L102.5 567.2L101.1 567.2L99.7 567.1L98.3 567.1L96.9 567.1L95.5 567.1L94.1 567.1L92.7 567.1L91.3 567.1L89.9 567.2L88.4 567.2L87.0 567.2L85.6 567.2L84.2 567.2L82.8 567.2L81.4 567.2L80.0 567.2L78.6 567.2L77.2 567.1L75.7 567.1L74.3 567.0L72.9 567.0L71.5 567.0L70.1 567.0L68.7 566.9L67.3 566.9L65.9 566.9L64.5 566.9L63.1 566.8L61.6 566.8L60.2 566.7L58.8 566.7L57.4 566.6L56.0 566.4" stroke="#0080ff"/>
<path d="M366.3 683.0L364.9 684.2L363.5 685.5L362.1 686.9L360.7 688.4L359.2 689.8L357.8 691.2L356.4 692.5L355.0 693.6L353.6 694.7L352.2 695.5L350.8 696.1L349.4 696.6L348.0 696.9L346.6 697.2L345.1 697.3L343.7 697.4L342.3 697.4L340.9 697.5L339.5 697.5L338.1 697.6L336.7 697.7L335.3 697.7L333.9 697.5L332.4 697.3L331.0 697.0L329.6 696.7L328.2 696.2L326.8 695.8L325.4 695.3L324.0 694.6L322.6 693.9L321.2 693.1L319.8 692.3L318.3 691.5L316.9 690.6L315.5 689.8L314.1 689.0L312.7 688.0L311.3 687.0L309.9 685.8L308.5 684.6L307.1 683.4L305.7 682.1L304.2 680.8L302.8 679.4L301.4 678.1L300.0 676.8L298.6 675.4L297.2 674.1L295.8 672.8L294.4 671.4L293.0 670.1L291.5 668.8L290.1 667.4L288.7 666.1L287.3 664.8L285.9 663.5L284.5 662.1L283.1 660.8L281.7 659.5L280.3 658.1L278.9 656.8L277.4 655.4L276.0 654.1L274.6 652.7L273.2 651.4L271.8 650.0L270.4 648.6L269.0 647.2L267.6 645.8L266.2 644.5L264.7 643.1L263.3 641.8L261.9 640.4L260.5 639.1L259.1 637.9L257.7 636.6L256.3 635.4L254.9 634.2L253.5 633.0L252.1 631.8L250.6 630.7L249.2 629.6L247.8 628.6L246.4 627.5L245.0 626.5L243.6 625.5L242.2 624.5L240.8 623.5L239.4 622.5L237.9 621.5L236.5 620.5L235.1 619.6L233.7 618.6L232.3 617.7L230.9 616.8L229.5 615.8L228.1 614.9L226.7 614.0L225.3 613.0L223.8 612.1L222.4 611.2L221.0 610.3L219.6 609.4L218.2 608.5L216.8 607.6L215.4 606.7L214.0 605.9L212.6 605.1L211.2 604.3L209.7 603.5L208.3 602.7L206.9 602.0L205.5 601.2L204.1 600.5L202.7 599.8L201.3 599.1L199.9 598.4L198.5 597.7L197.0 597.0L195.6 596.4L194.2 595.7L192.8 595.0L191.4 594.3L190.0 593.7L188.6 593.0L187.2 592.3L185.8 591.6L184.4 591.0L182.9 590.3L181.5 589.6L180.1 588.9L178.7 588.2L177.3 587.6L175.9 586.9L174.5 586.2L173.1 585.5L171.7 584.7L170.2 584.0L168.8 583.3L167.4 582.6L166.0 581.8L164.6 581.1L163.2 580.3L161.8 579.6L160.4 578.8L159.0 578.0L157.6 577.2L156.1 576.4L154.7 575.6L153.3 574.9L151.9 574.2L150.5 573.5L149.1 572.7L147.7 572.0L146.3 571.3L144.9 570.5L143.4 569.8L142.0 569.1L140.6 568.4L139.2 567.8L137.8 567.2L136.4 566.6L135.0 566.1L133.6 565.6L132.2 565.3L130.8 564.9L129.3 564.6L127.9 564.2L126.5 563.7L125.1 563.2L123.7 562.7L122.3 562.2L120.9 561.7L119.5 561.2L118.1 560.6L116.6 560.1L115.2 559.6L113.8 559.1L112.4 558.7L111.0 558.2L109.6 557.7L108.2 557.3L106.8 556.9L105.4 556.5L104.0 556.1L102.5 555.7L101.1 555.3L99.7 555.0L98.3 554.7L96.9 554.4L95.5 554.2L94.1 554.0L92.7 553.8L91.3 553.6L89.9 553.4L88.4 553.3L87.0 553.2L85.6 553.2L84.2 553.1L82.8 553.1L81.4 553.1L80.0 553.1L78.6 553.1L77.2 553.2L75.7 553.3L74.3 553.4L72.9 553.6L71.5 553.8L70.1 554.0L68.7 554.4L67.3 554.8L65.9 555.2L64.5 555.6L63.1 556.1L61.6 556.6L60.2 557.0L58.8 557.5L57.4 557.9L56.0 558.4" stroke="#00a5ff"/>
<path d="M366.3 667.4L364.9 669.9L363.5 672.5L362.1 675.2L360.7 677.8L359.2 680.4L357.8 682.8L356.4 685.2L355.0 687.3L353.6 689.3L352.2 691.1L350.8 692.5L349.4 693.8L348.0 694.9L346.6 695.8L345.1 696.5L343.7 697.1L342.3 697.6L340.9 698.0L339.5 698.3L338.1 698.5L336.7 698.4L335.3 698.3L333.9 698.1L332.4 697.8L331.0 697.4L329.6 696.9L328.2 696.3L326.8 695.8L325.4 695.2L324.0 694.4L322.6 693.6L321.2 692.8L319.8 691.8L318.3 690.9L316.9 690.0L315.5 689.1L314.1 688.2L312.7 687.3L311.3 686.1L309.9 685.0L308.5 683.7L307.1 682.4L305.7 681.1L304.2 679.8L302.8 678.4L301.4 677.1L300.0 675.8L298.6 674.4L297.2 673.1L295.8 671.8L294.4 670.5L293.0 669.2L291.5 667.9L290.1 666.6L288.7 665.3L287.3 664.0L285.9 662.8L284.5 661.5L283.1 660.2L281.7 658.9L280.3 657.7L278.9 656.4L277.4 655.2L276.0 653.9L274.6 652.6L273.2 651.3L271.8 650.0L270.4 648.7L269.0 647.4L267.6 646.1L266.2 644.9L264.7 643.6L263.3 642.4L261.9 641.1L260.5 639.9L259.1 638.7L257.7 637.5L256.3 636.4L254.9 635.3L253.5 634.2L252.1 633.1L250.6 632.1L249.2 631.1L247.8 630.1L246.4 629.1L245.0 628.2L243.6 627.2L242.2 626.2L240.8 625.3L239.4 624.4L237.9 623.5L236.5 622.5L235.1 621.6L233.7 620.7L232.3 619.8L230.9 618.9L229.5 618.0L228.1 617.0L226.7 616.1L225.3 615.2L223.8 614.3L222.4 613.3L221.0 612.4L219.6 611.5L218.2 610.6L216.8 609.7L215.4 608.8L214.0 607.9L212.6 607.1L211.2 606.2L209.7 605.4L208.3 604.5L206.9 603.7L205.5 602.9L204.1 602.1L202.7 601.4L201.3 600.6L199.9 599.8L198.5 599.1L197.0 598.3L195.6 597.6L194.2 596.8L192.8 596.1L191.4 595.4L190.0 594.6L188.6 593.9L187.2 593.1L185.8 592.4L184.4 591.7L182.9 590.9L181.5 590.2L180.1 589.4L178.7 588.7L177.3 587.9L175.9 587.2L174.5 586.4L173.1 585.7L171.7 584.9L170.2 584.2L168.8 583.4L167.4 582.7L166.0 581.9L164.6 581.2L163.2 580.4L161.8 579.6L160.4 578.8L159.0 578.1L157.6 577.3L156.1 576.5L154.7 575.7L153.3 575.0L151.9 574.2L150.5 573.5L149.1 572.7L147.7 572.0L146.3 571.3L144.9 570.6L143.4 569.9L142.0 569.2L140.6 568.6L139.2 568.0L137.8 567.5L136.4 567.0L135.0 566.7L133.6 566.4L132.2 566.1L130.8 566.0L129.3 565.8L127.9 565.6L126.5 565.3L125.1 565.0L123.7 564.8L122.3 564.5L120.9 564.2L119.5 564.0L118.1 563.7L116.6 563.5L115.2 563.3L113.8 563.0L112.4 562.8L111.0 562.7L109.6 562.5L108.2 562.3L106.8 562.2L105.4 562.0L104.0 561.9L102.5 561.8L101.1 561.7L99.7 561.6L98.3 561.5L96.9 561.4L95.5 561.3L94.1 561.2L92.7 561.2L91.3 561.1L89.9 561.0L88.4 561.0L87.0 560.9L85.6 560.8L84.2 560.8L82.8 560.7L81.4 560.6L80.0 560.5L78.6 560.4L77.2 560.3L75.7 560.1L74.3 560.0L72.9 559.9L71.5 559.8L70.1 559.7L68.7 559.6L67.3 559.5L65.9 559.5L64.5 559.4L63.1 559.4L61.6 559.3L60.2 559.2L58.8 559.1L57.4 559.0L56.0 558.9" stroke="#00ccff"/>
<path d="M366.3 688.9L364.9 689.7L363.5 690.6L362.1 691.7L360.7 692.7L359.2 693.8L357.8 694.8L356.4 695.7L355.0 696.6L353.6 697.3L352.2 697.8L350.8 698.1L349.4 698.3L348.0 698.3L346.6 698.3L345.1 698.2L343.7 698.1L342.3 697.9L340.9 697.7L339.5 697.6L338.1 697.6L336.7 697.6L335.3 697.6L333.9 697.4L332.4 697.2L331.0 696.9L329.6 696.5L328.2 696.0L326.8 695.6L325.4 695.1L324.0 694.5L322.6 693.8L321.2 693.0L319.8 692.3L318.3 691.5L316.9 690.7L315.5 689.9L314.1 689.2L312.7 688.3L311.3 687.4L309.9 686.3L308.5 685.2L307.1 684.1L305.7 682.9L304.2 681.7L302.8 680.5L301.4 679.3L300.0 678.1L298.6 676.9L297.2 675.7L295.8 674.5L294.4 673.3L293.0 672.1L291.5 670.9L290.1 669.7L288.7 668.5L287.3 667.3L285.9 666.1L284.5 664.9L283.1 663.7L281.7 662.5L280.3 661.3L278.9 660.1L277.4 658.9L276.0 657.6L274.6 656.4L273.2 655.1L271.8 653.8L270.4 652.5L269.0 651.2L267.6 649.9L266.2 648.6L264.7 647.4L263.3 646.1L261.9 644.8L260.5 643.6L259.1 642.3L257.7 641.1L256.3 639.9L254.9 638.7L253.5 637.5L252.1 636.4L250.6 635.3L249.2 634.2L247.8 633.1L246.4 632.0L245.0 631.0L243.6 629.9L242.2 628.9L240.8 627.8L239.4 626.8L237.9 625.7L236.5 624.7L235.1 623.7L233.7 622.6L232.3 621.6L230.9 620.6L229.5 619.5L228.1 618.5L226.7 617.5L225.3 616.4L223.8 615.4L222.4 614.4L221.0 613.3L219.6 612.3L218.2 611.3L216.8 610.3L215.4 609.3L214.0 608.4L212.6 607.4L211.2 606.5L209.7 605.6L208.3 604.7L206.9 603.8L205.5 602.9L204.1 602.1L202.7 601.3L201.3 600.5L199.9 599.7L198.5 598.9L197.0 598.1L195.6 597.3L194.2 596.6L192.8 595.8L191.4 595.1L190.0 594.3L188.6 593.6L187.2 592.9L185.8 592.2L184.4 591.4L182.9 590.7L181.5 590.0L180.1 589.3L178.7 588.6L177.3 587.9L175.9 587.2L174.5 586.5L173.1 585.8L171.7 585.1L170.2 584.4L168.8 583.7L167.4 583.0L166.0 582.3L164.6 581.6L163.2 580.9L161.8 580.2L160.4 579.5L159.0 578.7L157.6 578.0L156.1 577.3L154.7 576.6L153.3 575.9L151.9 575.2L150.5 574.5L149.1 573.8L147.7 573.1L146.3 572.5L144.9 571.9L143.4 571.2L142.0 570.7L140.6 570.1L139.2 569.6L137.8 569.1L136.4 568.7L135.0 568.4L133.6 568.1L132.2 567.9L130.8 567.8L129.3 567.6L127.9 567.4L126.5 567.2L125.1 566.9L123.7 566.6L122.3 566.2L120.9 565.9L119.5 565.6L118.1 565.2L116.6 564.9L115.2 564.5L113.8 564.2L112.4 563.8L111.0 563.5L109.6 563.1L108.2 562.7L106.8 562.3L105.4 561.9L104.0 561.5L102.5 561.1L101.1 560.7L99.7 560.3L98.3 559.9L96.9 559.5L95.5 559.1L94.1 558.6L92.7 558.2L91.3 557.8L89.9 557.4L88.4 556.9L87.0 556.5L85.6 556.1L84.2 555.7L82.8 555.2L81.4 554.8L80.0 554.3L78.6 553.9L77.2 553.4L75.7 553.0L74.3 552.6L72.9 552.2L71.5 551.9L70.1 551.6L68.7 551.4L67.3 551.3L65.9 551.2L64.5 551.1L63.1 551.1L61.6 551.1L60.2 551.1L58.8 551.2L57.4 551.2L56.0 551.2" stroke="#00f5ff"/>
<path d="M366.3 672.1L364.9 674.3L363.5 676.6L362.1 678.9L360.7 681.2L359.2 683.5L357.8 685.7L356.4 687.7L355.0 689.7L353.6 691.4L352.2 692.9L350.8 694.2L349.4 695.2L348.0 696.1L346.6 696.8L345.1 697.4L343.7 697.9L342.3 698.3L340.9 698.6L339.5 698.8L338.1 698.9L336.7 698.9L335.3 698.8L333.9 698.6L332.4 698.3L331.0 697.9L329.6 697.4L328.2 696.9L326.8 696.4L325.4 695.8L324.0 695.2L322.6 694.4L321.2 693.6L319.8 692.7L318.3 691.9L316.9 691.0L315.5 690.2L314.1 689.3L312.7 688.4L311.3 687.4L309.9 686.2L308.5 685.1L307.1 683.8L305.7 682.6L304.2 681.3L302.8 680.0L301.4 678.7L300.0 677.4L298.6 676.1L297.2 674.9L295.8 673.6L294.4 672.3L293.0 671.1L291.5 669.8L290.1 668.5L288.7 667.3L287.3 666.0L285.9 664.7L284.5 663.5L283.1 662.2L281.7 660.9L280.3 659.7L278.9 658.4L277.4 657.2L276.0 655.9L274.6 654.6L273.2 653.3L271.8 652.0L270.4 650.7L269.0 649.4L267.6 648.1L266.2 646.8L264.7 645.5L263.3 644.2L261.9 643.0L260.5 641.7L259.1 640.5L257.7 639.3L256.3 638.1L254.9 637.0L253.5 635.9L252.1 634.8L250.6 633.7L249.2 632.7L247.8 631.7L246.4 630.7L245.0 629.7L243.6 628.7L242.2 627.7L240.8 626.8L239.4 625.8L237.9 624.8L236.5 623.9L235.1 623.0L233.7 622.0L232.3 621.1L230.9 620.2L229.5 619.2L228.1 618.3L226.7 617.4L225.3 616.4L223.8 615.5L222.4 614.6L221.0 613.6L219.6 612.7L218.2 611.8L216.8 610.9L215.4 610.0L214.0 609.1L212.6 608.3L211.2 607.5L209.7 606.6L208.3 605.8L206.9 605.0L205.5 604.2L204.1 603.5L202.7 602.7L201.3 602.0L199.9 601.3L198.5 600.5L197.0 599.8L195.6 599.1L194.2 598.4L192.8 597.7L191.4 597.0L190.0 596.3L188.6 595.6L187.2 594.9L185.8 594.2L184.4 593.5L182.9 592.8L181.5 592.1L180.1 591.4L178.7 590.7L177.3 590.0L175.9 589.2L174.5 588.5L173.1 587.8L171.7 587.1L170.2 586.4L168.8 585.7L167.4 585.0L166.0 584.3L164.6 583.5L163.2 582.8L161.8 582.0L160.4 581.3L159.0 580.6L157.6 579.8L156.1 579.1L154.7 578.3L153.3 577.6L151.9 576.9L150.5 576.2L149.1 575.5L147.7 574.9L146.3 574.2L144.9 573.5L143.4 572.9L142.0 572.3L140.6 571.7L139.2 571.2L137.8 570.7L136.4 570.3L135.0 569.9L133.6 569.7L132.2 569.5L130.8 569.3L129.3 569.1L127.9 569.0L126.5 568.7L125.1 568.4L123.7 568.1L122.3 567.8L120.9 567.5L119.5 567.2L118.1 566.9L116.6 566.6L115.2 566.3L113.8 566.1L112.4 565.8L111.0 565.5L109.6 565.2L108.2 565.0L106.8 564.7L105.4 564.5L104.0 564.2L102.5 564.0L101.1 563.7L99.7 563.5L98.3 563.3L96.9 563.1L95.5 562.8L94.1 562.6L92.7 562.4L91.3 562.2L89.9 562.0L88.4 561.8L87.0 561.6L85.6 561.4L84.2 561.3L82.8 561.1L81.4 560.8L80.0 560.6L78.6 560.4L77.2 560.2L75.7 560.0L74.3 559.9L72.9 559.7L71.5 559.6L70.1 559.4L68.7 559.4L67.3 559.3L65.9 559.3L64.5 559.3L63.1 559.3L61.6 559.3L60.2 559.3L58.8 559.3L57.4 559.3L56.0 559.3" stroke="#00faa0"/>
<path d="M366.3 694.0L364.9 694.6L363.5 695.3L362.1 696.1L360.7 696.9L359.2 697.7L357.8 698.5L356.4 699.2L355.0 699.8L353.6 700.3L352.2 700.6L350.8 700.7L349.4 700.7L348.0 700.6L346.6 700.4L345.1 700.1L343.7 699.9L342.3 699.6L340.9 699.3L339.5 699.1L338.1 699.0L336.7 699.0L335.3 699.0L333.9 698.8L332.4 698.5L331.0 698.2L329.6 697.8L328.2 697.4L326.8 696.9L325.4 696.4L324.0 695.7L322.6 695.0L321.2 694.3L319.8 693.5L318.3 692.7L316.9 691.9L315.5 691.1L314.1 690.4L312.7 689.5L311.3 688.5L309.9 687.5L308.5 686.3L307.1 685.2L305.7 684.0L304.2 682.8L302.8 681.6L301.4 680.4L300.0 679.2L298.6 677.9L297.2 676.7L295.8 675.5L294.4 674.3L293.0 673.1L291.5 671.9L290.1 670.7L288.7 669.5L287.3 668.3L285.9 667.1L284.5 665.9L283.1 664.7L281.7 663.5L280.3 662.3L278.9 661.1L277.4 659.9L276.0 658.7L274.6 657.4L273.2 656.2L271.8 654.9L270.4 653.7L269.0 652.4L267.6 651.1L266.2 649.9L264.7 648.6L263.3 647.4L261.9 646.1L260.5 644.9L259.1 643.7L257.7 642.6L256.3 641.4L254.9 640.3L253.5 639.2L252.1 638.1L250.6 637.0L249.2 636.0L247.8 634.9L246.4 633.9L245.0 632.9L243.6 631.9L242.2 630.9L240.8 629.9L239.4 629.0L237.9 628.0L236.5 627.0L235.1 626.0L233.7 625.0L232.3 624.1L230.9 623.1L229.5 622.1L228.1 621.1L226.7 620.1L225.3 619.1L223.8 618.1L222.4 617.1L221.0 616.1L219.6 615.1L218.2 614.2L216.8 613.2L215.4 612.2L214.0 611.3L212.6 610.4L211.2 609.5L209.7 608.6L208.3 607.7L206.9 606.8L205.5 605.9L204.1 605.1L202.7 604.3L201.3 603.4L199.9 602.6L198.5 601.8L197.0 601.0L195.6 600.2L194.2 599.4L192.8 598.7L191.4 597.9L190.0 597.1L188.6 596.3L187.2 595.6L185.8 594.8L184.4 594.1L182.9 593.3L181.5 592.6L180.1 591.8L178.7 591.1L177.3 590.3L175.9 589.6L174.5 588.8L173.1 588.1L171.7 587.4L170.2 586.6L168.8 585.9L167.4 585.2L166.0 584.4L164.6 583.7L163.2 582.9L161.8 582.2L160.4 581.5L159.0 580.7L157.6 580.0L156.1 579.2L154.7 578.5L153.3 577.8L151.9 577.1L150.5 576.3L149.1 575.7L147.7 575.0L146.3 574.3L144.9 573.7L143.4 573.1L142.0 572.5L140.6 572.0L139.2 571.5L137.8 571.1L136.4 570.7L135.0 570.5L133.6 570.3L132.2 570.2L130.8 570.1L129.3 570.1L127.9 570.0L126.5 569.9L125.1 569.7L123.7 569.6L122.3 569.4L120.9 569.3L119.5 569.1L118.1 569.0L116.6 568.8L115.2 568.7L113.8 568.6L112.4 568.5L111.0 568.3L109.6 568.2L108.2 568.1L106.8 568.0L105.4 567.8L104.0 567.7L102.5 567.6L101.1 567.4L99.7 567.3L98.3 567.1L96.9 566.9L95.5 566.8L94.1 566.6L92.7 566.4L91.3 566.1L89.9 565.9L88.4 565.7L87.0 565.4L85.6 565.1L84.2 564.8L82.8 564.5L81.4 564.1L80.0 563.7L78.6 563.3L77.2 562.9L75.7 562.5L74.3 562.1L72.9 561.6L71.5 561.2L70.1 560.8L68.7 560.3L67.3 559.9L65.9 559.5L64.5 559.1L63.1 558.8L61.6 558.4L60.2 558.0L58.8 557.7L57.4 557.3L56.0 556.9" stroke="#00ff40"/>
<path d="M366.3 671.5L364.9 673.4L363.5 675.5L362.1 677.6L360.7 679.6L359.2 681.7L357.8 683.7L356.4 685.5L355.0 687.2L353.6 688.8L352.2 690.1L350.8 691.2L349.4 692.1L348.0 692.9L346.6 693.5L345.1 693.9L343.7 694.3L342.3 694.6L340.9 694.9L339.5 695.0L338.1 695.2L336.7 695.2L335.3 695.2L333.9 695.0L332.4 694.8L331.0 694.5L329.6 694.1L328.2 693.6L326.8 693.2L325.4 692.7L324.0 692.1L322.6 691.4L321.2 690.7L319.8 689.9L318.3 689.1L316.9 688.3L315.5 687.6L314.1 686.8L312.7 686.0L311.3 685.0L309.9 684.0L308.5 682.9L307.1 681.7L305.7 680.5L304.2 679.3L302.8 678.1L301.4 676.9L300.0 675.7L298.6 674.5L297.2 673.3L295.8 672.1L294.4 670.8L293.0 669.6L291.5 668.4L290.1 667.2L288.7 666.0L287.3 664.8L285.9 663.6L284.5 662.4L283.1 661.1L281.7 659.9L280.3 658.7L278.9 657.5L277.4 656.2L276.0 655.0L274.6 653.7L273.2 652.4L271.8 651.2L270.4 649.9L269.0 648.6L267.6 647.3L266.2 646.0L264.7 644.7L263.3 643.5L261.9 642.2L260.5 641.0L259.1 639.8L257.7 638.6L256.3 637.4L254.9 636.2L253.5 635.1L252.1 634.0L250.6 633.0L249.2 631.9L247.8 630.9L246.4 629.8L245.0 628.8L243.6 627.8L242.2 626.8L240.8 625.9L239.4 624.9L237.9 623.9L236.5 622.9L235.1 622.0L233.7 621.0L232.3 620.0L230.9 619.1L229.5 618.1L228.1 617.2L226.7 616.2L225.3 615.2L223.8 614.2L222.4 613.2L221.0 612.3L219.6 611.3L218.2 610.3L216.8 609.4L215.4 608.5L214.0 607.6L212.6 606.7L211.2 605.8L209.7 604.9L208.3 604.0L206.9 603.2L205.5 602.4L204.1 601.5L202.7 600.7L201.3 600.0L199.9 599.2L198.5 598.4L197.0 597.6L195.6 596.8L194.2 596.1L192.8 595.3L191.4 594.5L190.0 593.8L188.6 593.0L187.2 592.2L185.8 591.5L184.4 590.7L182.9 590.0L181.5 589.2L180.1 588.4L178.7 587.7L177.3 586.9L175.9 586.2L174.5 585.4L173.1 584.7L171.7 583.9L170.2 583.1L168.8 582.4L167.4 581.6L166.0 580.8L164.6 580.0L163.2 579.2L161.8 578.5L160.4 577.7L159.0 576.9L157.6 576.1L156.1 575.3L154.7 574.5L153.3 573.7L151.9 572.9L150.5 572.1L149.1 571.2L147.7 570.4L146.3 569.6L144.9 568.9L143.4 568.1L142.0 567.4L140.6 566.7L139.2 566.0L137.8 565.4L136.4 564.8L135.0 564.4L133.6 564.0L132.2 563.6L130.8 563.4L129.3 563.1L127.9 562.8L126.5 562.4L125.1 562.0L123.7 561.6L122.3 561.2L120.9 560.8L119.5 560.4L118.1 560.0L116.6 559.7L115.2 559.3L113.8 559.0L112.4 558.6L111.0 558.3L109.6 558.0L108.2 557.7L106.8 557.4L105.4 557.1L104.0 556.8L102.5 556.6L101.1 556.3L99.7 556.1L98.3 555.9L96.9 555.7L95.5 555.5L94.1 555.3L92.7 555.1L91.3 554.9L89.9 554.8L88.4 554.6L87.0 554.5L85.6 554.4L84.2 554.2L82.8 554.1L81.4 554.0L80.0 553.9L78.6 553.8L77.2 553.7L75.7 553.6L74.3 553.5L72.9 553.5L71.5 553.5L70.1 553.5L68.7 553.6L67.3 553.7L65.9 553.8L64.5 553.9L63.1 554.1L61.6 554.3L60.2 554.4L58.8 554.6L57.4 554.8L56.0 554.9" stroke="#10ff00"/>
<path d="M366.3 694.4L364.9 694.6L363.5 695.0L362.1 695.5L360.7 696.0L359.2 696.6L357.8 697.1L356.4 697.5L355.0 697.9L353.6 698.1L352.2 698.2L350.8 698.2L349.4 697.9L348.0 697.6L346.6 697.3L345.1 696.9L343.7 696.5L342.3 696.1L340.9 695.7L339.5 695.5L338.1 695.3L336.7 695.4L335.3 695.4L333.9 695.2L332.4 695.0L331.0 694.7L329.6 694.4L328.2 694.0L326.8 693.6L325.4 693.1L324.0 692.6L322.6 691.9L321.2 691.3L319.8 690.5L318.3 689.8L316.9 689.1L315.5 688.4L314.1 687.7L312.7 686.9L311.3 686.0L309.9 685.0L308.5 683.9L307.1 682.8L305.7 681.7L304.2 680.6L302.8 679.4L301.4 678.2L300.0 677.1L298.6 675.9L297.2 674.7L295.8 673.5L294.4 672.3L293.0 671.2L291.5 670.0L290.1 668.8L288.7 667.6L287.3 666.4L285.9 665.2L284.5 664.0L283.1 662.8L281.7 661.5L280.3 660.3L278.9 659.1L277.4 657.8L276.0 656.6L274.6 655.3L273.2 654.0L271.8 652.7L270.4 651.3L269.0 650.0L267.6 648.7L266.2 647.4L264.7 646.0L263.3 644.7L261.9 643.4L260.5 642.1L259.1 640.9L257.7 639.6L256.3 638.4L254.9 637.2L253.5 636.0L252.1 634.9L250.6 633.7L249.2 632.6L247.8 631.5L246.4 630.4L245.0 629.4L243.6 628.3L242.2 627.3L240.8 626.2L239.4 625.2L237.9 624.2L236.5 623.1L235.1 622.1L233.7 621.1L232.3 620.1L230.9 619.1L229.5 618.1L228.1 617.1L226.7 616.1L225.3 615.1L223.8 614.1L222.4 613.1L221.0 612.1L219.6 611.1L218.2 610.1L216.8 609.2L215.4 608.3L214.0 607.4L212.6 606.5L211.2 605.6L209.7 604.8L208.3 603.9L206.9 603.1L205.5 602.3L204.1 601.5L202.7 600.7L201.3 600.0L199.9 599.3L198.5 598.5L197.0 597.8L195.6 597.1L194.2 596.4L192.8 595.7L191.4 595.0L190.0 594.3L188.6 593.6L187.2 592.9L185.8 592.3L184.4 591.6L182.9 590.9L181.5 590.3L180.1 589.6L178.7 588.9L177.3 588.2L175.9 587.6L174.5 586.9L173.1 586.2L171.7 585.6L170.2 584.9L168.8 584.2L167.4 583.5L166.0 582.9L164.6 582.2L163.2 581.5L161.8 580.8L160.4 580.0L159.0 579.3L157.6 578.6L156.1 577.9L154.7 577.2L153.3 576.5L151.9 575.9L150.5 575.2L149.1 574.6L147.7 574.0L146.3 573.4L144.9 572.8L143.4 572.2L142.0 571.6L140.6 571.1L139.2 570.6L137.8 570.1L136.4 569.7L135.0 569.4L133.6 569.1L132.2 568.9L130.8 568.7L129.3 568.5L127.9 568.3L126.5 568.0L125.1 567.7L123.7 567.3L122.3 566.9L120.9 566.5L119.5 566.1L118.1 565.7L116.6 565.3L115.2 564.8L113.8 564.4L112.4 563.9L111.0 563.5L109.6 563.0L108.2 562.5L106.8 562.1L105.4 561.6L104.0 561.1L102.5 560.6L101.1 560.1L99.7 559.5L98.3 559.0L96.9 558.5L95.5 558.0L94.1 557.5L92.7 556.9L91.3 556.4L89.9 555.9L88.4 555.4L87.0 554.8L85.6 554.3L84.2 553.8L82.8 553.3L81.4 552.8L80.0 552.3L78.6 551.8L77.2 551.3L75.7 550.8L74.3 550.3L72.9 549.9L71.5 549.5L70.1 549.2L68.7 549.0L67.3 548.8L65.9 548.7L64.5 548.6L63.1 548.5L61.6 548.5L60.2 548.5L58.8 548.5L57.4 548.5L56.0 548.5" stroke="#50fa00"/>
<path d="M366.3 677.5L364.9 679.2L363.5 680.9L362.1 682.7L360.7 684.5L359.2 686.2L357.8 687.9L356.4 689.5L355.0 691.0L353.6 692.3L352.2 693.4L350.8 694.2L349.4 694.9L348.0 695.5L346.6 695.9L345.1 696.2L343.7 696.4L342.3 696.5L340.9 696.7L339.5 696.7L338.1 696.8L336.7 696.8L335.3 696.7L333.9 696.6L332.4 696.3L331.0 696.0L329.6 695.6L328.2 695.2L326.8 694.7L325.4 694.2L324.0 693.6L322.6 693.0L321.2 692.2L319.8 691.5L318.3 690.7L316.9 689.9L315.5 689.2L314.1 688.5L312.7 687.7L311.3 686.7L309.9 685.7L308.5 684.6L307.1 683.5L305.7 682.3L304.2 681.1L302.8 679.9L301.4 678.8L300.0 677.6L298.6 676.4L297.2 675.2L295.8 674.0L294.4 672.8L293.0 671.6L291.5 670.4L290.1 669.2L288.7 668.0L287.3 666.8L285.9 665.6L284.5 664.4L283.1 663.1L281.7 661.9L280.3 660.7L278.9 659.5L277.4 658.2L276.0 657.0L274.6 655.7L273.2 654.4L271.8 653.2L270.4 651.9L269.0 650.6L267.6 649.3L266.2 648.0L264.7 646.7L263.3 645.4L261.9 644.1L260.5 642.9L259.1 641.7L257.7 640.5L256.3 639.3L254.9 638.1L253.5 637.0L252.1 635.9L250.6 634.8L249.2 633.7L247.8 632.6L246.4 631.6L245.0 630.6L243.6 629.6L242.2 628.5L240.8 627.5L239.4 626.5L237.9 625.5L236.5 624.6L235.1 623.6L233.7 622.6L232.3 621.6L230.9 620.6L229.5 619.6L228.1 618.7L226.7 617.7L225.3 616.7L223.8 615.7L222.4 614.7L221.0 613.7L219.6 612.7L218.2 611.7L216.8 610.8L215.4 609.9L214.0 608.9L212.6 608.0L211.2 607.1L209.7 606.3L208.3 605.4L206.9 604.5L205.5 603.7L204.1 602.9L202.7 602.1L201.3 601.3L199.9 600.5L198.5 599.7L197.0 599.0L195.6 598.2L194.2 597.4L192.8 596.7L191.4 595.9L190.0 595.2L188.6 594.5L187.2 593.7L185.8 593.0L184.4 592.2L182.9 591.5L181.5 590.8L180.1 590.1L178.7 589.3L177.3 588.6L175.9 587.9L174.5 587.2L173.1 586.4L171.7 585.7L170.2 585.0L168.8 584.3L167.4 583.6L166.0 582.8L164.6 582.1L163.2 581.3L161.8 580.6L160.4 579.9L159.0 579.1L157.6 578.4L156.1 577.6L154.7 576.9L153.3 576.2L151.9 575.4L150.5 574.7L149.1 574.0L147.7 573.3L146.3 572.6L144.9 571.9L143.4 571.2L142.0 570.6L140.6 570.0L139.2 569.5L137.8 569.0L136.4 568.6L135.0 568.2L133.6 568.0L132.2 567.8L130.8 567.6L129.3 567.5L127.9 567.3L126.5 567.0L125.1 566.7L123.7 566.5L122.3 566.2L120.9 565.9L119.5 565.6L118.1 565.3L116.6 565.0L115.2 564.7L113.8 564.5L112.4 564.2L111.0 563.9L109.6 563.6L108.2 563.3L106.8 563.0L105.4 562.8L104.0 562.5L102.5 562.2L101.1 561.9L99.7 561.6L98.3 561.3L96.9 561.0L95.5 560.6L94.1 560.3L92.7 560.0L91.3 559.7L89.9 559.4L88.4 559.0L87.0 558.7L85.6 558.3L84.2 558.0L82.8 557.6L81.4 557.3L80.0 556.9L78.6 556.5L77.2 556.1L75.7 555.7L74.3 555.3L72.9 555.0L71.5 554.7L70.1 554.4L68.7 554.1L67.3 553.9L65.9 553.7L64.5 553.5L63.1 553.4L61.6 553.2L60.2 553.1L58.8 553.0L57.4 552.9L56.0 552.8" stroke="#a5f500"/>
<path d="M366.3 660.1L364.9 663.1L363.5 666.2L362.1 669.2L360.7 672.3L359.2 675.3L357.8 678.1L356.4 680.9L355.0 683.4L353.6 685.8L352.2 687.8L350.8 689.6L349.4 691.2L348.0 692.6L346.6 693.8L345.1 694.8L343.7 695.7L342.3 696.4L340.9 697.0L339.5 697.4L338.1 697.7L336.7 697.7L335.3 697.6L333.9 697.4L332.4 697.1L331.0 696.8L329.6 696.4L328.2 696.0L326.8 695.5L325.4 695.0L324.0 694.4L322.6 693.7L321.2 693.0L319.8 692.2L318.3 691.4L316.9 690.7L315.5 689.9L314.1 689.2L312.7 688.4L311.3 687.4L309.9 686.4L308.5 685.3L307.1 684.2L305.7 683.0L304.2 681.8L302.8 680.6L301.4 679.4L300.0 678.2L298.6 677.0L297.2 675.8L295.8 674.6L294.4 673.4L293.0 672.2L291.5 671.0L290.1 669.8L288.7 668.6L287.3 667.4L285.9 666.2L284.5 664.9L283.1 663.7L281.7 662.5L280.3 661.3L278.9 660.0L277.4 658.8L276.0 657.5L274.6 656.3L273.2 655.0L271.8 653.7L270.4 652.4L269.0 651.1L267.6 649.8L266.2 648.5L264.7 647.2L263.3 645.9L261.9 644.6L260.5 643.4L259.1 642.2L257.7 641.0L256.3 639.8L254.9 638.6L253.5 637.5L252.1 636.4L250.6 635.3L249.2 634.3L247.8 633.2L246.4 632.2L245.0 631.2L243.6 630.2L242.2 629.2L240.8 628.2L239.4 627.2L237.9 626.2L236.5 625.3L235.1 624.3L233.7 623.3L232.3 622.4L230.9 621.4L229.5 620.5L228.1 619.5L226.7 618.6L225.3 617.6L223.8 616.6L222.4 615.7L221.0 614.7L219.6 613.8L218.2 612.8L216.8 611.9L215.4 611.0L214.0 610.1L212.6 609.2L211.2 608.4L209.7 607.5L208.3 606.7L206.9 605.9L205.5 605.1L204.1 604.3L202.7 603.5L201.3 602.7L199.9 602.0L198.5 601.2L197.0 600.5L195.6 599.8L194.2 599.0L192.8 598.3L191.4 597.6L190.0 596.8L188.6 596.1L187.2 595.4L185.8 594.7L184.4 594.0L182.9 593.2L181.5 592.5L180.1 591.8L178.7 591.1L177.3 590.4L175.9 589.7L174.5 588.9L173.1 588.2L171.7 587.5L170.2 586.8L168.8 586.0L167.4 585.3L166.0 584.6L164.6 583.8L163.2 583.1L161.8 582.3L160.4 581.6L159.0 580.8L157.6 580.1L156.1 579.3L154.7 578.5L153.3 577.8L151.9 577.1L150.5 576.4L149.1 575.7L147.7 575.0L146.3 574.3L144.9 573.6L143.4 572.9L142.0 572.3L140.6 571.7L139.2 571.1L137.8 570.6L136.4 570.1L135.0 569.7L133.6 569.4L132.2 569.2L130.8 568.9L129.3 568.7L127.9 568.5L126.5 568.2L125.1 567.8L123.7 567.5L122.3 567.1L120.9 566.7L119.5 566.4L118.1 566.0L116.6 565.6L115.2 565.2L113.8 564.9L112.4 564.5L111.0 564.1L109.6 563.7L108.2 563.4L106.8 563.0L105.4 562.6L104.0 562.2L102.5 561.8L101.1 561.4L99.7 561.0L98.3 560.6L96.9 560.2L95.5 559.8L94.1 559.4L92.7 559.0L91.3 558.6L89.9 558.2L88.4 557.7L87.0 557.3L85.6 556.9L84.2 556.5L82.8 556.1L81.4 555.6L80.0 555.2L78.6 554.7L77.2 554.3L75.7 553.9L74.3 553.5L72.9 553.1L71.5 552.8L70.1 552.5L68.7 552.2L67.3 552.0L65.9 551.8L64.5 551.7L63.1 551.6L61.6 551.5L60.2 551.4L58.8 551.3L57.4 551.3L56.0 551.2" stroke="#ffeb00"/>
<path d="M366.3 678.5L364.9 679.9L363.5 681.3L362.1 682.8L360.7 684.3L359.2 685.8L357.8 687.3L356.4 688.6L355.0 689.8L353.6 690.9L352.2 691.7L350.8 692.4L349.4 692.8L348.0 693.2L346.6 693.4L345.1 693.5L343.7 693.6L342.3 693.6L340.9 693.6L339.5 693.6L338.1 693.6L336.7 693.6L335.3 693.5L333.9 693.4L332.4 693.1L331.0 692.8L329.6 692.4L328.2 691.9L326.8 691.5L325.4 691.0L324.0 690.4L322.6 689.7L321.2 689.0L319.8 688.3L318.3 687.5L316.9 686.7L315.5 686.0L314.1 685.3L312.7 684.5L311.3 683.6L309.9 682.6L308.5 681.5L307.1 680.4L305.7 679.3L304.2 678.1L302.8 676.9L301.4 675.7L300.0 674.6L298.6 673.4L297.2 672.2L295.8 671.0L294.4 669.8L293.0 668.6L291.5 667.5L290.1 666.3L288.7 665.1L287.3 663.9L285.9 662.7L284.5 661.5L283.1 660.3L281.7 659.0L280.3 657.8L278.9 656.6L277.4 655.4L276.0 654.1L274.6 652.9L273.2 651.6L271.8 650.3L270.4 649.0L269.0 647.7L267.6 646.4L266.2 645.2L264.7 643.9L263.3 642.6L261.9 641.4L260.5 640.1L259.1 638.9L257.7 637.7L256.3 636.5L254.9 635.4L253.5 634.3L252.1 633.2L250.6 632.1L249.2 631.0L247.8 630.0L246.4 629.0L245.0 628.0L243.6 627.0L242.2 626.0L240.8 625.0L239.4 624.0L237.9 623.1L236.5 622.1L235.1 621.1L233.7 620.2L232.3 619.2L230.9 618.3L229.5 617.3L228.1 616.4L226.7 615.4L225.3 614.4L223.8 613.5L222.4 612.5L221.0 611.5L219.6 610.6L218.2 609.6L216.8 608.7L215.4 607.8L214.0 606.9L212.6 606.0L211.2 605.2L209.7 604.3L208.3 603.4L206.9 602.6L205.5 601.8L204.1 601.0L202.7 600.2L201.3 599.4L199.9 598.7L198.5 597.9L197.0 597.1L195.6 596.4L194.2 595.6L192.8 594.9L191.4 594.1L190.0 593.4L188.6 592.6L187.2 591.9L185.8 591.2L184.4 590.4L182.9 589.7L181.5 588.9L180.1 588.2L178.7 587.4L177.3 586.7L175.9 586.0L174.5 585.2L173.1 584.5L171.7 583.7L170.2 583.0L168.8 582.2L167.4 581.5L166.0 580.7L164.6 579.9L163.2 579.1L161.8 578.4L160.4 577.6L159.0 576.8L157.6 576.0L156.1 575.2L154.7 574.4L153.3 573.6L151.9 572.8L150.5 572.0L149.1 571.3L147.7 570.5L146.3 569.7L144.9 568.9L143.4 568.2L142.0 567.5L140.6 566.8L139.2 566.1L137.8 565.5L136.4 564.9L135.0 564.4L133.6 564.0L132.2 563.6L130.8 563.3L129.3 563.0L127.9 562.6L126.5 562.2L125.1 561.7L123.7 561.3L122.3 560.8L120.9 560.3L119.5 559.8L118.1 559.3L116.6 558.8L115.2 558.3L113.8 557.8L112.4 557.3L111.0 556.8L109.6 556.3L108.2 555.8L106.8 555.3L105.4 554.8L104.0 554.3L102.5 553.8L101.1 553.3L99.7 552.8L98.3 552.3L96.9 551.8L95.5 551.4L94.1 550.9L92.7 550.4L91.3 549.9L89.9 549.4L88.4 549.0L87.0 548.5L85.6 548.1L84.2 547.6L82.8 547.2L81.4 546.7L80.0 546.3L78.6 545.8L77.2 545.4L75.7 545.0L74.3 544.7L72.9 544.3L71.5 544.1L70.1 543.8L68.7 543.7L67.3 543.6L65.9 543.6L64.5 543.6L63.1 543.7L61.6 543.8L60.2 543.9L58.8 544.0L57.4 544.1L56.0 544.3" stroke="#ffbe00"/>
<path d="M366.3 659.9L364.9 662.6L363.5 665.4L362.1 668.2L360.7 671.0L359.2 673.7L357.8 676.3L356.4 678.8L355.0 681.1L353.6 683.2L352.2 685.1L350.8 686.7L349.4 688.0L348.0 689.2L346.6 690.3L345.1 691.2L343.7 691.9L342.3 692.5L340.9 693.0L339.5 693.4L338.1 693.6L336.7 693.7L335.3 693.6L333.9 693.5L332.4 693.2L331.0 692.9L329.6 692.6L328.2 692.2L326.8 691.8L325.4 691.3L324.0 690.8L322.6 690.1L321.2 689.5L319.8 688.8L318.3 688.0L316.9 687.3L315.5 686.7L314.1 686.0L312.7 685.3L311.3 684.4L309.9 683.4L308.5 682.4L307.1 681.3L305.7 680.2L304.2 679.1L302.8 678.0L301.4 676.9L300.0 675.7L298.6 674.6L297.2 673.4L295.8 672.3L294.4 671.1L293.0 670.0L291.5 668.8L290.1 667.6L288.7 666.5L287.3 665.3L285.9 664.1L284.5 662.9L283.1 661.7L281.7 660.5L280.3 659.3L278.9 658.1L277.4 656.8L276.0 655.6L274.6 654.3L273.2 653.1L271.8 651.8L270.4 650.5L269.0 649.2L267.6 647.9L266.2 646.6L264.7 645.3L263.3 644.0L261.9 642.7L260.5 641.5L259.1 640.2L257.7 639.0L256.3 637.8L254.9 636.6L253.5 635.5L252.1 634.4L250.6 633.3L249.2 632.2L247.8 631.1L246.4 630.1L245.0 629.0L243.6 628.0L242.2 627.0L240.8 626.0L239.4 625.0L237.9 624.0L236.5 623.0L235.1 622.0L233.7 621.0L232.3 620.1L230.9 619.1L229.5 618.1L228.1 617.1L226.7 616.2L225.3 615.2L223.8 614.2L222.4 613.2L221.0 612.3L219.6 611.3L218.2 610.3L216.8 609.4L215.4 608.5L214.0 607.6L212.6 606.7L211.2 605.8L209.7 605.0L208.3 604.1L206.9 603.3L205.5 602.5L204.1 601.7L202.7 600.9L201.3 600.2L199.9 599.4L198.5 598.7L197.0 597.9L195.6 597.2L194.2 596.5L192.8 595.7L191.4 595.0L190.0 594.3L188.6 593.6L187.2 592.9L185.8 592.2L184.4 591.5L182.9 590.7L181.5 590.0L180.1 589.3L178.7 588.6L177.3 587.9L175.9 587.2L174.5 586.5L173.1 585.8L171.7 585.1L170.2 584.4L168.8 583.7L167.4 582.9L166.0 582.2L164.6 581.5L163.2 580.7L161.8 580.0L160.4 579.2L159.0 578.5L157.6 577.7L156.1 577.0L154.7 576.2L153.3 575.5L151.9 574.8L150.5 574.1L149.1 573.4L147.7 572.7L146.3 572.0L144.9 571.4L143.4 570.7L142.0 570.1L140.6 569.5L139.2 568.9L137.8 568.4L136.4 567.9L135.0 567.5L133.6 567.2L132.2 566.9L130.8 566.7L129.3 566.4L127.9 566.1L126.5 565.8L125.1 565.4L123.7 565.0L122.3 564.5L120.9 564.1L119.5 563.6L118.1 563.2L116.6 562.7L115.2 562.2L113.8 561.7L112.4 561.3L111.0 560.8L109.6 560.2L108.2 559.7L106.8 559.2L105.4 558.7L104.0 558.1L102.5 557.5L101.1 557.0L99.7 556.4L98.3 555.8L96.9 555.2L95.5 554.5L94.1 553.8L92.7 553.1L91.3 552.3L89.9 551.5L88.4 550.5L87.0 549.5L85.6 548.4L84.2 547.2L82.8 545.8L81.4 544.4L80.0 542.9L78.6 541.4L77.2 540.0L75.7 538.6L74.3 537.4L72.9 536.3L71.5 535.5L70.1 535.0L68.7 534.8L67.3 534.9L65.9 535.2L64.5 535.7L63.1 536.4L61.6 537.2L60.2 538.0L58.8 538.8L57.4 539.6L56.0 540.3" stroke="#ff9000"/>
<path d="M366.3 684.7L364.9 685.7L363.5 686.8L362.1 688.0L360.7 689.2L359.2 690.4L357.8 691.5L356.4 692.5L355.0 693.5L353.6 694.2L352.2 694.8L350.8 695.2L349.4 695.4L348.0 695.5L346.6 695.5L345.1 695.4L343.7 695.3L342.3 695.2L340.9 695.0L339.5 694.8L338.1 694.8L336.7 694.7L335.3 694.6L333.9 694.4L332.4 694.1L331.0 693.7L329.6 693.3L328.2 692.8L326.8 692.3L325.4 691.8L324.0 691.2L322.6 690.5L321.2 689.8L319.8 689.0L318.3 688.2L316.9 687.5L315.5 686.8L314.1 686.0L312.7 685.2L311.3 684.3L309.9 683.3L308.5 682.2L307.1 681.1L305.7 680.0L304.2 678.8L302.8 677.7L301.4 676.5L300.0 675.3L298.6 674.1L297.2 673.0L295.8 671.8L294.4 670.6L293.0 669.4L291.5 668.2L290.1 667.1L288.7 665.9L287.3 664.7L285.9 663.5L284.5 662.3L283.1 661.1L281.7 659.9L280.3 658.7L278.9 657.5L277.4 656.2L276.0 655.0L274.6 653.7L273.2 652.5L271.8 651.2L270.4 649.9L269.0 648.6L267.6 647.4L266.2 646.1L264.7 644.8L263.3 643.6L261.9 642.3L260.5 641.1L259.1 639.9L257.7 638.7L256.3 637.6L254.9 636.4L253.5 635.3L252.1 634.3L250.6 633.2L249.2 632.2L247.8 631.2L246.4 630.2L245.0 629.2L243.6 628.2L242.2 627.2L240.8 626.3L239.4 625.3L237.9 624.4L236.5 623.4L235.1 622.5L233.7 621.6L232.3 620.7L230.9 619.7L229.5 618.8L228.1 617.9L226.7 617.0L225.3 616.0L223.8 615.1L222.4 614.1L221.0 613.2L219.6 612.3L218.2 611.4L216.8 610.5L215.4 609.6L214.0 608.7L212.6 607.9L211.2 607.0L209.7 606.2L208.3 605.4L206.9 604.6L205.5 603.8L204.1 603.1L202.7 602.3L201.3 601.6L199.9 600.8L198.5 600.1L197.0 599.4L195.6 598.6L194.2 597.9L192.8 597.2L191.4 596.5L190.0 595.8L188.6 595.1L187.2 594.3L185.8 593.6L184.4 592.9L182.9 592.2L181.5 591.5L180.1 590.8L178.7 590.1L177.3 589.4L175.9 588.6L174.5 587.9L173.1 587.2L171.7 586.5L170.2 585.7L168.8 585.0L167.4 584.3L166.0 583.5L164.6 582.8L163.2 582.0L161.8 581.3L160.4 580.5L159.0 579.7L157.6 579.0L156.1 578.2L154.7 577.4L153.3 576.7L151.9 576.0L150.5 575.3L149.1 574.6L147.7 573.9L146.3 573.2L144.9 572.5L143.4 571.9L142.0 571.2L140.6 570.6L139.2 570.0L137.8 569.5L136.4 569.0L135.0 568.6L133.6 568.3L132.2 568.0L130.8 567.8L129.3 567.5L127.9 567.2L126.5 566.9L125.1 566.5L123.7 566.1L122.3 565.7L120.9 565.2L119.5 564.8L118.1 564.4L116.6 563.9L115.2 563.5L113.8 563.0L112.4 562.5L111.0 562.1L109.6 561.6L108.2 561.1L106.8 560.6L105.4 560.1L104.0 559.6L102.5 559.1L101.1 558.6L99.7 558.0L98.3 557.5L96.9 556.9L95.5 556.3L94.1 555.7L92.7 555.0L91.3 554.3L89.9 553.5L88.4 552.6L87.0 551.6L85.6 550.5L84.2 549.4L82.8 548.1L81.4 546.7L80.0 545.3L78.6 543.8L77.2 542.4L75.7 541.1L74.3 539.9L72.9 538.8L71.5 538.1L70.1 537.6L68.7 537.3L67.3 537.4L65.9 537.7L64.5 538.2L63.1 538.9L61.6 539.6L60.2 540.4L58.8 541.2L57.4 542.0L56.0 542.7" stroke="#ff5000"/>
<path d="M366.3 667.5L364.9 669.9L363.5 672.3L362.1 674.8L360.7 677.2L359.2 679.6L357.8 681.9L356.4 684.1L355.0 686.1L353.6 688.0L352.2 689.6L350.8 690.9L349.4 692.0L348.0 693.0L346.6 693.7L345.1 694.4L343.7 694.9L342.3 695.4L340.9 695.7L339.5 695.9L338.1 696.0L336.7 696.0L335.3 695.9L333.9 695.7L332.4 695.4L331.0 695.0L329.6 694.6L328.2 694.2L326.8 693.7L325.4 693.2L324.0 692.6L322.6 692.0L321.2 691.3L319.8 690.6L318.3 689.8L316.9 689.1L315.5 688.4L314.1 687.7L312.7 686.9L311.3 686.1L309.9 685.1L308.5 684.0L307.1 683.0L305.7 681.9L304.2 680.8L302.8 679.6L301.4 678.5L300.0 677.3L298.6 676.2L297.2 675.0L295.8 673.9L294.4 672.7L293.0 671.6L291.5 670.4L290.1 669.2L288.7 668.1L287.3 666.9L285.9 665.7L284.5 664.5L283.1 663.3L281.7 662.1L280.3 660.9L278.9 659.7L277.4 658.4L276.0 657.2L274.6 655.9L273.2 654.6L271.8 653.3L270.4 652.0L269.0 650.7L267.6 649.4L266.2 648.1L264.7 646.8L263.3 645.5L261.9 644.2L260.5 643.0L259.1 641.7L257.7 640.5L256.3 639.3L254.9 638.1L253.5 636.9L252.1 635.8L250.6 634.7L249.2 633.6L247.8 632.5L246.4 631.4L245.0 630.4L243.6 629.3L242.2 628.3L240.8 627.3L239.4 626.3L237.9 625.2L236.5 624.2L235.1 623.2L233.7 622.2L232.3 621.2L230.9 620.2L229.5 619.2L228.1 618.2L226.7 617.2L225.3 616.2L223.8 615.2L222.4 614.2L221.0 613.2L219.6 612.2L218.2 611.2L216.8 610.2L215.4 609.3L214.0 608.3L212.6 607.4L211.2 606.5L209.7 605.6L208.3 604.8L206.9 603.9L205.5 603.1L204.1 602.3L202.7 601.5L201.3 600.7L199.9 599.9L198.5 599.2L197.0 598.4L195.6 597.7L194.2 596.9L192.8 596.2L191.4 595.5L190.0 594.8L188.6 594.0L187.2 593.3L185.8 592.6L184.4 591.9L182.9 591.2L181.5 590.5L180.1 589.8L178.7 589.1L177.3 588.5L175.9 587.8L174.5 587.1L173.1 586.4L171.7 585.7L170.2 585.1L168.8 584.4L167.4 583.7L166.0 583.0L164.6 582.3L163.2 581.7L161.8 581.0L160.4 580.3L159.0 579.6L157.6 578.9L156.1 578.2L154.7 577.5L153.3 576.8L151.9 576.1L150.5 575.5L149.1 574.8L147.7 574.2L146.3 573.6L144.9 573.0L143.4 572.5L142.0 572.0L140.6 571.5L139.2 571.1L137.8 570.7L136.4 570.4L135.0 570.2L133.6 570.0L132.2 569.9L130.8 569.9L129.3 569.9L127.9 569.8L126.5 569.7L125.1 569.5L123.7 569.3L122.3 569.2L120.9 569.0L119.5 568.8L118.1 568.6L116.6 568.4L115.2 568.2L113.8 567.9L112.4 567.7L111.0 567.5L109.6 567.2L108.2 566.9L106.8 566.7L105.4 566.4L104.0 566.0L102.5 565.7L101.1 565.3L99.7 564.9L98.3 564.5L96.9 564.1L95.5 563.6L94.1 563.1L92.7 562.5L91.3 561.8L89.9 561.0L88.4 560.2L87.0 559.2L85.6 558.2L84.2 557.0L82.8 555.6L81.4 554.2L80.0 552.7L78.6 551.2L77.2 549.6L75.7 548.2L74.3 546.8L72.9 545.7L71.5 544.7L70.1 544.0L68.7 543.5L67.3 543.3L65.9 543.3L64.5 543.5L63.1 543.9L61.6 544.3L60.2 544.8L58.8 545.3L57.4 545.8L56.0 546.2" stroke="#ff2800"/>
<path d="M366.3 688.9L364.9 689.6L363.5 690.4L362.1 691.3L360.7 692.2L359.2 693.1L357.8 694.0L356.4 694.8L355.0 695.5L353.6 696.1L352.2 696.5L350.8 696.7L349.4 696.7L348.0 696.6L346.6 696.5L345.1 696.3L343.7 696.1L342.3 695.8L340.9 695.6L339.5 695.4L338.1 695.4L336.7 695.4L335.3 695.3L333.9 695.1L332.4 694.9L331.0 694.6L329.6 694.3L328.2 693.9L326.8 693.5L325.4 693.0L324.0 692.5L322.6 691.9L321.2 691.3L319.8 690.6L318.3 689.9L316.9 689.3L315.5 688.6L314.1 688.0L312.7 687.3L311.3 686.5L309.9 685.5L308.5 684.6L307.1 683.5L305.7 682.5L304.2 681.4L302.8 680.3L301.4 679.2L300.0 678.1L298.6 677.0L297.2 675.9L295.8 674.7L294.4 673.6L293.0 672.5L291.5 671.3L290.1 670.2L288.7 669.0L287.3 667.9L285.9 666.7L284.5 665.5L283.1 664.3L281.7 663.1L280.3 661.9L278.9 660.7L277.4 659.5L276.0 658.2L274.6 657.0L273.2 655.7L271.8 654.4L270.4 653.1L269.0 651.8L267.6 650.5L266.2 649.2L264.7 647.9L263.3 646.6L261.9 645.3L260.5 644.1L259.1 642.8L257.7 641.6L256.3 640.4L254.9 639.2L253.5 638.1L252.1 637.0L250.6 635.9L249.2 634.8L247.8 633.7L246.4 632.7L245.0 631.7L243.6 630.7L242.2 629.7L240.8 628.7L239.4 627.7L237.9 626.7L236.5 625.7L235.1 624.8L233.7 623.8L232.3 622.9L230.9 621.9L229.5 621.0L228.1 620.0L226.7 619.1L225.3 618.1L223.8 617.2L222.4 616.2L221.0 615.3L219.6 614.4L218.2 613.4L216.8 612.5L215.4 611.7L214.0 610.8L212.6 610.0L211.2 609.1L209.7 608.3L208.3 607.5L206.9 606.7L205.5 605.9L204.1 605.2L202.7 604.5L201.3 603.7L199.9 603.0L198.5 602.3L197.0 601.6L195.6 600.9L194.2 600.2L192.8 599.5L191.4 598.8L190.0 598.1L188.6 597.4L187.2 596.7L185.8 596.0L184.4 595.3L182.9 594.6L181.5 593.9L180.1 593.2L178.7 592.5L177.3 591.8L175.9 591.1L174.5 590.4L173.1 589.7L171.7 588.9L170.2 588.2L168.8 587.5L167.4 586.7L166.0 586.0L164.6 585.2L163.2 584.5L161.8 583.7L160.4 582.9L159.0 582.1L157.6 581.3L156.1 580.5L154.7 579.8L153.3 579.0L151.9 578.3L150.5 577.6L149.1 576.8L147.7 576.1L146.3 575.3L144.9 574.6L143.4 573.9L142.0 573.2L140.6 572.4L139.2 571.8L137.8 571.2L136.4 570.6L135.0 570.1L133.6 569.6L132.2 569.2L130.8 568.8L129.3 568.4L127.9 568.0L126.5 567.5L125.1 566.9L123.7 566.4L122.3 565.8L120.9 565.2L119.5 564.6L118.1 563.9L116.6 563.3L115.2 562.7L113.8 562.0L112.4 561.4L111.0 560.7L109.6 560.1L108.2 559.4L106.8 558.8L105.4 558.1L104.0 557.4L102.5 556.7L101.1 556.1L99.7 555.4L98.3 554.7L96.9 554.0L95.5 553.3L94.1 552.5L92.7 551.7L91.3 550.9L89.9 550.0L88.4 549.1L87.0 548.1L85.6 547.0L84.2 545.8L82.8 544.5L81.4 543.1L80.0 541.7L78.6 540.3L77.2 538.9L75.7 537.6L74.3 536.5L72.9 535.6L71.5 535.0L70.1 534.6L68.7 534.6L67.3 534.8L65.9 535.3L64.5 536.1L63.1 536.9L61.6 537.9L60.2 538.9L58.8 540.0L57.4 541.0L56.0 541.9" stroke="#ff0a00"/>
<path d="M366.3 667.7L364.9 669.8L363.5 671.9L362.1 674.1L360.7 676.3L359.2 678.5L357.8 680.5L356.4 682.5L355.0 684.3L353.6 685.9L352.2 687.3L350.8 688.4L349.4 689.3L348.0 690.1L346.6 690.7L345.1 691.2L343.7 691.6L342.3 691.9L340.9 692.1L339.5 692.2L338.1 692.3L336.7 692.2L335.3 692.1L333.9 691.9L332.4 691.6L331.0 691.2L329.6 690.8L328.2 690.4L326.8 689.9L325.4 689.4L324.0 688.9L322.6 688.2L321.2 687.5L319.8 686.8L318.3 686.0L316.9 685.3L315.5 684.7L314.1 684.0L312.7 683.2L311.3 682.3L309.9 681.4L308.5 680.4L307.1 679.3L305.7 678.2L304.2 677.1L302.8 676.0L301.4 674.9L300.0 673.7L298.6 672.6L297.2 671.4L295.8 670.3L294.4 669.2L293.0 668.0L291.5 666.9L290.1 665.7L288.7 664.6L287.3 663.4L285.9 662.2L284.5 661.1L283.1 659.9L281.7 658.7L280.3 657.5L278.9 656.3L277.4 655.1L276.0 653.9L274.6 652.6L273.2 651.4L271.8 650.1L270.4 648.8L269.0 647.5L267.6 646.3L266.2 645.0L264.7 643.7L263.3 642.5L261.9 641.2L260.5 640.0L259.1 638.8L257.7 637.6L256.3 636.4L254.9 635.3L253.5 634.2L252.1 633.1L250.6 632.0L249.2 631.0L247.8 629.9L246.4 628.9L245.0 627.9L243.6 626.9L242.2 625.9L240.8 625.0L239.4 624.0L237.9 623.0L236.5 622.0L235.1 621.1L233.7 620.1L232.3 619.2L230.9 618.2L229.5 617.3L228.1 616.3L226.7 615.3L225.3 614.4L223.8 613.4L222.4 612.4L221.0 611.4L219.6 610.5L218.2 609.5L216.8 608.6L215.4 607.7L214.0 606.8L212.6 605.9L211.2 605.0L209.7 604.1L208.3 603.3L206.9 602.4L205.5 601.6L204.1 600.8L202.7 600.0L201.3 599.2L199.9 598.5L198.5 597.7L197.0 596.9L195.6 596.2L194.2 595.4L192.8 594.6L191.4 593.9L190.0 593.1L188.6 592.4L187.2 591.7L185.8 590.9L184.4 590.2L182.9 589.4L181.5 588.7L180.1 588.0L178.7 587.2L177.3 586.5L175.9 585.8L174.5 585.0L173.1 584.3L171.7 583.6L170.2 582.8L168.8 582.1L167.4 581.4L166.0 580.6L164.6 579.9L163.2 579.1L161.8 578.4L160.4 577.6L159.0 576.9L157.6 576.1L156.1 575.4L154.7 574.6L153.3 573.9L151.9 573.1L150.5 572.4L149.1 571.6L147.7 570.9L146.3 570.2L144.9 569.5L143.4 568.9L142.0 568.2L140.6 567.6L139.2 567.1L137.8 566.6L136.4 566.1L135.0 565.8L133.6 565.5L132.2 565.3L130.8 565.1L129.3 565.0L127.9 564.8L126.5 564.5L125.1 564.2L123.7 564.0L122.3 563.7L120.9 563.4L119.5 563.1L118.1 562.8L116.6 562.5L115.2 562.2L113.8 561.9L112.4 561.7L111.0 561.4L109.6 561.1L108.2 560.8L106.8 560.5L105.4 560.1L104.0 559.8L102.5 559.5L101.1 559.1L99.7 558.8L98.3 558.4L96.9 558.0L95.5 557.6L94.1 557.1L92.7 556.6L91.3 556.0L89.9 555.3L88.4 554.6L87.0 553.8L85.6 552.8L84.2 551.8L82.8 550.6L81.4 549.3L80.0 548.0L78.6 546.6L77.2 545.3L75.7 544.0L74.3 542.9L72.9 541.9L71.5 541.2L70.1 540.7L68.7 540.4L67.3 540.4L65.9 540.6L64.5 541.0L63.1 541.6L61.6 542.2L60.2 542.9L58.8 543.6L57.4 544.2L56.0 544.8" stroke="#ff0000"/>
</g>
<path d="M366.30 690.69h-4.3M366.30 664.06h-4.3M366.30 637.43h-4.3M366.30 610.80h-4.3M366.30 584.17h-4.3M366.30 557.54h-4.3M366.30 530.91h-4.3" stroke="#000" stroke-width="1.6"/>
<rect x="338.09" y="517.6" width="28.21" height="186.4" fill="#c4c4c4" fill-opacity="0.75"/>
<line x1="338.09" y1="517.6" x2="338.09" y2="704.0" stroke="#2a2a2a" stroke-width="1.25"/>
<path d="M56.00 690.69L60.30 690.69M56.00 677.37L64.50 677.37M56.00 664.06L60.30 664.06M56.00 650.74L64.50 650.74M56.00 637.43L60.30 637.43M56.00 624.11L64.50 624.11M56.00 610.80L60.30 610.80M56.00 597.49L64.50 597.49M56.00 584.17L60.30 584.17M56.00 570.86L64.50 570.86M56.00 557.54L60.30 557.54M56.00 544.23L64.50 544.23M56.00 530.91L60.30 530.91M84.21 704.00L84.21 699.70M84.21 517.60L84.21 521.90M112.42 704.00L112.42 695.50M140.63 704.00L140.63 699.70M140.63 517.60L140.63 521.90M168.84 704.00L168.84 695.50M197.05 704.00L197.05 699.70M197.05 517.60L197.05 521.90M225.25 704.00L225.25 695.50M253.46 704.00L253.46 699.70M253.46 517.60L253.46 521.90M281.67 704.00L281.67 695.50M309.88 704.00L309.88 699.70M309.88 517.60L309.88 521.90M338.09 704.00L338.09 695.50" stroke="#000" stroke-width="1.9" fill="none"/>
<rect x="56.0" y="517.6" width="310.30" height="186.4" fill="none" stroke="#000" stroke-width="1.8"/>
</g>
<text x="45.30" y="522.00" font-size="15.3" text-anchor="end" font-weight="bold" >1.1</text>
<text x="45.30" y="548.63" font-size="15.3" text-anchor="end" font-weight="bold" >1.0</text>
<text x="45.30" y="575.26" font-size="15.3" text-anchor="end" font-weight="bold" >0.9</text>
<text x="45.30" y="601.89" font-size="15.3" text-anchor="end" font-weight="bold" >0.8</text>
<text x="45.30" y="628.51" font-size="15.3" text-anchor="end" font-weight="bold" >0.7</text>
<text x="45.30" y="655.14" font-size="15.3" text-anchor="end" font-weight="bold" >0.6</text>
<text x="45.30" y="681.77" font-size="15.3" text-anchor="end" font-weight="bold" >0.5</text>
<text x="45.30" y="708.40" font-size="15.3" text-anchor="end" font-weight="bold" >0.4</text>
<text x="56.00" y="726.00" font-size="15.3" text-anchor="middle" font-weight="bold" >1000</text>
<text x="112.42" y="726.00" font-size="15.3" text-anchor="middle" font-weight="bold" >800</text>
<text x="168.84" y="726.00" font-size="15.3" text-anchor="middle" font-weight="bold" >600</text>
<text x="225.25" y="726.00" font-size="15.3" text-anchor="middle" font-weight="bold" >400</text>
<text x="281.67" y="726.00" font-size="15.3" text-anchor="middle" font-weight="bold" >200</text>
<text x="338.09" y="726.00" font-size="15.3" text-anchor="middle" font-weight="bold" >0</text>
<text x="55.30" y="510.20" font-size="17.6" text-anchor="start" font-weight="normal" >a3)</text>
<text transform="translate(12.9,611.1) rotate(-90)" font-size="17.4" font-weight="bold" text-anchor="middle">Water saturation (-)</text>
<text x="86.4" y="644.4" font-size="17.5">i=2000 mA/cm<tspan dy="-6.6" font-size="11.7">2</tspan></text>
<text x="248.6" y="170.6" font-size="17.2">Anode PTL</text>
<path d="M333.9 195.2V178.3H233" fill="none" stroke="#333" stroke-width="1.1"/>
<path d="M224 178.3L236 175L236 181.6Z" fill="#000"/>
<text transform="translate(358.3,181) rotate(-90)" font-size="17.2" text-anchor="middle">CCM</text>
<rect x="437.34" y="20.0" width="81.93" height="186.4" fill="#d3d3d3"/>
<line x1="382.1" y1="183.10" x2="568.3" y2="183.10" stroke="#c8c8c8" stroke-width="1.1" stroke-dasharray="3.4 2.9"/>
<line x1="382.1" y1="159.80" x2="568.3" y2="159.80" stroke="#c8c8c8" stroke-width="1.1" stroke-dasharray="3.4 2.9"/>
<line x1="382.1" y1="136.50" x2="568.3" y2="136.50" stroke="#c8c8c8" stroke-width="1.1" stroke-dasharray="3.4 2.9"/>
<line x1="382.1" y1="113.20" x2="568.3" y2="113.20" stroke="#c8c8c8" stroke-width="1.1" stroke-dasharray="3.4 2.9"/>
<line x1="382.1" y1="89.90" x2="568.3" y2="89.90" stroke="#c8c8c8" stroke-width="1.1" stroke-dasharray="3.4 2.9"/>
<line x1="382.1" y1="66.60" x2="568.3" y2="66.60" stroke="#c8c8c8" stroke-width="1.1" stroke-dasharray="3.4 2.9"/>
<line x1="382.1" y1="43.30" x2="568.3" y2="43.30" stroke="#c8c8c8" stroke-width="1.1" stroke-dasharray="3.4 2.9"/>
<line x1="413.13" y1="20.0" x2="413.13" y2="206.4" stroke="#cbcbcb" stroke-width="1.1" stroke-dasharray="3.4 2.9"/>
<line x1="444.17" y1="20.0" x2="444.17" y2="206.4" stroke="#cbcbcb" stroke-width="1.1" stroke-dasharray="3.4 2.9"/>
<line x1="475.20" y1="20.0" x2="475.20" y2="206.4" stroke="#cbcbcb" stroke-width="1.1" stroke-dasharray="3.4 2.9"/>
<line x1="506.23" y1="20.0" x2="506.23" y2="206.4" stroke="#cbcbcb" stroke-width="1.1" stroke-dasharray="3.4 2.9"/>
<line x1="537.27" y1="20.0" x2="537.27" y2="206.4" stroke="#cbcbcb" stroke-width="1.1" stroke-dasharray="3.4 2.9"/>
<g clip-path="url(#clipB0)" fill="none">
<path d="M382.1 63.7L382.5 64.6L382.8 60.8L383.2 58.3L383.6 64.9L384.0 64.8L384.3 58.0L384.7 60.8L385.1 66.0L385.5 64.9L385.8 67.9L386.2 68.4L386.6 68.5L386.9 76.8L387.3 77.5L387.7 72.7L388.1 71.0L388.4 67.6L388.8 71.9L389.2 71.7L389.5 62.1L389.9 65.0L390.3 68.4L390.7 73.4L391.0 70.7L391.4 68.4L391.8 70.8L392.2 67.4L392.5 69.0L392.9 69.6L393.3 66.9L393.6 59.2L394.0 65.4L394.4 70.1L394.8 66.3L395.1 70.6L395.5 70.5L395.9 77.1L396.3 75.3L396.6 66.8L397.0 62.9L397.4 65.1L397.7 67.6L398.1 70.6L398.5 75.0L398.9 73.0L399.2 68.5L399.6 62.4L400.0 66.5L400.3 73.9L400.7 68.8L401.1 69.3L401.5 69.8L401.8 63.9L402.2 60.3L402.6 62.8L403.0 70.1L403.3 69.4L403.7 64.8L404.1 63.2L404.4 68.3L404.8 70.6L405.2 74.4L405.6 73.2L405.9 63.6L406.3 60.3L406.7 64.3L407.1 62.6L407.4 65.4L407.8 69.4L408.2 64.7L408.5 60.3L408.9 63.2L409.3 64.7L409.7 75.9L410.0 67.9L410.4 66.6L410.8 68.9L411.1 70.8L411.5 77.0L411.9 71.3L412.3 64.5L412.6 61.6L413.0 69.3L413.4 73.2L413.8 70.1L414.1 64.2L414.5 66.1L414.9 69.3L415.2 66.5L415.6 65.6L416.0 64.8L416.4 70.4L416.7 71.4L417.1 72.7L417.5 75.0L417.9 68.8L418.2 66.8L418.6 68.4L419.0 71.6L419.3 75.8L419.7 73.0L420.1 71.9L420.5 72.9L420.8 69.9L421.2 64.3L421.6 59.4L421.9 64.7L422.3 67.4L422.7 71.6L423.1 77.5L423.4 71.7L423.8 64.9L424.2 58.1L424.6 65.7L424.9 67.9L425.3 70.4L425.7 72.6L426.0 64.5L426.4 62.8L426.8 65.8L427.2 69.9L427.5 66.3L427.9 72.5L428.3 65.4L428.6 60.0L429.0 71.3L429.4 73.2L429.8 70.5L430.1 73.8L430.5 77.0L430.9 73.0L431.3 73.4L431.6 70.3L432.0 70.6L432.4 65.1L432.7 71.2L433.1 71.0L433.5 68.3L433.9 73.6L434.2 68.6L434.6 65.9L435.0 74.7L435.4 71.0L435.7 67.2L436.1 67.8L436.5 76.2L436.8 77.1L437.2 69.6L437.6 68.2L438.0 68.9L438.3 70.3L438.7 73.7L439.1 71.3L439.4 71.4L439.8 72.2L440.2 64.5L440.6 69.7L440.9 76.7L441.3 73.6L441.7 75.8L442.1 70.0L442.4 68.9L442.8 74.8L443.2 70.9L443.5 70.4L443.9 68.0L444.3 66.0L444.7 75.0L445.0 81.0L445.4 82.5L445.8 81.5L446.2 77.7L446.5 75.1L446.9 74.2L447.3 73.3L447.6 74.3L448.0 71.9L448.4 73.2L448.8 65.8L449.1 73.2L449.5 83.5L449.9 84.6L450.2 79.3L450.6 79.0L451.0 76.5L451.4 77.3L451.7 81.5L452.1 87.0L452.5 89.9L452.9 84.4L453.2 78.2L453.6 81.6L454.0 87.2L454.3 83.0L454.7 82.1L455.1 86.2L455.5 83.8L455.8 84.8L456.2 88.3L456.6 83.3L457.0 79.7L457.3 77.4L457.7 80.6L458.1 91.1L458.4 90.9L458.8 84.0L459.2 82.1L459.6 77.4L459.9 67.6L460.3 76.7L460.7 79.6L461.0 80.3L461.4 83.7L461.8 87.1L462.2 86.3L462.5 91.0L462.9 91.6L463.3 91.4L463.7 86.3L464.0 82.1L464.4 94.1L464.8 92.7L465.1 97.9L465.5 94.3L465.9 87.5L466.3 91.9L466.6 98.3L467.0 96.7L467.4 92.4L467.8 95.7L468.1 94.2L468.5 94.9L468.9 94.5L469.2 85.7L469.6 92.7L470.0 103.9L470.4 99.6L470.7 98.3L471.1 95.6L471.5 100.1L471.8 99.0L472.2 95.0L472.6 96.0L473.0 103.8L473.3 103.6L473.7 103.6L474.1 101.4L474.5 93.2L474.8 98.6L475.2 105.2L475.6 96.4L475.9 89.7L476.3 96.9L476.7 108.6L477.1 105.5L477.4 99.3L477.8 104.1L478.2 101.7L478.6 101.3L478.9 107.4L479.3 111.1L479.7 121.0L480.0 115.0L480.4 110.0L480.8 109.3L481.2 102.7L481.5 110.9L481.9 110.5L482.3 104.8L482.6 102.6L483.0 110.0L483.4 104.6L483.8 107.7L484.1 111.9L484.5 107.6L484.9 108.1L485.3 111.4L485.6 110.5L486.0 111.1L486.4 109.0L486.7 104.7L487.1 104.3L487.5 110.8L487.9 106.3L488.2 117.2L488.6 114.5L489.0 109.3L489.4 111.3L489.7 115.5L490.1 115.8L490.5 116.9L490.8 116.0L491.2 110.8L491.6 112.8L492.0 116.2L492.3 111.8L492.7 111.7L493.1 111.0L493.4 113.6L493.8 120.3L494.2 119.7L494.6 114.0L494.9 113.9L495.3 117.1L495.7 116.0L496.1 113.8L496.4 119.1L496.8 118.2L497.2 120.3L497.5 119.8L497.9 114.7L498.3 114.3L498.7 114.4L499.0 114.5L499.4 118.9L499.8 119.7L500.2 122.5L500.5 122.1L500.9 123.2L501.3 122.4L501.6 122.3L502.0 123.8L502.4 117.8L502.8 127.9L503.1 130.3L503.5 120.8L503.9 119.5L504.2 121.1L504.6 122.6L505.0 127.0L505.4 130.8L505.7 129.2L506.1 129.0L506.5 124.7L506.9 128.5L507.2 132.8L507.6 130.8L508.0 128.5L508.3 132.5L508.7 133.8L509.1 129.7L509.5 129.5L509.8 133.2L510.2 133.4L510.6 133.0L511.0 139.7L511.3 141.3L511.7 137.7L512.1 133.9L512.4 129.4L512.8 124.6L513.2 127.5L513.6 133.1L513.9 135.7L514.3 138.8L514.7 136.5L515.0 135.7L515.4 135.3L515.8 137.9L516.2 132.4L516.5 128.6L516.9 133.9L517.3 133.9L517.7 133.6L518.0 137.3L518.4 136.5L518.8 136.5L519.1 137.9L519.5 140.6L519.9 137.8L520.3 133.2L520.6 129.1L521.0 128.2L521.4 128.1L521.7 137.0L522.1 135.2L522.5 133.0L522.9 129.6L523.2 140.2L523.6 144.6L524.0 146.0L524.4 150.2L524.7 145.8L525.1 143.2L525.5 139.4L525.8 135.0L526.2 129.3L526.6 133.6L527.0 142.4L527.3 144.2L527.7 141.3L528.1 142.7L528.5 132.5L528.8 133.3L529.2 143.6L529.6 147.2L529.9 137.6L530.3 137.7L530.7 138.2L531.1 147.5L531.4 146.5L531.8 142.4L532.2 142.2L532.5 142.9L532.9 141.5L533.3 146.2L533.7 144.3L534.0 141.3L534.4 139.0L534.8 140.4L535.2 149.0L535.5 149.5L535.9 139.1L536.3 140.9L536.6 143.8L537.0 137.4L537.4 138.9L537.8 138.0L538.1 138.5L538.5 131.8L538.9 133.2L539.3 140.9L539.6 139.0L540.0 137.6L540.4 138.4L540.7 145.4L541.1 141.0L541.5 141.1L541.9 152.4L542.2 155.3L542.6 155.7L543.0 147.7L543.3 139.5L543.7 136.8L544.1 139.7L544.5 139.4L544.8 151.1L545.2 154.7L545.6 147.2L546.0 143.5L546.3 147.8L546.7 154.6L547.1 150.7L547.4 150.3L547.8 143.8L548.2 144.2L548.6 149.9L548.9 150.9L549.3 151.3L549.7 146.2L550.1 143.1L550.4 148.1L550.8 145.9L551.2 148.8L551.5 150.6L551.9 149.3L552.3 151.8L552.7 152.1L553.0 149.6L553.4 139.3L553.8 144.4L554.1 149.3L554.5 146.9L554.9 147.2L555.3 147.0L555.6 143.3L556.0 143.4L556.4 149.0L556.8 150.8L557.1 152.6L557.5 160.1L557.9 155.4L558.2 141.0L558.6 138.3L559.0 145.2L559.4 144.8L559.7 140.7L560.1 131.7L560.5 138.3L560.9 148.1L561.2 154.7L561.6 156.2L562.0 150.6L562.3 153.2L562.7 156.5L563.1 154.8L563.5 151.5L563.8 141.0L564.2 141.9L564.6 144.9L564.9 141.8L565.3 147.3L565.7 150.1L566.1 142.3L566.4 145.6L566.8 152.9L567.2 152.6L567.6 155.2L567.9 155.1L568.3 147.0" stroke="#3cc46e" stroke-width="2.1" stroke-linejoin="round"/>
<line x1="382.10" y1="20.00" x2="568.30" y2="183.10" stroke="#ff1f1f" stroke-width="1.55" stroke-dasharray="5.5 4.3"/>
</g>
<path d="M382.10 194.75L386.70 194.75M568.30 194.75L563.70 194.75M382.10 183.10L390.90 183.10M568.30 183.10L559.50 183.10M382.10 171.45L386.70 171.45M568.30 171.45L563.70 171.45M382.10 159.80L390.90 159.80M568.30 159.80L559.50 159.80M382.10 148.15L386.70 148.15M568.30 148.15L563.70 148.15M382.10 136.50L390.90 136.50M568.30 136.50L559.50 136.50M382.10 124.85L386.70 124.85M568.30 124.85L563.70 124.85M382.10 113.20L390.90 113.20M568.30 113.20L559.50 113.20M382.10 101.55L386.70 101.55M568.30 101.55L563.70 101.55M382.10 89.90L390.90 89.90M568.30 89.90L559.50 89.90M382.10 78.25L386.70 78.25M568.30 78.25L563.70 78.25M382.10 66.60L390.90 66.60M568.30 66.60L559.50 66.60M382.10 54.95L386.70 54.95M568.30 54.95L563.70 54.95M382.10 43.30L390.90 43.30M568.30 43.30L559.50 43.30M382.10 31.65L386.70 31.65M568.30 31.65L563.70 31.65M397.62 206.40L397.62 201.80M397.62 20.00L397.62 24.60M428.65 206.40L428.65 201.80M428.65 20.00L428.65 24.60M459.68 206.40L459.68 201.80M459.68 20.00L459.68 24.60M490.72 206.40L490.72 201.80M490.72 20.00L490.72 24.60M521.75 206.40L521.75 201.80M521.75 20.00L521.75 24.60M552.78 206.40L552.78 201.80M552.78 20.00L552.78 24.60M413.13 206.40L413.13 197.60M413.13 20.00L413.13 28.80M444.17 206.40L444.17 197.60M444.17 20.00L444.17 28.80M475.20 206.40L475.20 197.60M475.20 20.00L475.20 28.80M506.23 206.40L506.23 197.60M506.23 20.00L506.23 28.80M537.27 206.40L537.27 197.60M537.27 20.00L537.27 28.80" stroke="#000" stroke-width="1.9" fill="none"/>
<rect x="450.20" y="20.0" width="118.10" height="42.4" fill="#fff" stroke="#222" stroke-width="1"/>
<line x1="452.70" y1="32.50" x2="486.70" y2="32.50" stroke="#3cc46e" stroke-width="1.9"/>
<line x1="452.70" y1="51.50" x2="486.70" y2="51.50" stroke="#ff1f1f" stroke-width="1.6" stroke-dasharray="5.5 4.3"/>
<text x="491.20" y="37.60" font-size="15.2">i=5mA/cm<tspan dx="0.6" dy="-5.9" font-size="10">2</tspan></text>
<text x="491.20" y="56.30" font-size="15.5">Linear fit</text>
<rect x="382.1" y="20.0" width="186.20" height="186.4" fill="none" stroke="#000" stroke-width="1.8"/>
<text x="578.60" y="24.20" font-size="15.3" text-anchor="start" font-weight="bold" >1.10</text>
<text x="578.60" y="47.50" font-size="15.3" text-anchor="start" font-weight="bold" >1.05</text>
<text x="578.60" y="70.80" font-size="15.3" text-anchor="start" font-weight="bold" >1.00</text>
<text x="578.60" y="94.10" font-size="15.3" text-anchor="start" font-weight="bold" >0.95</text>
<text x="578.60" y="117.40" font-size="15.3" text-anchor="start" font-weight="bold" >0.90</text>
<text x="578.60" y="140.70" font-size="15.3" text-anchor="start" font-weight="bold" >0.85</text>
<text x="578.60" y="164.00" font-size="15.3" text-anchor="start" font-weight="bold" >0.80</text>
<text x="578.60" y="187.30" font-size="15.3" text-anchor="start" font-weight="bold" >0.75</text>
<text x="578.60" y="210.60" font-size="15.3" text-anchor="start" font-weight="bold" >0.70</text>
<text x="382.10" y="228.40" font-size="15.3" text-anchor="middle" font-weight="bold" >50</text>
<text x="413.13" y="228.40" font-size="15.3" text-anchor="middle" font-weight="bold" >60</text>
<text x="444.17" y="228.40" font-size="15.3" text-anchor="middle" font-weight="bold" >70</text>
<text x="475.20" y="228.40" font-size="15.3" text-anchor="middle" font-weight="bold" >80</text>
<text x="506.23" y="228.40" font-size="15.3" text-anchor="middle" font-weight="bold" >90</text>
<text x="537.27" y="228.40" font-size="15.3" text-anchor="middle" font-weight="bold" >100</text>
<text x="568.30" y="228.40" font-size="15.3" text-anchor="middle" font-weight="bold" >110</text>
<text x="382.90" y="14.20" font-size="17.6" text-anchor="start" font-weight="normal" >b1)</text>
<text transform="translate(627.7,113.7) rotate(-90)" font-size="17.4" font-weight="bold" text-anchor="middle">Water saturation (-)</text>
<text x="395.8" y="152.8" font-size="17.4">t<tspan dy="4.9" font-size="11.8">sat</tspan><tspan dy="-4.9">=24.2 s</tspan></text>
<rect x="424.23" y="269.0" width="57.72" height="186.4" fill="#d3d3d3"/>
<line x1="382.1" y1="432.10" x2="568.3" y2="432.10" stroke="#c8c8c8" stroke-width="1.1" stroke-dasharray="3.4 2.9"/>
<line x1="382.1" y1="408.80" x2="568.3" y2="408.80" stroke="#c8c8c8" stroke-width="1.1" stroke-dasharray="3.4 2.9"/>
<line x1="382.1" y1="385.50" x2="568.3" y2="385.50" stroke="#c8c8c8" stroke-width="1.1" stroke-dasharray="3.4 2.9"/>
<line x1="382.1" y1="362.20" x2="568.3" y2="362.20" stroke="#c8c8c8" stroke-width="1.1" stroke-dasharray="3.4 2.9"/>
<line x1="382.1" y1="338.90" x2="568.3" y2="338.90" stroke="#c8c8c8" stroke-width="1.1" stroke-dasharray="3.4 2.9"/>
<line x1="382.1" y1="315.60" x2="568.3" y2="315.60" stroke="#c8c8c8" stroke-width="1.1" stroke-dasharray="3.4 2.9"/>
<line x1="382.1" y1="292.30" x2="568.3" y2="292.30" stroke="#c8c8c8" stroke-width="1.1" stroke-dasharray="3.4 2.9"/>
<line x1="428.65" y1="269.0" x2="428.65" y2="455.4" stroke="#cbcbcb" stroke-width="1.1" stroke-dasharray="3.4 2.9"/>
<line x1="475.20" y1="269.0" x2="475.20" y2="455.4" stroke="#cbcbcb" stroke-width="1.1" stroke-dasharray="3.4 2.9"/>
<line x1="521.75" y1="269.0" x2="521.75" y2="455.4" stroke="#cbcbcb" stroke-width="1.1" stroke-dasharray="3.4 2.9"/>
<g clip-path="url(#clipB1)" fill="none">
<path d="M382.4 315.0L386.6 309.8L391.3 320.2L395.7 305.6L401.2 308.7L405.1 307.6L409.8 309.2L415.3 307.2L420.0 307.9L424.0 309.5L428.7 315.0L433.4 311.9L438.1 330.7L442.8 339.4L446.7 342.3L452.2 355.1L456.9 366.9L460.8 377.1L465.6 381.8L470.3 389.8L475.5 393.8L479.7 398.2L484.4 396.7L489.2 404.1L493.9 404.8L498.6 394.2L503.0 395.7L507.7 401.7L512.4 403.7L517.1 401.2L521.8 399.3L526.5 403.3L531.2 406.7L535.9 402.5L540.6 400.4L545.4 404.1L550.1 401.2L554.8 398.2L559.5 405.6L563.7 408.4L568.1 405.6" stroke="#1414ff" stroke-width="1.9" stroke-linejoin="round"/>
<line x1="398.63" y1="269.00" x2="514.77" y2="455.40" stroke="#ff1f1f" stroke-width="1.55" stroke-dasharray="5.5 4.3"/>
</g>
<path d="M382.10 443.75L386.70 443.75M568.30 443.75L563.70 443.75M382.10 432.10L390.90 432.10M568.30 432.10L559.50 432.10M382.10 420.45L386.70 420.45M568.30 420.45L563.70 420.45M382.10 408.80L390.90 408.80M568.30 408.80L559.50 408.80M382.10 397.15L386.70 397.15M568.30 397.15L563.70 397.15M382.10 385.50L390.90 385.50M568.30 385.50L559.50 385.50M382.10 373.85L386.70 373.85M568.30 373.85L563.70 373.85M382.10 362.20L390.90 362.20M568.30 362.20L559.50 362.20M382.10 350.55L386.70 350.55M568.30 350.55L563.70 350.55M382.10 338.90L390.90 338.90M568.30 338.90L559.50 338.90M382.10 327.25L386.70 327.25M568.30 327.25L563.70 327.25M382.10 315.60L390.90 315.60M568.30 315.60L559.50 315.60M382.10 303.95L386.70 303.95M568.30 303.95L563.70 303.95M382.10 292.30L390.90 292.30M568.30 292.30L559.50 292.30M382.10 280.65L386.70 280.65M568.30 280.65L563.70 280.65M405.38 455.40L405.38 450.80M405.38 269.00L405.38 273.60M451.93 455.40L451.93 450.80M451.93 269.00L451.93 273.60M498.47 455.40L498.47 450.80M498.47 269.00L498.47 273.60M545.02 455.40L545.02 450.80M545.02 269.00L545.02 273.60M428.65 455.40L428.65 446.60M428.65 269.00L428.65 277.80M475.20 455.40L475.20 446.60M475.20 269.00L475.20 277.80M521.75 455.40L521.75 446.60M521.75 269.00L521.75 277.80" stroke="#000" stroke-width="1.9" fill="none"/>
<rect x="442.40" y="269.0" width="125.90" height="42.39999999999998" fill="#fff" stroke="#222" stroke-width="1"/>
<line x1="444.90" y1="281.50" x2="478.90" y2="281.50" stroke="#1414ff" stroke-width="1.9"/>
<line x1="444.90" y1="300.50" x2="478.90" y2="300.50" stroke="#ff1f1f" stroke-width="1.6" stroke-dasharray="5.5 4.3"/>
<text x="483.40" y="286.60" font-size="15.2">i=50mA/cm<tspan dx="0.6" dy="-5.9" font-size="10">2</tspan></text>
<text x="483.40" y="305.30" font-size="15.5">Linear fit</text>
<rect x="382.1" y="269.0" width="186.20" height="186.4" fill="none" stroke="#000" stroke-width="1.8"/>
<text x="578.60" y="273.20" font-size="15.3" text-anchor="start" font-weight="bold" >1.10</text>
<text x="578.60" y="296.50" font-size="15.3" text-anchor="start" font-weight="bold" >1.05</text>
<text x="578.60" y="319.80" font-size="15.3" text-anchor="start" font-weight="bold" >1.00</text>
<text x="578.60" y="343.10" font-size="15.3" text-anchor="start" font-weight="bold" >0.95</text>
<text x="578.60" y="366.40" font-size="15.3" text-anchor="start" font-weight="bold" >0.90</text>
<text x="578.60" y="389.70" font-size="15.3" text-anchor="start" font-weight="bold" >0.85</text>
<text x="578.60" y="413.00" font-size="15.3" text-anchor="start" font-weight="bold" >0.80</text>
<text x="578.60" y="436.30" font-size="15.3" text-anchor="start" font-weight="bold" >0.75</text>
<text x="578.60" y="459.60" font-size="15.3" text-anchor="start" font-weight="bold" >0.70</text>
<text x="382.10" y="477.40" font-size="15.3" text-anchor="middle" font-weight="bold" >64</text>
<text x="428.65" y="477.40" font-size="15.3" text-anchor="middle" font-weight="bold" >66</text>
<text x="475.20" y="477.40" font-size="15.3" text-anchor="middle" font-weight="bold" >68</text>
<text x="521.75" y="477.40" font-size="15.3" text-anchor="middle" font-weight="bold" >70</text>
<text x="568.30" y="477.40" font-size="15.3" text-anchor="middle" font-weight="bold" >72</text>
<text x="382.90" y="260.00" font-size="17.6" text-anchor="start" font-weight="normal" >b2)</text>
<text transform="translate(627.7,362.7) rotate(-90)" font-size="17.4" font-weight="bold" text-anchor="middle">Water saturation (-)</text>
<text x="488.8" y="379" font-size="17.4">t<tspan dy="4.9" font-size="11.8">sat</tspan><tspan dy="-4.9">=2.3s</tspan></text>
<rect x="457.82" y="517.6" width="23.59" height="186.4" fill="#d3d3d3"/>
<line x1="382.1" y1="680.70" x2="568.3" y2="680.70" stroke="#c8c8c8" stroke-width="1.1" stroke-dasharray="3.4 2.9"/>
<line x1="382.1" y1="657.40" x2="568.3" y2="657.40" stroke="#c8c8c8" stroke-width="1.1" stroke-dasharray="3.4 2.9"/>
<line x1="382.1" y1="634.10" x2="568.3" y2="634.10" stroke="#c8c8c8" stroke-width="1.1" stroke-dasharray="3.4 2.9"/>
<line x1="382.1" y1="610.80" x2="568.3" y2="610.80" stroke="#c8c8c8" stroke-width="1.1" stroke-dasharray="3.4 2.9"/>
<line x1="382.1" y1="587.50" x2="568.3" y2="587.50" stroke="#c8c8c8" stroke-width="1.1" stroke-dasharray="3.4 2.9"/>
<line x1="382.1" y1="564.20" x2="568.3" y2="564.20" stroke="#c8c8c8" stroke-width="1.1" stroke-dasharray="3.4 2.9"/>
<line x1="382.1" y1="540.90" x2="568.3" y2="540.90" stroke="#c8c8c8" stroke-width="1.1" stroke-dasharray="3.4 2.9"/>
<line x1="444.17" y1="517.6" x2="444.17" y2="704.0" stroke="#cbcbcb" stroke-width="1.1" stroke-dasharray="3.4 2.9"/>
<line x1="506.23" y1="517.6" x2="506.23" y2="704.0" stroke="#cbcbcb" stroke-width="1.1" stroke-dasharray="3.4 2.9"/>
<g clip-path="url(#clipB2)" fill="none">
<path d="M382.3 568.4L394.7 577.1L407.8 572.7L420.0 569.3L431.7 568.4L443.8 568.4L456.5 560.2L468.7 673.8L480.9 687.3L493.9 680.3L506.5 684.8L518.7 689.1L531.7 683.9L543.9 684.8L556.5 683.9L568.0 690.4" stroke="#ff1414" stroke-width="1.9" stroke-linejoin="round"/>
<line x1="446.03" y1="517.60" x2="481.41" y2="704.00" stroke="#ff1f1f" stroke-width="1.55" stroke-dasharray="5.5 4.3"/>
</g>
<path d="M382.10 692.35L386.70 692.35M568.30 692.35L563.70 692.35M382.10 680.70L390.90 680.70M568.30 680.70L559.50 680.70M382.10 669.05L386.70 669.05M568.30 669.05L563.70 669.05M382.10 657.40L390.90 657.40M568.30 657.40L559.50 657.40M382.10 645.75L386.70 645.75M568.30 645.75L563.70 645.75M382.10 634.10L390.90 634.10M568.30 634.10L559.50 634.10M382.10 622.45L386.70 622.45M568.30 622.45L563.70 622.45M382.10 610.80L390.90 610.80M568.30 610.80L559.50 610.80M382.10 599.15L386.70 599.15M568.30 599.15L563.70 599.15M382.10 587.50L390.90 587.50M568.30 587.50L559.50 587.50M382.10 575.85L386.70 575.85M568.30 575.85L563.70 575.85M382.10 564.20L390.90 564.20M568.30 564.20L559.50 564.20M382.10 552.55L386.70 552.55M568.30 552.55L563.70 552.55M382.10 540.90L390.90 540.90M568.30 540.90L559.50 540.90M382.10 529.25L386.70 529.25M568.30 529.25L563.70 529.25M413.13 704.00L413.13 699.40M413.13 517.60L413.13 522.20M475.20 704.00L475.20 699.40M475.20 517.60L475.20 522.20M537.27 704.00L537.27 699.40M537.27 517.60L537.27 522.20M444.17 704.00L444.17 695.20M444.17 517.60L444.17 526.40M506.23 704.00L506.23 695.20M506.23 517.60L506.23 526.40" stroke="#000" stroke-width="1.9" fill="none"/>
<rect x="425.40" y="517.6" width="142.90" height="42.39999999999998" fill="#fff" stroke="#222" stroke-width="1"/>
<line x1="427.90" y1="530.10" x2="461.90" y2="530.10" stroke="#ff1414" stroke-width="1.9"/>
<line x1="427.90" y1="549.10" x2="461.90" y2="549.10" stroke="#ff1f1f" stroke-width="1.6" stroke-dasharray="5.5 4.3"/>
<text x="466.40" y="535.20" font-size="15.2">i=2000mA/cm<tspan dx="0.6" dy="-5.9" font-size="10">2</tspan></text>
<text x="466.40" y="553.90" font-size="15.5">Linear fit</text>
<rect x="382.1" y="517.6" width="186.20" height="186.4" fill="none" stroke="#000" stroke-width="1.8"/>
<text x="578.60" y="521.80" font-size="15.3" text-anchor="start" font-weight="bold" >1.10</text>
<text x="578.60" y="545.10" font-size="15.3" text-anchor="start" font-weight="bold" >1.05</text>
<text x="578.60" y="568.40" font-size="15.3" text-anchor="start" font-weight="bold" >1.00</text>
<text x="578.60" y="591.70" font-size="15.3" text-anchor="start" font-weight="bold" >0.95</text>
<text x="578.60" y="615.00" font-size="15.3" text-anchor="start" font-weight="bold" >0.90</text>
<text x="578.60" y="638.30" font-size="15.3" text-anchor="start" font-weight="bold" >0.85</text>
<text x="578.60" y="661.60" font-size="15.3" text-anchor="start" font-weight="bold" >0.80</text>
<text x="578.60" y="684.90" font-size="15.3" text-anchor="start" font-weight="bold" >0.75</text>
<text x="578.60" y="708.20" font-size="15.3" text-anchor="start" font-weight="bold" >0.70</text>
<text x="382.10" y="726.00" font-size="15.3" text-anchor="middle" font-weight="bold" >54</text>
<text x="444.17" y="726.00" font-size="15.3" text-anchor="middle" font-weight="bold" >55</text>
<text x="506.23" y="726.00" font-size="15.3" text-anchor="middle" font-weight="bold" >56</text>
<text x="568.30" y="726.00" font-size="15.3" text-anchor="middle" font-weight="bold" >57</text>
<text x="382.90" y="511.20" font-size="17.6" text-anchor="start" font-weight="normal" >b3)</text>
<text transform="translate(627.7,611.3) rotate(-90)" font-size="17.4" font-weight="bold" text-anchor="middle">Water saturation (-)</text>
<text x="486.9" y="628.1" font-size="17.4">t<tspan dy="4.9" font-size="11.8">sat</tspan><tspan dy="-4.9">=0.2s</tspan></text>
<text x="211.6" y="756.7" font-size="17.4" font-weight="bold" text-anchor="middle">Distance (μm)</text>
<text x="475.2" y="754.8" font-size="17.4" font-weight="bold" text-anchor="middle">Time (s)</text>
<line x1="12" y1="775.1" x2="46" y2="775.1" stroke="#5500ff" stroke-width="1.9"/>
<text x="50.6" y="780.3" font-size="15.3">t<tspan dy="3.9" font-size="10.5">1</tspan><tspan dy="-3.9">=start</tspan></text>
<line x1="141" y1="775.1" x2="175" y2="775.1" stroke="#4000ff" stroke-width="1.9"/>
<text x="179.6" y="780.3" font-size="15.3">t<tspan dy="3.9" font-size="10.5">2</tspan><tspan dy="-3.9">=+0.2s</tspan></text>
<line x1="270" y1="775.1" x2="304" y2="775.1" stroke="#2828ff" stroke-width="1.9"/>
<text x="308.6" y="780.3" font-size="15.3">t<tspan dy="3.9" font-size="10.5">3</tspan><tspan dy="-3.9">=+0.4s</tspan></text>
<line x1="399" y1="775.1" x2="433" y2="775.1" stroke="#0080ff" stroke-width="1.9"/>
<text x="437.6" y="780.3" font-size="15.3">t<tspan dy="3.9" font-size="10.5">5</tspan><tspan dy="-3.9">=+0.8s</tspan></text>
<line x1="527.5" y1="775.1" x2="561.5" y2="775.1" stroke="#00a5ff" stroke-width="1.9"/>
<text x="566.1" y="780.3" font-size="15.3">t<tspan dy="3.9" font-size="10.5">6</tspan><tspan dy="-3.9">=+1.0s</tspan></text>
<line x1="12" y1="797.7" x2="46" y2="797.7" stroke="#00ccff" stroke-width="1.9"/>
<text x="50.6" y="802.9" font-size="15.3">t<tspan dy="3.9" font-size="10.5">7</tspan><tspan dy="-3.9">=+1.2s</tspan></text>
<line x1="141" y1="797.7" x2="175" y2="797.7" stroke="#00f5ff" stroke-width="1.9"/>
<text x="179.6" y="802.9" font-size="15.3">t<tspan dy="3.9" font-size="10.5">8</tspan><tspan dy="-3.9">=+1.4s</tspan></text>
<line x1="270" y1="797.7" x2="304" y2="797.7" stroke="#00faa0" stroke-width="1.9"/>
<text x="308.6" y="802.9" font-size="15.3">t<tspan dy="3.9" font-size="10.5">9</tspan><tspan dy="-3.9">=+1.6s</tspan></text>
<line x1="399" y1="797.7" x2="433" y2="797.7" stroke="#00ff40" stroke-width="1.9"/>
<text x="437.6" y="802.9" font-size="15.3">t<tspan dy="3.9" font-size="10.5">10</tspan><tspan dy="-3.9">=+1.8s</tspan></text>
<line x1="527.5" y1="797.7" x2="561.5" y2="797.7" stroke="#10ff00" stroke-width="1.9"/>
<text x="566.1" y="802.9" font-size="15.3">t<tspan dy="3.9" font-size="10.5">11</tspan><tspan dy="-3.9">=+2.0s</tspan></text>
<line x1="12" y1="820.2" x2="46" y2="820.2" stroke="#50fa00" stroke-width="1.9"/>
<text x="50.6" y="825.4" font-size="15.3">t<tspan dy="3.9" font-size="10.5">12</tspan><tspan dy="-3.9">=+4.0s</tspan></text>
<line x1="141" y1="820.2" x2="175" y2="820.2" stroke="#a5f500" stroke-width="1.9"/>
<text x="179.6" y="825.4" font-size="15.3">t<tspan dy="3.9" font-size="10.5">13</tspan><tspan dy="-3.9">=+6.0s</tspan></text>
<line x1="270" y1="820.2" x2="304" y2="820.2" stroke="#ffeb00" stroke-width="1.9"/>
<text x="308.6" y="825.4" font-size="15.3">t<tspan dy="3.9" font-size="10.5">14</tspan><tspan dy="-3.9">=+8.0s</tspan></text>
<line x1="399" y1="820.2" x2="433" y2="820.2" stroke="#ffbe00" stroke-width="1.9"/>
<text x="437.6" y="825.4" font-size="15.3">t<tspan dy="3.9" font-size="10.5">15</tspan><tspan dy="-3.9">=+10.0s</tspan></text>
<line x1="527.5" y1="820.2" x2="561.5" y2="820.2" stroke="#ff9000" stroke-width="1.9"/>
<text x="566.1" y="825.4" font-size="15.3">t<tspan dy="3.9" font-size="10.5">16</tspan><tspan dy="-3.9">=+12.0s</tspan></text>
<line x1="12" y1="842.7" x2="46" y2="842.7" stroke="#ff5000" stroke-width="1.9"/>
<text x="50.6" y="847.9" font-size="15.3">t<tspan dy="3.9" font-size="10.5">17</tspan><tspan dy="-3.9">=+14.0s</tspan></text>
<line x1="141" y1="842.7" x2="175" y2="842.7" stroke="#ff2800" stroke-width="1.9"/>
<text x="179.6" y="847.9" font-size="15.3">t<tspan dy="3.9" font-size="10.5">18</tspan><tspan dy="-3.9">=+16.0s</tspan></text>
<line x1="270" y1="842.7" x2="304" y2="842.7" stroke="#ff0a00" stroke-width="1.9"/>
<text x="308.6" y="847.9" font-size="15.3">t<tspan dy="3.9" font-size="10.5">19</tspan><tspan dy="-3.9">=+20.0s</tspan></text>
<line x1="399" y1="842.7" x2="433" y2="842.7" stroke="#ff0000" stroke-width="1.9"/>
<text x="437.6" y="847.9" font-size="15.3">t<tspan dy="3.9" font-size="10.5">20</tspan><tspan dy="-3.9">=+40.0s</tspan></text>
</svg>
</body></html>
